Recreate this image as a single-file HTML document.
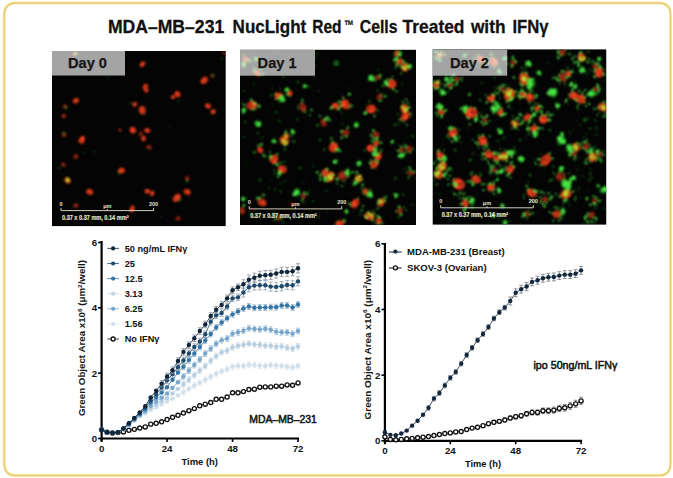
<!DOCTYPE html>
<html><head><meta charset="utf-8"><title>MDA-MB-231 NucLight Red Cells Treated with IFNg</title>
<style>
html,body{margin:0;padding:0;background:#fff;width:673px;height:478px;overflow:hidden}
svg{display:block;font-family:"Liberation Sans", sans-serif}
</style></head><body>
<svg width="673" height="478" viewBox="0 0 673 478">
<rect x="4.3" y="2.9" width="666.2" height="472.6" rx="10.5" ry="10.5" fill="none" stroke="#fdf3c6" stroke-width="3.4"/>
<rect x="4.3" y="2.9" width="666.2" height="472.6" rx="10.5" ry="10.5" fill="none" stroke="#e8c66a" stroke-width="1.5"/>
<text x="107.9" y="32.8" font-size="18.4" font-weight="bold" text-anchor="start" fill="#111" textLength="116.3" lengthAdjust="spacingAndGlyphs" stroke="#111" stroke-width="0.3">MDA&#8211;MB&#8211;231</text>
<text x="232.6" y="32.8" font-size="18.4" font-weight="bold" text-anchor="start" fill="#111" textLength="73.7" lengthAdjust="spacingAndGlyphs" stroke="#111" stroke-width="0.3">NucLight</text>
<text x="312.3" y="32.8" font-size="18.4" font-weight="bold" text-anchor="start" fill="#111" textLength="29.3" lengthAdjust="spacingAndGlyphs" stroke="#111" stroke-width="0.3">Red</text>
<text x="359.8" y="32.8" font-size="18.4" font-weight="bold" text-anchor="start" fill="#111" textLength="37.7" lengthAdjust="spacingAndGlyphs" stroke="#111" stroke-width="0.3">Cells</text>
<text x="402.6" y="32.8" font-size="18.4" font-weight="bold" text-anchor="start" fill="#111" textLength="61.9" lengthAdjust="spacingAndGlyphs" stroke="#111" stroke-width="0.3">Treated</text>
<text x="470.9" y="32.8" font-size="18.4" font-weight="bold" text-anchor="start" fill="#111" textLength="34.6" lengthAdjust="spacingAndGlyphs" stroke="#111" stroke-width="0.3">with</text>
<text x="512.4" y="32.8" font-size="18.4" font-weight="bold" text-anchor="start" fill="#111" textLength="36.1" lengthAdjust="spacingAndGlyphs" stroke="#111" stroke-width="0.3">IFN&#947;</text>
<text x="344.0" y="29.6" font-size="14" font-weight="bold" text-anchor="start" fill="#111" textLength="9.8" lengthAdjust="spacingAndGlyphs" stroke="#111" stroke-width="0.2">&#8482;</text>
<path d="M101.6,241 V441.5" stroke="#000" stroke-width="2.2" fill="none"/>
<path d="M100.5,438.5 H299.016" stroke="#000" stroke-width="2.2" fill="none"/>
<path d="M98.1,438.50 H101.6" stroke="#000" stroke-width="1.6"/>
<text x="97.2" y="442.00" font-size="9.7" font-weight="bold" text-anchor="end" fill="#111" >0</text>
<path d="M98.1,373.16 H101.6" stroke="#000" stroke-width="1.6"/>
<text x="97.2" y="376.66" font-size="9.7" font-weight="bold" text-anchor="end" fill="#111" >2</text>
<path d="M98.1,307.82 H101.6" stroke="#000" stroke-width="1.6"/>
<text x="97.2" y="311.32" font-size="9.7" font-weight="bold" text-anchor="end" fill="#111" >4</text>
<path d="M98.1,242.48 H101.6" stroke="#000" stroke-width="1.6"/>
<text x="97.2" y="245.98" font-size="9.7" font-weight="bold" text-anchor="end" fill="#111" >6</text>
<path d="M101.60,438.5 V442.0" stroke="#000" stroke-width="1.6"/>
<text x="101.60" y="452.00" font-size="9.7" font-weight="bold" text-anchor="middle" fill="#111" >0</text>
<path d="M167.07,438.5 V442.0" stroke="#000" stroke-width="1.6"/>
<text x="167.07" y="452.00" font-size="9.7" font-weight="bold" text-anchor="middle" fill="#111" >24</text>
<path d="M232.54,438.5 V442.0" stroke="#000" stroke-width="1.6"/>
<text x="232.54" y="452.00" font-size="9.7" font-weight="bold" text-anchor="middle" fill="#111" >48</text>
<path d="M298.02,438.5 V442.0" stroke="#000" stroke-width="1.6"/>
<text x="298.02" y="452.00" font-size="9.7" font-weight="bold" text-anchor="middle" fill="#111" >72</text>
<path d="M101.60,429.68 L107.06,432.29 L112.51,432.95 L117.97,432.62 L123.42,431.97 L128.88,430.33 L134.34,429.35 L139.79,428.05 L145.25,426.90 L150.70,424.13 L156.16,423.31 L161.62,421.84 L167.07,419.55 L172.53,417.26 L177.98,415.30 L183.44,413.02 L188.90,410.73 L194.35,408.61 L199.81,405.83 L205.26,404.20 L210.72,402.56 L216.18,399.30 L221.63,399.30 L227.09,397.01 L232.54,392.76 L238.00,392.76 L243.46,391.62 L248.91,389.50 L254.37,389.17 L259.82,387.21 L265.28,386.88 L270.74,386.88 L276.19,386.23 L281.65,386.23 L287.10,384.92 L292.56,385.25 L298.02,382.96" fill="none" stroke="#111" stroke-width="0.8"/>
<circle cx="101.60" cy="429.68" r="2.05" fill="#fff" stroke="#111" stroke-width="1.35"/>
<circle cx="107.06" cy="432.29" r="2.05" fill="#fff" stroke="#111" stroke-width="1.35"/>
<circle cx="112.51" cy="432.95" r="2.05" fill="#fff" stroke="#111" stroke-width="1.35"/>
<circle cx="117.97" cy="432.62" r="2.05" fill="#fff" stroke="#111" stroke-width="1.35"/>
<circle cx="123.42" cy="431.97" r="2.05" fill="#fff" stroke="#111" stroke-width="1.35"/>
<circle cx="128.88" cy="430.33" r="2.05" fill="#fff" stroke="#111" stroke-width="1.35"/>
<circle cx="134.34" cy="429.35" r="2.05" fill="#fff" stroke="#111" stroke-width="1.35"/>
<circle cx="139.79" cy="428.05" r="2.05" fill="#fff" stroke="#111" stroke-width="1.35"/>
<circle cx="145.25" cy="426.90" r="2.05" fill="#fff" stroke="#111" stroke-width="1.35"/>
<circle cx="150.70" cy="424.13" r="2.05" fill="#fff" stroke="#111" stroke-width="1.35"/>
<circle cx="156.16" cy="423.31" r="2.05" fill="#fff" stroke="#111" stroke-width="1.35"/>
<circle cx="161.62" cy="421.84" r="2.05" fill="#fff" stroke="#111" stroke-width="1.35"/>
<circle cx="167.07" cy="419.55" r="2.05" fill="#fff" stroke="#111" stroke-width="1.35"/>
<circle cx="172.53" cy="417.26" r="2.05" fill="#fff" stroke="#111" stroke-width="1.35"/>
<circle cx="177.98" cy="415.30" r="2.05" fill="#fff" stroke="#111" stroke-width="1.35"/>
<circle cx="183.44" cy="413.02" r="2.05" fill="#fff" stroke="#111" stroke-width="1.35"/>
<circle cx="188.90" cy="410.73" r="2.05" fill="#fff" stroke="#111" stroke-width="1.35"/>
<circle cx="194.35" cy="408.61" r="2.05" fill="#fff" stroke="#111" stroke-width="1.35"/>
<circle cx="199.81" cy="405.83" r="2.05" fill="#fff" stroke="#111" stroke-width="1.35"/>
<circle cx="205.26" cy="404.20" r="2.05" fill="#fff" stroke="#111" stroke-width="1.35"/>
<circle cx="210.72" cy="402.56" r="2.05" fill="#fff" stroke="#111" stroke-width="1.35"/>
<circle cx="216.18" cy="399.30" r="2.05" fill="#fff" stroke="#111" stroke-width="1.35"/>
<circle cx="221.63" cy="399.30" r="2.05" fill="#fff" stroke="#111" stroke-width="1.35"/>
<circle cx="227.09" cy="397.01" r="2.05" fill="#fff" stroke="#111" stroke-width="1.35"/>
<circle cx="232.54" cy="392.76" r="2.05" fill="#fff" stroke="#111" stroke-width="1.35"/>
<circle cx="238.00" cy="392.76" r="2.05" fill="#fff" stroke="#111" stroke-width="1.35"/>
<circle cx="243.46" cy="391.62" r="2.05" fill="#fff" stroke="#111" stroke-width="1.35"/>
<circle cx="248.91" cy="389.50" r="2.05" fill="#fff" stroke="#111" stroke-width="1.35"/>
<circle cx="254.37" cy="389.17" r="2.05" fill="#fff" stroke="#111" stroke-width="1.35"/>
<circle cx="259.82" cy="387.21" r="2.05" fill="#fff" stroke="#111" stroke-width="1.35"/>
<circle cx="265.28" cy="386.88" r="2.05" fill="#fff" stroke="#111" stroke-width="1.35"/>
<circle cx="270.74" cy="386.88" r="2.05" fill="#fff" stroke="#111" stroke-width="1.35"/>
<circle cx="276.19" cy="386.23" r="2.05" fill="#fff" stroke="#111" stroke-width="1.35"/>
<circle cx="281.65" cy="386.23" r="2.05" fill="#fff" stroke="#111" stroke-width="1.35"/>
<circle cx="287.10" cy="384.92" r="2.05" fill="#fff" stroke="#111" stroke-width="1.35"/>
<circle cx="292.56" cy="385.25" r="2.05" fill="#fff" stroke="#111" stroke-width="1.35"/>
<circle cx="298.02" cy="382.96" r="2.05" fill="#fff" stroke="#111" stroke-width="1.35"/>
<path d="M101.60,429.68 L107.06,432.29 L112.51,432.95 L117.97,432.29 L123.42,429.35 L128.88,425.43 L134.34,420.53 L139.79,416.28 L145.25,413.34 L150.70,410.08 L156.16,407.14 L161.62,404.20 L167.07,401.58 L172.53,398.64 L177.98,395.38 L183.44,392.11 L188.90,388.84 L194.35,385.57 L199.81,382.63 L205.26,379.69 L210.72,376.75 L216.18,373.81 L221.63,371.20 L227.09,369.24 L232.54,366.63 L238.00,365.97 L243.46,365.97 L248.91,364.67 L254.37,364.99 L259.82,365.65 L265.28,365.97 L270.74,364.99 L276.19,365.65 L281.65,365.97 L287.10,366.63 L292.56,367.28 L298.02,365.97" fill="none" stroke="#d0dfea" stroke-width="0.8"/>
<path d="M183.44,389.17V395.05M181.44,389.17h4M181.44,395.05h4" stroke="#dfe8ef" stroke-width="0.75" fill="none"/>
<path d="M188.90,385.90V391.78M186.90,385.90h4M186.90,391.78h4" stroke="#dfe8ef" stroke-width="0.75" fill="none"/>
<path d="M194.35,382.63V388.51M192.35,382.63h4M192.35,388.51h4" stroke="#dfe8ef" stroke-width="0.75" fill="none"/>
<path d="M199.81,379.69V385.57M197.81,379.69h4M197.81,385.57h4" stroke="#dfe8ef" stroke-width="0.75" fill="none"/>
<path d="M205.26,376.75V382.63M203.26,376.75h4M203.26,382.63h4" stroke="#dfe8ef" stroke-width="0.75" fill="none"/>
<path d="M210.72,373.81V379.69M208.72,373.81h4M208.72,379.69h4" stroke="#dfe8ef" stroke-width="0.75" fill="none"/>
<path d="M216.18,370.87V376.75M214.18,370.87h4M214.18,376.75h4" stroke="#dfe8ef" stroke-width="0.75" fill="none"/>
<path d="M221.63,368.26V374.14M219.63,368.26h4M219.63,374.14h4" stroke="#dfe8ef" stroke-width="0.75" fill="none"/>
<path d="M227.09,366.30V372.18M225.09,366.30h4M225.09,372.18h4" stroke="#dfe8ef" stroke-width="0.75" fill="none"/>
<path d="M232.54,363.69V369.57M230.54,363.69h4M230.54,369.57h4" stroke="#dfe8ef" stroke-width="0.75" fill="none"/>
<path d="M238.00,363.03V368.91M236.00,363.03h4M236.00,368.91h4" stroke="#dfe8ef" stroke-width="0.75" fill="none"/>
<path d="M243.46,363.03V368.91M241.46,363.03h4M241.46,368.91h4" stroke="#dfe8ef" stroke-width="0.75" fill="none"/>
<path d="M248.91,361.73V367.61M246.91,361.73h4M246.91,367.61h4" stroke="#dfe8ef" stroke-width="0.75" fill="none"/>
<path d="M254.37,362.05V367.93M252.37,362.05h4M252.37,367.93h4" stroke="#dfe8ef" stroke-width="0.75" fill="none"/>
<path d="M259.82,362.71V368.59M257.82,362.71h4M257.82,368.59h4" stroke="#dfe8ef" stroke-width="0.75" fill="none"/>
<path d="M265.28,363.03V368.91M263.28,363.03h4M263.28,368.91h4" stroke="#dfe8ef" stroke-width="0.75" fill="none"/>
<path d="M270.74,362.05V367.93M268.74,362.05h4M268.74,367.93h4" stroke="#dfe8ef" stroke-width="0.75" fill="none"/>
<path d="M276.19,362.71V368.59M274.19,362.71h4M274.19,368.59h4" stroke="#dfe8ef" stroke-width="0.75" fill="none"/>
<path d="M281.65,363.03V368.91M279.65,363.03h4M279.65,368.91h4" stroke="#dfe8ef" stroke-width="0.75" fill="none"/>
<path d="M287.10,363.69V369.57M285.10,363.69h4M285.10,369.57h4" stroke="#dfe8ef" stroke-width="0.75" fill="none"/>
<path d="M292.56,364.34V370.22M290.56,364.34h4M290.56,370.22h4" stroke="#dfe8ef" stroke-width="0.75" fill="none"/>
<path d="M298.02,363.03V368.91M296.02,363.03h4M296.02,368.91h4" stroke="#dfe8ef" stroke-width="0.75" fill="none"/>
<circle cx="101.60" cy="429.68" r="2.20" fill="#d0dfea"/>
<circle cx="107.06" cy="432.29" r="2.20" fill="#d0dfea"/>
<circle cx="112.51" cy="432.95" r="2.20" fill="#d0dfea"/>
<circle cx="117.97" cy="432.29" r="2.20" fill="#d0dfea"/>
<circle cx="123.42" cy="429.35" r="2.20" fill="#d0dfea"/>
<circle cx="128.88" cy="425.43" r="2.20" fill="#d0dfea"/>
<circle cx="134.34" cy="420.53" r="2.20" fill="#d0dfea"/>
<circle cx="139.79" cy="416.28" r="2.20" fill="#d0dfea"/>
<circle cx="145.25" cy="413.34" r="2.20" fill="#d0dfea"/>
<circle cx="150.70" cy="410.08" r="2.20" fill="#d0dfea"/>
<circle cx="156.16" cy="407.14" r="2.20" fill="#d0dfea"/>
<circle cx="161.62" cy="404.20" r="2.20" fill="#d0dfea"/>
<circle cx="167.07" cy="401.58" r="2.20" fill="#d0dfea"/>
<circle cx="172.53" cy="398.64" r="2.20" fill="#d0dfea"/>
<circle cx="177.98" cy="395.38" r="2.20" fill="#d0dfea"/>
<circle cx="183.44" cy="392.11" r="2.20" fill="#d0dfea"/>
<circle cx="188.90" cy="388.84" r="2.20" fill="#d0dfea"/>
<circle cx="194.35" cy="385.57" r="2.20" fill="#d0dfea"/>
<circle cx="199.81" cy="382.63" r="2.20" fill="#d0dfea"/>
<circle cx="205.26" cy="379.69" r="2.20" fill="#d0dfea"/>
<circle cx="210.72" cy="376.75" r="2.20" fill="#d0dfea"/>
<circle cx="216.18" cy="373.81" r="2.20" fill="#d0dfea"/>
<circle cx="221.63" cy="371.20" r="2.20" fill="#d0dfea"/>
<circle cx="227.09" cy="369.24" r="2.20" fill="#d0dfea"/>
<circle cx="232.54" cy="366.63" r="2.20" fill="#d0dfea"/>
<circle cx="238.00" cy="365.97" r="2.20" fill="#d0dfea"/>
<circle cx="243.46" cy="365.97" r="2.20" fill="#d0dfea"/>
<circle cx="248.91" cy="364.67" r="2.20" fill="#d0dfea"/>
<circle cx="254.37" cy="364.99" r="2.20" fill="#d0dfea"/>
<circle cx="259.82" cy="365.65" r="2.20" fill="#d0dfea"/>
<circle cx="265.28" cy="365.97" r="2.20" fill="#d0dfea"/>
<circle cx="270.74" cy="364.99" r="2.20" fill="#d0dfea"/>
<circle cx="276.19" cy="365.65" r="2.20" fill="#d0dfea"/>
<circle cx="281.65" cy="365.97" r="2.20" fill="#d0dfea"/>
<circle cx="287.10" cy="366.63" r="2.20" fill="#d0dfea"/>
<circle cx="292.56" cy="367.28" r="2.20" fill="#d0dfea"/>
<circle cx="298.02" cy="365.97" r="2.20" fill="#d0dfea"/>
<path d="M101.60,429.68 L107.06,432.29 L112.51,432.95 L117.97,432.29 L123.42,429.03 L128.88,425.11 L134.34,420.20 L139.79,415.63 L145.25,412.36 L150.70,408.12 L156.16,404.52 L161.62,401.26 L167.07,397.99 L172.53,393.42 L177.98,388.84 L183.44,384.27 L188.90,379.69 L194.35,375.12 L199.81,370.55 L205.26,365.97 L210.72,360.75 L216.18,356.17 L221.63,352.25 L227.09,350.62 L232.54,347.35 L238.00,345.72 L243.46,344.74 L248.91,343.76 L254.37,344.41 L259.82,344.74 L265.28,345.72 L270.74,345.72 L276.19,346.70 L281.65,346.37 L287.10,347.68 L292.56,348.66 L298.02,346.37" fill="none" stroke="#b7cee0" stroke-width="0.8"/>
<path d="M183.44,381.33V387.21M181.44,381.33h4M181.44,387.21h4" stroke="#cbd9e5" stroke-width="0.75" fill="none"/>
<path d="M188.90,376.75V382.63M186.90,376.75h4M186.90,382.63h4" stroke="#cbd9e5" stroke-width="0.75" fill="none"/>
<path d="M194.35,372.18V378.06M192.35,372.18h4M192.35,378.06h4" stroke="#cbd9e5" stroke-width="0.75" fill="none"/>
<path d="M199.81,367.61V373.49M197.81,367.61h4M197.81,373.49h4" stroke="#cbd9e5" stroke-width="0.75" fill="none"/>
<path d="M205.26,363.03V368.91M203.26,363.03h4M203.26,368.91h4" stroke="#cbd9e5" stroke-width="0.75" fill="none"/>
<path d="M210.72,357.81V363.69M208.72,357.81h4M208.72,363.69h4" stroke="#cbd9e5" stroke-width="0.75" fill="none"/>
<path d="M216.18,353.23V359.11M214.18,353.23h4M214.18,359.11h4" stroke="#cbd9e5" stroke-width="0.75" fill="none"/>
<path d="M221.63,349.31V355.19M219.63,349.31h4M219.63,355.19h4" stroke="#cbd9e5" stroke-width="0.75" fill="none"/>
<path d="M227.09,347.68V353.56M225.09,347.68h4M225.09,353.56h4" stroke="#cbd9e5" stroke-width="0.75" fill="none"/>
<path d="M232.54,344.41V350.29M230.54,344.41h4M230.54,350.29h4" stroke="#cbd9e5" stroke-width="0.75" fill="none"/>
<path d="M238.00,342.78V348.66M236.00,342.78h4M236.00,348.66h4" stroke="#cbd9e5" stroke-width="0.75" fill="none"/>
<path d="M243.46,341.80V347.68M241.46,341.80h4M241.46,347.68h4" stroke="#cbd9e5" stroke-width="0.75" fill="none"/>
<path d="M248.91,340.82V346.70M246.91,340.82h4M246.91,346.70h4" stroke="#cbd9e5" stroke-width="0.75" fill="none"/>
<path d="M254.37,341.47V347.35M252.37,341.47h4M252.37,347.35h4" stroke="#cbd9e5" stroke-width="0.75" fill="none"/>
<path d="M259.82,341.80V347.68M257.82,341.80h4M257.82,347.68h4" stroke="#cbd9e5" stroke-width="0.75" fill="none"/>
<path d="M265.28,342.78V348.66M263.28,342.78h4M263.28,348.66h4" stroke="#cbd9e5" stroke-width="0.75" fill="none"/>
<path d="M270.74,342.78V348.66M268.74,342.78h4M268.74,348.66h4" stroke="#cbd9e5" stroke-width="0.75" fill="none"/>
<path d="M276.19,343.76V349.64M274.19,343.76h4M274.19,349.64h4" stroke="#cbd9e5" stroke-width="0.75" fill="none"/>
<path d="M281.65,343.43V349.31M279.65,343.43h4M279.65,349.31h4" stroke="#cbd9e5" stroke-width="0.75" fill="none"/>
<path d="M287.10,344.74V350.62M285.10,344.74h4M285.10,350.62h4" stroke="#cbd9e5" stroke-width="0.75" fill="none"/>
<path d="M292.56,345.72V351.60M290.56,345.72h4M290.56,351.60h4" stroke="#cbd9e5" stroke-width="0.75" fill="none"/>
<path d="M298.02,343.43V349.31M296.02,343.43h4M296.02,349.31h4" stroke="#cbd9e5" stroke-width="0.75" fill="none"/>
<circle cx="101.60" cy="429.68" r="2.20" fill="#b7cee0"/>
<circle cx="107.06" cy="432.29" r="2.20" fill="#b7cee0"/>
<circle cx="112.51" cy="432.95" r="2.20" fill="#b7cee0"/>
<circle cx="117.97" cy="432.29" r="2.20" fill="#b7cee0"/>
<circle cx="123.42" cy="429.03" r="2.20" fill="#b7cee0"/>
<circle cx="128.88" cy="425.11" r="2.20" fill="#b7cee0"/>
<circle cx="134.34" cy="420.20" r="2.20" fill="#b7cee0"/>
<circle cx="139.79" cy="415.63" r="2.20" fill="#b7cee0"/>
<circle cx="145.25" cy="412.36" r="2.20" fill="#b7cee0"/>
<circle cx="150.70" cy="408.12" r="2.20" fill="#b7cee0"/>
<circle cx="156.16" cy="404.52" r="2.20" fill="#b7cee0"/>
<circle cx="161.62" cy="401.26" r="2.20" fill="#b7cee0"/>
<circle cx="167.07" cy="397.99" r="2.20" fill="#b7cee0"/>
<circle cx="172.53" cy="393.42" r="2.20" fill="#b7cee0"/>
<circle cx="177.98" cy="388.84" r="2.20" fill="#b7cee0"/>
<circle cx="183.44" cy="384.27" r="2.20" fill="#b7cee0"/>
<circle cx="188.90" cy="379.69" r="2.20" fill="#b7cee0"/>
<circle cx="194.35" cy="375.12" r="2.20" fill="#b7cee0"/>
<circle cx="199.81" cy="370.55" r="2.20" fill="#b7cee0"/>
<circle cx="205.26" cy="365.97" r="2.20" fill="#b7cee0"/>
<circle cx="210.72" cy="360.75" r="2.20" fill="#b7cee0"/>
<circle cx="216.18" cy="356.17" r="2.20" fill="#b7cee0"/>
<circle cx="221.63" cy="352.25" r="2.20" fill="#b7cee0"/>
<circle cx="227.09" cy="350.62" r="2.20" fill="#b7cee0"/>
<circle cx="232.54" cy="347.35" r="2.20" fill="#b7cee0"/>
<circle cx="238.00" cy="345.72" r="2.20" fill="#b7cee0"/>
<circle cx="243.46" cy="344.74" r="2.20" fill="#b7cee0"/>
<circle cx="248.91" cy="343.76" r="2.20" fill="#b7cee0"/>
<circle cx="254.37" cy="344.41" r="2.20" fill="#b7cee0"/>
<circle cx="259.82" cy="344.74" r="2.20" fill="#b7cee0"/>
<circle cx="265.28" cy="345.72" r="2.20" fill="#b7cee0"/>
<circle cx="270.74" cy="345.72" r="2.20" fill="#b7cee0"/>
<circle cx="276.19" cy="346.70" r="2.20" fill="#b7cee0"/>
<circle cx="281.65" cy="346.37" r="2.20" fill="#b7cee0"/>
<circle cx="287.10" cy="347.68" r="2.20" fill="#b7cee0"/>
<circle cx="292.56" cy="348.66" r="2.20" fill="#b7cee0"/>
<circle cx="298.02" cy="346.37" r="2.20" fill="#b7cee0"/>
<path d="M101.60,429.68 L107.06,432.29 L112.51,432.95 L117.97,432.29 L123.42,429.03 L128.88,424.78 L134.34,419.88 L139.79,414.98 L145.25,411.06 L150.70,405.83 L156.16,401.58 L161.62,397.66 L167.07,393.42 L172.53,387.86 L177.98,382.31 L183.44,376.43 L188.90,370.55 L194.35,364.99 L199.81,359.44 L205.26,353.56 L210.72,348.66 L216.18,343.76 L221.63,340.16 L227.09,338.53 L232.54,333.63 L238.00,332.32 L243.46,330.69 L248.91,328.40 L254.37,329.06 L259.82,329.38 L265.28,328.73 L270.74,329.71 L276.19,331.67 L281.65,332.32 L287.10,332.32 L292.56,333.63 L298.02,331.02" fill="none" stroke="#79a6ca" stroke-width="0.8"/>
<path d="M183.44,373.49V379.37M181.44,373.49h4M181.44,379.37h4" stroke="#a9c4da" stroke-width="0.75" fill="none"/>
<path d="M188.90,367.61V373.49M186.90,367.61h4M186.90,373.49h4" stroke="#a9c4da" stroke-width="0.75" fill="none"/>
<path d="M194.35,362.05V367.93M192.35,362.05h4M192.35,367.93h4" stroke="#a9c4da" stroke-width="0.75" fill="none"/>
<path d="M199.81,356.50V362.38M197.81,356.50h4M197.81,362.38h4" stroke="#a9c4da" stroke-width="0.75" fill="none"/>
<path d="M205.26,350.62V356.50M203.26,350.62h4M203.26,356.50h4" stroke="#a9c4da" stroke-width="0.75" fill="none"/>
<path d="M210.72,345.72V351.60M208.72,345.72h4M208.72,351.60h4" stroke="#a9c4da" stroke-width="0.75" fill="none"/>
<path d="M216.18,340.82V346.70M214.18,340.82h4M214.18,346.70h4" stroke="#a9c4da" stroke-width="0.75" fill="none"/>
<path d="M221.63,337.22V343.10M219.63,337.22h4M219.63,343.10h4" stroke="#a9c4da" stroke-width="0.75" fill="none"/>
<path d="M227.09,335.59V341.47M225.09,335.59h4M225.09,341.47h4" stroke="#a9c4da" stroke-width="0.75" fill="none"/>
<path d="M232.54,330.69V336.57M230.54,330.69h4M230.54,336.57h4" stroke="#a9c4da" stroke-width="0.75" fill="none"/>
<path d="M238.00,329.38V335.26M236.00,329.38h4M236.00,335.26h4" stroke="#a9c4da" stroke-width="0.75" fill="none"/>
<path d="M243.46,327.75V333.63M241.46,327.75h4M241.46,333.63h4" stroke="#a9c4da" stroke-width="0.75" fill="none"/>
<path d="M248.91,325.46V331.34M246.91,325.46h4M246.91,331.34h4" stroke="#a9c4da" stroke-width="0.75" fill="none"/>
<path d="M254.37,326.12V332.00M252.37,326.12h4M252.37,332.00h4" stroke="#a9c4da" stroke-width="0.75" fill="none"/>
<path d="M259.82,326.44V332.32M257.82,326.44h4M257.82,332.32h4" stroke="#a9c4da" stroke-width="0.75" fill="none"/>
<path d="M265.28,325.79V331.67M263.28,325.79h4M263.28,331.67h4" stroke="#a9c4da" stroke-width="0.75" fill="none"/>
<path d="M270.74,326.77V332.65M268.74,326.77h4M268.74,332.65h4" stroke="#a9c4da" stroke-width="0.75" fill="none"/>
<path d="M276.19,328.73V334.61M274.19,328.73h4M274.19,334.61h4" stroke="#a9c4da" stroke-width="0.75" fill="none"/>
<path d="M281.65,329.38V335.26M279.65,329.38h4M279.65,335.26h4" stroke="#a9c4da" stroke-width="0.75" fill="none"/>
<path d="M287.10,329.38V335.26M285.10,329.38h4M285.10,335.26h4" stroke="#a9c4da" stroke-width="0.75" fill="none"/>
<path d="M292.56,330.69V336.57M290.56,330.69h4M290.56,336.57h4" stroke="#a9c4da" stroke-width="0.75" fill="none"/>
<path d="M298.02,328.08V333.96M296.02,328.08h4M296.02,333.96h4" stroke="#a9c4da" stroke-width="0.75" fill="none"/>
<circle cx="101.60" cy="429.68" r="2.20" fill="#79a6ca"/>
<circle cx="107.06" cy="432.29" r="2.20" fill="#79a6ca"/>
<circle cx="112.51" cy="432.95" r="2.20" fill="#79a6ca"/>
<circle cx="117.97" cy="432.29" r="2.20" fill="#79a6ca"/>
<circle cx="123.42" cy="429.03" r="2.20" fill="#79a6ca"/>
<circle cx="128.88" cy="424.78" r="2.20" fill="#79a6ca"/>
<circle cx="134.34" cy="419.88" r="2.20" fill="#79a6ca"/>
<circle cx="139.79" cy="414.98" r="2.20" fill="#79a6ca"/>
<circle cx="145.25" cy="411.06" r="2.20" fill="#79a6ca"/>
<circle cx="150.70" cy="405.83" r="2.20" fill="#79a6ca"/>
<circle cx="156.16" cy="401.58" r="2.20" fill="#79a6ca"/>
<circle cx="161.62" cy="397.66" r="2.20" fill="#79a6ca"/>
<circle cx="167.07" cy="393.42" r="2.20" fill="#79a6ca"/>
<circle cx="172.53" cy="387.86" r="2.20" fill="#79a6ca"/>
<circle cx="177.98" cy="382.31" r="2.20" fill="#79a6ca"/>
<circle cx="183.44" cy="376.43" r="2.20" fill="#79a6ca"/>
<circle cx="188.90" cy="370.55" r="2.20" fill="#79a6ca"/>
<circle cx="194.35" cy="364.99" r="2.20" fill="#79a6ca"/>
<circle cx="199.81" cy="359.44" r="2.20" fill="#79a6ca"/>
<circle cx="205.26" cy="353.56" r="2.20" fill="#79a6ca"/>
<circle cx="210.72" cy="348.66" r="2.20" fill="#79a6ca"/>
<circle cx="216.18" cy="343.76" r="2.20" fill="#79a6ca"/>
<circle cx="221.63" cy="340.16" r="2.20" fill="#79a6ca"/>
<circle cx="227.09" cy="338.53" r="2.20" fill="#79a6ca"/>
<circle cx="232.54" cy="333.63" r="2.20" fill="#79a6ca"/>
<circle cx="238.00" cy="332.32" r="2.20" fill="#79a6ca"/>
<circle cx="243.46" cy="330.69" r="2.20" fill="#79a6ca"/>
<circle cx="248.91" cy="328.40" r="2.20" fill="#79a6ca"/>
<circle cx="254.37" cy="329.06" r="2.20" fill="#79a6ca"/>
<circle cx="259.82" cy="329.38" r="2.20" fill="#79a6ca"/>
<circle cx="265.28" cy="328.73" r="2.20" fill="#79a6ca"/>
<circle cx="270.74" cy="329.71" r="2.20" fill="#79a6ca"/>
<circle cx="276.19" cy="331.67" r="2.20" fill="#79a6ca"/>
<circle cx="281.65" cy="332.32" r="2.20" fill="#79a6ca"/>
<circle cx="287.10" cy="332.32" r="2.20" fill="#79a6ca"/>
<circle cx="292.56" cy="333.63" r="2.20" fill="#79a6ca"/>
<circle cx="298.02" cy="331.02" r="2.20" fill="#79a6ca"/>
<path d="M101.60,429.68 L107.06,432.29 L112.51,432.95 L117.97,432.29 L123.42,428.70 L128.88,424.13 L134.34,418.90 L139.79,414.00 L145.25,409.10 L150.70,402.56 L156.16,397.66 L161.62,392.44 L167.07,387.21 L172.53,379.69 L177.98,372.51 L183.44,366.63 L188.90,360.09 L194.35,353.56 L199.81,347.02 L205.26,340.49 L210.72,333.96 L216.18,327.42 L221.63,322.52 L227.09,318.27 L232.54,314.35 L238.00,311.41 L243.46,308.47 L248.91,306.51 L254.37,307.82 L259.82,307.49 L265.28,307.49 L270.74,307.17 L276.19,307.17 L281.65,305.53 L287.10,305.53 L292.56,307.49 L298.02,304.55" fill="none" stroke="#3474a6" stroke-width="0.8"/>
<path d="M183.44,363.69V369.57M181.44,363.69h4M181.44,369.57h4" stroke="#8fb0c9" stroke-width="0.75" fill="none"/>
<path d="M188.90,357.15V363.03M186.90,357.15h4M186.90,363.03h4" stroke="#8fb0c9" stroke-width="0.75" fill="none"/>
<path d="M194.35,350.62V356.50M192.35,350.62h4M192.35,356.50h4" stroke="#8fb0c9" stroke-width="0.75" fill="none"/>
<path d="M199.81,344.08V349.96M197.81,344.08h4M197.81,349.96h4" stroke="#8fb0c9" stroke-width="0.75" fill="none"/>
<path d="M205.26,337.55V343.43M203.26,337.55h4M203.26,343.43h4" stroke="#8fb0c9" stroke-width="0.75" fill="none"/>
<path d="M210.72,331.02V336.90M208.72,331.02h4M208.72,336.90h4" stroke="#8fb0c9" stroke-width="0.75" fill="none"/>
<path d="M216.18,324.48V330.36M214.18,324.48h4M214.18,330.36h4" stroke="#8fb0c9" stroke-width="0.75" fill="none"/>
<path d="M221.63,319.58V325.46M219.63,319.58h4M219.63,325.46h4" stroke="#8fb0c9" stroke-width="0.75" fill="none"/>
<path d="M227.09,315.33V321.21M225.09,315.33h4M225.09,321.21h4" stroke="#8fb0c9" stroke-width="0.75" fill="none"/>
<path d="M232.54,311.41V317.29M230.54,311.41h4M230.54,317.29h4" stroke="#8fb0c9" stroke-width="0.75" fill="none"/>
<path d="M238.00,308.47V314.35M236.00,308.47h4M236.00,314.35h4" stroke="#8fb0c9" stroke-width="0.75" fill="none"/>
<path d="M243.46,305.53V311.41M241.46,305.53h4M241.46,311.41h4" stroke="#8fb0c9" stroke-width="0.75" fill="none"/>
<path d="M248.91,303.57V309.45M246.91,303.57h4M246.91,309.45h4" stroke="#8fb0c9" stroke-width="0.75" fill="none"/>
<path d="M254.37,304.88V310.76M252.37,304.88h4M252.37,310.76h4" stroke="#8fb0c9" stroke-width="0.75" fill="none"/>
<path d="M259.82,304.55V310.43M257.82,304.55h4M257.82,310.43h4" stroke="#8fb0c9" stroke-width="0.75" fill="none"/>
<path d="M265.28,304.55V310.43M263.28,304.55h4M263.28,310.43h4" stroke="#8fb0c9" stroke-width="0.75" fill="none"/>
<path d="M270.74,304.23V310.11M268.74,304.23h4M268.74,310.11h4" stroke="#8fb0c9" stroke-width="0.75" fill="none"/>
<path d="M276.19,304.23V310.11M274.19,304.23h4M274.19,310.11h4" stroke="#8fb0c9" stroke-width="0.75" fill="none"/>
<path d="M281.65,302.59V308.47M279.65,302.59h4M279.65,308.47h4" stroke="#8fb0c9" stroke-width="0.75" fill="none"/>
<path d="M287.10,302.59V308.47M285.10,302.59h4M285.10,308.47h4" stroke="#8fb0c9" stroke-width="0.75" fill="none"/>
<path d="M292.56,304.55V310.43M290.56,304.55h4M290.56,310.43h4" stroke="#8fb0c9" stroke-width="0.75" fill="none"/>
<path d="M298.02,301.61V307.49M296.02,301.61h4M296.02,307.49h4" stroke="#8fb0c9" stroke-width="0.75" fill="none"/>
<circle cx="101.60" cy="429.68" r="2.20" fill="#3474a6"/>
<circle cx="107.06" cy="432.29" r="2.20" fill="#3474a6"/>
<circle cx="112.51" cy="432.95" r="2.20" fill="#3474a6"/>
<circle cx="117.97" cy="432.29" r="2.20" fill="#3474a6"/>
<circle cx="123.42" cy="428.70" r="2.20" fill="#3474a6"/>
<circle cx="128.88" cy="424.13" r="2.20" fill="#3474a6"/>
<circle cx="134.34" cy="418.90" r="2.20" fill="#3474a6"/>
<circle cx="139.79" cy="414.00" r="2.20" fill="#3474a6"/>
<circle cx="145.25" cy="409.10" r="2.20" fill="#3474a6"/>
<circle cx="150.70" cy="402.56" r="2.20" fill="#3474a6"/>
<circle cx="156.16" cy="397.66" r="2.20" fill="#3474a6"/>
<circle cx="161.62" cy="392.44" r="2.20" fill="#3474a6"/>
<circle cx="167.07" cy="387.21" r="2.20" fill="#3474a6"/>
<circle cx="172.53" cy="379.69" r="2.20" fill="#3474a6"/>
<circle cx="177.98" cy="372.51" r="2.20" fill="#3474a6"/>
<circle cx="183.44" cy="366.63" r="2.20" fill="#3474a6"/>
<circle cx="188.90" cy="360.09" r="2.20" fill="#3474a6"/>
<circle cx="194.35" cy="353.56" r="2.20" fill="#3474a6"/>
<circle cx="199.81" cy="347.02" r="2.20" fill="#3474a6"/>
<circle cx="205.26" cy="340.49" r="2.20" fill="#3474a6"/>
<circle cx="210.72" cy="333.96" r="2.20" fill="#3474a6"/>
<circle cx="216.18" cy="327.42" r="2.20" fill="#3474a6"/>
<circle cx="221.63" cy="322.52" r="2.20" fill="#3474a6"/>
<circle cx="227.09" cy="318.27" r="2.20" fill="#3474a6"/>
<circle cx="232.54" cy="314.35" r="2.20" fill="#3474a6"/>
<circle cx="238.00" cy="311.41" r="2.20" fill="#3474a6"/>
<circle cx="243.46" cy="308.47" r="2.20" fill="#3474a6"/>
<circle cx="248.91" cy="306.51" r="2.20" fill="#3474a6"/>
<circle cx="254.37" cy="307.82" r="2.20" fill="#3474a6"/>
<circle cx="259.82" cy="307.49" r="2.20" fill="#3474a6"/>
<circle cx="265.28" cy="307.49" r="2.20" fill="#3474a6"/>
<circle cx="270.74" cy="307.17" r="2.20" fill="#3474a6"/>
<circle cx="276.19" cy="307.17" r="2.20" fill="#3474a6"/>
<circle cx="281.65" cy="305.53" r="2.20" fill="#3474a6"/>
<circle cx="287.10" cy="305.53" r="2.20" fill="#3474a6"/>
<circle cx="292.56" cy="307.49" r="2.20" fill="#3474a6"/>
<circle cx="298.02" cy="304.55" r="2.20" fill="#3474a6"/>
<path d="M101.60,429.68 L107.06,432.29 L112.51,432.95 L117.97,432.29 L123.42,428.37 L128.88,423.47 L134.34,418.24 L139.79,413.02 L145.25,407.46 L150.70,400.28 L156.16,394.07 L161.62,387.53 L167.07,380.35 L172.53,374.14 L177.98,367.28 L183.44,360.42 L188.90,353.56 L194.35,347.02 L199.81,341.47 L205.26,334.28 L210.72,321.87 L216.18,315.33 L221.63,313.05 L227.09,306.51 L232.54,298.35 L238.00,297.37 L243.46,292.47 L248.91,287.24 L254.37,285.60 L259.82,285.28 L265.28,285.28 L270.74,286.58 L276.19,286.91 L281.65,286.26 L287.10,284.95 L292.56,285.28 L298.02,281.36" fill="none" stroke="#1f4a6c" stroke-width="0.8"/>
<path d="M161.62,384.27V390.80M159.62,384.27h4M159.62,390.80h4" stroke="#8a9aa8" stroke-width="0.75" fill="none"/>
<path d="M167.07,377.08V383.61M165.07,377.08h4M165.07,383.61h4" stroke="#8a9aa8" stroke-width="0.75" fill="none"/>
<path d="M172.53,370.87V377.41M170.53,370.87h4M170.53,377.41h4" stroke="#8a9aa8" stroke-width="0.75" fill="none"/>
<path d="M177.98,364.01V370.55M175.98,364.01h4M175.98,370.55h4" stroke="#8a9aa8" stroke-width="0.75" fill="none"/>
<path d="M183.44,357.15V363.69M181.44,357.15h4M181.44,363.69h4" stroke="#8a9aa8" stroke-width="0.75" fill="none"/>
<path d="M188.90,350.29V356.82M186.90,350.29h4M186.90,356.82h4" stroke="#8a9aa8" stroke-width="0.75" fill="none"/>
<path d="M194.35,343.76V350.29M192.35,343.76h4M192.35,350.29h4" stroke="#8a9aa8" stroke-width="0.75" fill="none"/>
<path d="M199.81,338.20V344.74M197.81,338.20h4M197.81,344.74h4" stroke="#8a9aa8" stroke-width="0.75" fill="none"/>
<path d="M205.26,331.02V337.55M203.26,331.02h4M203.26,337.55h4" stroke="#8a9aa8" stroke-width="0.75" fill="none"/>
<path d="M210.72,318.60V325.14M208.72,318.60h4M208.72,325.14h4" stroke="#8a9aa8" stroke-width="0.75" fill="none"/>
<path d="M216.18,312.07V318.60M214.18,312.07h4M214.18,318.60h4" stroke="#8a9aa8" stroke-width="0.75" fill="none"/>
<path d="M221.63,309.78V316.31M219.63,309.78h4M219.63,316.31h4" stroke="#8a9aa8" stroke-width="0.75" fill="none"/>
<path d="M227.09,303.25V309.78M225.09,303.25h4M225.09,309.78h4" stroke="#8a9aa8" stroke-width="0.75" fill="none"/>
<path d="M232.54,295.08V301.61M230.54,295.08h4M230.54,301.61h4" stroke="#8a9aa8" stroke-width="0.75" fill="none"/>
<path d="M238.00,294.10V300.63M236.00,294.10h4M236.00,300.63h4" stroke="#8a9aa8" stroke-width="0.75" fill="none"/>
<path d="M243.46,287.89V297.04M241.46,287.89h4M241.46,297.04h4" stroke="#8a9aa8" stroke-width="0.75" fill="none"/>
<path d="M248.91,282.66V291.81M246.91,282.66h4M246.91,291.81h4" stroke="#8a9aa8" stroke-width="0.75" fill="none"/>
<path d="M254.37,281.03V290.18M252.37,281.03h4M252.37,290.18h4" stroke="#8a9aa8" stroke-width="0.75" fill="none"/>
<path d="M259.82,280.70V289.85M257.82,280.70h4M257.82,289.85h4" stroke="#8a9aa8" stroke-width="0.75" fill="none"/>
<path d="M265.28,280.70V289.85M263.28,280.70h4M263.28,289.85h4" stroke="#8a9aa8" stroke-width="0.75" fill="none"/>
<path d="M270.74,282.01V291.16M268.74,282.01h4M268.74,291.16h4" stroke="#8a9aa8" stroke-width="0.75" fill="none"/>
<path d="M276.19,282.34V291.49M274.19,282.34h4M274.19,291.49h4" stroke="#8a9aa8" stroke-width="0.75" fill="none"/>
<path d="M281.65,281.68V290.83M279.65,281.68h4M279.65,290.83h4" stroke="#8a9aa8" stroke-width="0.75" fill="none"/>
<path d="M287.10,280.38V289.52M285.10,280.38h4M285.10,289.52h4" stroke="#8a9aa8" stroke-width="0.75" fill="none"/>
<path d="M292.56,280.70V289.85M290.56,280.70h4M290.56,289.85h4" stroke="#8a9aa8" stroke-width="0.75" fill="none"/>
<path d="M298.02,276.78V285.93M296.02,276.78h4M296.02,285.93h4" stroke="#8a9aa8" stroke-width="0.75" fill="none"/>
<circle cx="101.60" cy="429.68" r="2.20" fill="#1f4a6c"/>
<circle cx="107.06" cy="432.29" r="2.20" fill="#1f4a6c"/>
<circle cx="112.51" cy="432.95" r="2.20" fill="#1f4a6c"/>
<circle cx="117.97" cy="432.29" r="2.20" fill="#1f4a6c"/>
<circle cx="123.42" cy="428.37" r="2.20" fill="#1f4a6c"/>
<circle cx="128.88" cy="423.47" r="2.20" fill="#1f4a6c"/>
<circle cx="134.34" cy="418.24" r="2.20" fill="#1f4a6c"/>
<circle cx="139.79" cy="413.02" r="2.20" fill="#1f4a6c"/>
<circle cx="145.25" cy="407.46" r="2.20" fill="#1f4a6c"/>
<circle cx="150.70" cy="400.28" r="2.20" fill="#1f4a6c"/>
<circle cx="156.16" cy="394.07" r="2.20" fill="#1f4a6c"/>
<circle cx="161.62" cy="387.53" r="2.20" fill="#1f4a6c"/>
<circle cx="167.07" cy="380.35" r="2.20" fill="#1f4a6c"/>
<circle cx="172.53" cy="374.14" r="2.20" fill="#1f4a6c"/>
<circle cx="177.98" cy="367.28" r="2.20" fill="#1f4a6c"/>
<circle cx="183.44" cy="360.42" r="2.20" fill="#1f4a6c"/>
<circle cx="188.90" cy="353.56" r="2.20" fill="#1f4a6c"/>
<circle cx="194.35" cy="347.02" r="2.20" fill="#1f4a6c"/>
<circle cx="199.81" cy="341.47" r="2.20" fill="#1f4a6c"/>
<circle cx="205.26" cy="334.28" r="2.20" fill="#1f4a6c"/>
<circle cx="210.72" cy="321.87" r="2.20" fill="#1f4a6c"/>
<circle cx="216.18" cy="315.33" r="2.20" fill="#1f4a6c"/>
<circle cx="221.63" cy="313.05" r="2.20" fill="#1f4a6c"/>
<circle cx="227.09" cy="306.51" r="2.20" fill="#1f4a6c"/>
<circle cx="232.54" cy="298.35" r="2.20" fill="#1f4a6c"/>
<circle cx="238.00" cy="297.37" r="2.20" fill="#1f4a6c"/>
<circle cx="243.46" cy="292.47" r="2.20" fill="#1f4a6c"/>
<circle cx="248.91" cy="287.24" r="2.20" fill="#1f4a6c"/>
<circle cx="254.37" cy="285.60" r="2.20" fill="#1f4a6c"/>
<circle cx="259.82" cy="285.28" r="2.20" fill="#1f4a6c"/>
<circle cx="265.28" cy="285.28" r="2.20" fill="#1f4a6c"/>
<circle cx="270.74" cy="286.58" r="2.20" fill="#1f4a6c"/>
<circle cx="276.19" cy="286.91" r="2.20" fill="#1f4a6c"/>
<circle cx="281.65" cy="286.26" r="2.20" fill="#1f4a6c"/>
<circle cx="287.10" cy="284.95" r="2.20" fill="#1f4a6c"/>
<circle cx="292.56" cy="285.28" r="2.20" fill="#1f4a6c"/>
<circle cx="298.02" cy="281.36" r="2.20" fill="#1f4a6c"/>
<path d="M101.60,429.68 L107.06,432.29 L112.51,432.95 L117.97,432.29 L123.42,428.37 L128.88,423.15 L134.34,417.92 L139.79,412.36 L145.25,406.16 L150.70,397.34 L156.16,390.80 L161.62,383.61 L167.07,376.43 L172.53,370.22 L177.98,361.07 L183.44,351.92 L188.90,345.06 L194.35,338.20 L199.81,331.02 L205.26,324.48 L210.72,315.99 L216.18,309.78 L221.63,304.88 L227.09,298.35 L232.54,290.18 L238.00,287.24 L243.46,284.30 L248.91,279.72 L254.37,277.76 L259.82,275.80 L265.28,275.15 L270.74,274.82 L276.19,273.52 L281.65,271.88 L287.10,271.88 L292.56,271.23 L298.02,268.29" fill="none" stroke="#10253a" stroke-width="0.8"/>
<path d="M161.62,380.35V386.88M159.62,380.35h4M159.62,386.88h4" stroke="#7d8a96" stroke-width="0.75" fill="none"/>
<path d="M167.07,373.16V379.69M165.07,373.16h4M165.07,379.69h4" stroke="#7d8a96" stroke-width="0.75" fill="none"/>
<path d="M172.53,366.95V373.49M170.53,366.95h4M170.53,373.49h4" stroke="#7d8a96" stroke-width="0.75" fill="none"/>
<path d="M177.98,357.81V364.34M175.98,357.81h4M175.98,364.34h4" stroke="#7d8a96" stroke-width="0.75" fill="none"/>
<path d="M183.44,348.66V355.19M181.44,348.66h4M181.44,355.19h4" stroke="#7d8a96" stroke-width="0.75" fill="none"/>
<path d="M188.90,341.80V348.33M186.90,341.80h4M186.90,348.33h4" stroke="#7d8a96" stroke-width="0.75" fill="none"/>
<path d="M194.35,334.94V341.47M192.35,334.94h4M192.35,341.47h4" stroke="#7d8a96" stroke-width="0.75" fill="none"/>
<path d="M199.81,327.75V334.28M197.81,327.75h4M197.81,334.28h4" stroke="#7d8a96" stroke-width="0.75" fill="none"/>
<path d="M205.26,321.21V327.75M203.26,321.21h4M203.26,327.75h4" stroke="#7d8a96" stroke-width="0.75" fill="none"/>
<path d="M210.72,312.72V319.25M208.72,312.72h4M208.72,319.25h4" stroke="#7d8a96" stroke-width="0.75" fill="none"/>
<path d="M216.18,306.51V313.05M214.18,306.51h4M214.18,313.05h4" stroke="#7d8a96" stroke-width="0.75" fill="none"/>
<path d="M221.63,301.61V308.15M219.63,301.61h4M219.63,308.15h4" stroke="#7d8a96" stroke-width="0.75" fill="none"/>
<path d="M227.09,295.08V301.61M225.09,295.08h4M225.09,301.61h4" stroke="#7d8a96" stroke-width="0.75" fill="none"/>
<path d="M232.54,286.91V293.45M230.54,286.91h4M230.54,293.45h4" stroke="#7d8a96" stroke-width="0.75" fill="none"/>
<path d="M238.00,283.97V290.50M236.00,283.97h4M236.00,290.50h4" stroke="#7d8a96" stroke-width="0.75" fill="none"/>
<path d="M243.46,279.72V288.87M241.46,279.72h4M241.46,288.87h4" stroke="#7d8a96" stroke-width="0.75" fill="none"/>
<path d="M248.91,275.15V284.30M246.91,275.15h4M246.91,284.30h4" stroke="#7d8a96" stroke-width="0.75" fill="none"/>
<path d="M254.37,273.19V282.34M252.37,273.19h4M252.37,282.34h4" stroke="#7d8a96" stroke-width="0.75" fill="none"/>
<path d="M259.82,271.23V280.38M257.82,271.23h4M257.82,280.38h4" stroke="#7d8a96" stroke-width="0.75" fill="none"/>
<path d="M265.28,270.58V279.72M263.28,270.58h4M263.28,279.72h4" stroke="#7d8a96" stroke-width="0.75" fill="none"/>
<path d="M270.74,270.25V279.40M268.74,270.25h4M268.74,279.40h4" stroke="#7d8a96" stroke-width="0.75" fill="none"/>
<path d="M276.19,268.94V278.09M274.19,268.94h4M274.19,278.09h4" stroke="#7d8a96" stroke-width="0.75" fill="none"/>
<path d="M281.65,267.31V276.46M279.65,267.31h4M279.65,276.46h4" stroke="#7d8a96" stroke-width="0.75" fill="none"/>
<path d="M287.10,267.31V276.46M285.10,267.31h4M285.10,276.46h4" stroke="#7d8a96" stroke-width="0.75" fill="none"/>
<path d="M292.56,266.66V275.80M290.56,266.66h4M290.56,275.80h4" stroke="#7d8a96" stroke-width="0.75" fill="none"/>
<path d="M298.02,263.72V272.86M296.02,263.72h4M296.02,272.86h4" stroke="#7d8a96" stroke-width="0.75" fill="none"/>
<circle cx="101.60" cy="429.68" r="2.20" fill="#10253a"/>
<circle cx="107.06" cy="432.29" r="2.20" fill="#10253a"/>
<circle cx="112.51" cy="432.95" r="2.20" fill="#10253a"/>
<circle cx="117.97" cy="432.29" r="2.20" fill="#10253a"/>
<circle cx="123.42" cy="428.37" r="2.20" fill="#10253a"/>
<circle cx="128.88" cy="423.15" r="2.20" fill="#10253a"/>
<circle cx="134.34" cy="417.92" r="2.20" fill="#10253a"/>
<circle cx="139.79" cy="412.36" r="2.20" fill="#10253a"/>
<circle cx="145.25" cy="406.16" r="2.20" fill="#10253a"/>
<circle cx="150.70" cy="397.34" r="2.20" fill="#10253a"/>
<circle cx="156.16" cy="390.80" r="2.20" fill="#10253a"/>
<circle cx="161.62" cy="383.61" r="2.20" fill="#10253a"/>
<circle cx="167.07" cy="376.43" r="2.20" fill="#10253a"/>
<circle cx="172.53" cy="370.22" r="2.20" fill="#10253a"/>
<circle cx="177.98" cy="361.07" r="2.20" fill="#10253a"/>
<circle cx="183.44" cy="351.92" r="2.20" fill="#10253a"/>
<circle cx="188.90" cy="345.06" r="2.20" fill="#10253a"/>
<circle cx="194.35" cy="338.20" r="2.20" fill="#10253a"/>
<circle cx="199.81" cy="331.02" r="2.20" fill="#10253a"/>
<circle cx="205.26" cy="324.48" r="2.20" fill="#10253a"/>
<circle cx="210.72" cy="315.99" r="2.20" fill="#10253a"/>
<circle cx="216.18" cy="309.78" r="2.20" fill="#10253a"/>
<circle cx="221.63" cy="304.88" r="2.20" fill="#10253a"/>
<circle cx="227.09" cy="298.35" r="2.20" fill="#10253a"/>
<circle cx="232.54" cy="290.18" r="2.20" fill="#10253a"/>
<circle cx="238.00" cy="287.24" r="2.20" fill="#10253a"/>
<circle cx="243.46" cy="284.30" r="2.20" fill="#10253a"/>
<circle cx="248.91" cy="279.72" r="2.20" fill="#10253a"/>
<circle cx="254.37" cy="277.76" r="2.20" fill="#10253a"/>
<circle cx="259.82" cy="275.80" r="2.20" fill="#10253a"/>
<circle cx="265.28" cy="275.15" r="2.20" fill="#10253a"/>
<circle cx="270.74" cy="274.82" r="2.20" fill="#10253a"/>
<circle cx="276.19" cy="273.52" r="2.20" fill="#10253a"/>
<circle cx="281.65" cy="271.88" r="2.20" fill="#10253a"/>
<circle cx="287.10" cy="271.88" r="2.20" fill="#10253a"/>
<circle cx="292.56" cy="271.23" r="2.20" fill="#10253a"/>
<circle cx="298.02" cy="268.29" r="2.20" fill="#10253a"/>
<path d="M107.3,248.40 H118.9" stroke="#10253a" stroke-width="0.8"/>
<circle cx="113.1" cy="248.40" r="2.1" fill="#10253a"/>
<text x="124.7" y="251.70" font-size="9.2" font-weight="bold" text-anchor="start" fill="#111" >50 ng/mL IFN&#947;</text>
<path d="M107.3,263.50 H118.9" stroke="#1f4a6c" stroke-width="0.8"/>
<circle cx="113.1" cy="263.50" r="2.1" fill="#1f4a6c"/>
<text x="124.7" y="266.80" font-size="9.2" font-weight="bold" text-anchor="start" fill="#111" >25</text>
<path d="M107.3,278.60 H118.9" stroke="#3474a6" stroke-width="0.8"/>
<circle cx="113.1" cy="278.60" r="2.1" fill="#3474a6"/>
<text x="124.7" y="281.90" font-size="9.2" font-weight="bold" text-anchor="start" fill="#111" >12.5</text>
<path d="M107.3,293.70 H118.9" stroke="#c3d4e2" stroke-width="0.8"/>
<circle cx="113.1" cy="293.70" r="2.1" fill="#c3d4e2"/>
<text x="124.7" y="297.00" font-size="9.2" font-weight="bold" text-anchor="start" fill="#111" >3.13</text>
<path d="M107.3,308.80 H118.9" stroke="#79a6ca" stroke-width="0.8"/>
<circle cx="113.1" cy="308.80" r="2.1" fill="#79a6ca"/>
<text x="124.7" y="312.10" font-size="9.2" font-weight="bold" text-anchor="start" fill="#111" >6.25</text>
<path d="M107.3,323.90 H118.9" stroke="#d3e0ea" stroke-width="0.8"/>
<circle cx="113.1" cy="323.90" r="2.1" fill="#d3e0ea"/>
<text x="124.7" y="327.20" font-size="9.2" font-weight="bold" text-anchor="start" fill="#111" >1.56</text>
<path d="M107.3,339.00 H118.9" stroke="#111" stroke-width="0.8"/>
<circle cx="113.1" cy="339.00" r="2.0" fill="#fff" stroke="#111" stroke-width="1.3"/>
<text x="124.7" y="342.30" font-size="9.2" font-weight="bold" text-anchor="start" fill="#111" >No IFN&#947;</text>
<text x="249.3" y="423" font-size="10.6" font-weight="normal" text-anchor="start" fill="#111" textLength="67.6" lengthAdjust="spacingAndGlyphs" stroke="#111" stroke-width="0.5">MDA&#8211;MB&#8211;231</text>
<text x="181.5" y="464.5" font-size="9.2" font-weight="bold" text-anchor="start" fill="#111" textLength="36.5" lengthAdjust="spacingAndGlyphs" >Time (h)</text>
<g transform="translate(85.2,416) rotate(-90)"><text x="0" y="0" font-size="9.2" font-weight="bold" text-anchor="start" fill="#111" textLength="156" lengthAdjust="spacingAndGlyphs" >Green Object Area x10<tspan font-size="6" dy="-3.5">6</tspan><tspan dy="3.5"> (&#956;m</tspan><tspan font-size="6" dy="-3.5">2</tspan><tspan dy="3.5">/well)</tspan></text></g>
<path d="M384.9,243 V443.8" stroke="#000" stroke-width="2.2" fill="none"/>
<path d="M383.79999999999995,440.8 H582.1" stroke="#000" stroke-width="2.2" fill="none"/>
<path d="M381.4,440.80 H384.9" stroke="#000" stroke-width="1.6"/>
<text x="380.5" y="444.30" font-size="9.7" font-weight="bold" text-anchor="end" fill="#111" >0</text>
<path d="M381.4,375.14 H384.9" stroke="#000" stroke-width="1.6"/>
<text x="380.5" y="378.64" font-size="9.7" font-weight="bold" text-anchor="end" fill="#111" >2</text>
<path d="M381.4,309.48 H384.9" stroke="#000" stroke-width="1.6"/>
<text x="380.5" y="312.98" font-size="9.7" font-weight="bold" text-anchor="end" fill="#111" >4</text>
<path d="M381.4,243.82 H384.9" stroke="#000" stroke-width="1.6"/>
<text x="380.5" y="247.32" font-size="9.7" font-weight="bold" text-anchor="end" fill="#111" >6</text>
<path d="M384.90,440.8 V444.3" stroke="#000" stroke-width="1.6"/>
<text x="384.90" y="454.30" font-size="9.7" font-weight="bold" text-anchor="middle" fill="#111" >0</text>
<path d="M450.30,440.8 V444.3" stroke="#000" stroke-width="1.6"/>
<text x="450.30" y="454.30" font-size="9.7" font-weight="bold" text-anchor="middle" fill="#111" >24</text>
<path d="M515.70,440.8 V444.3" stroke="#000" stroke-width="1.6"/>
<text x="515.70" y="454.30" font-size="9.7" font-weight="bold" text-anchor="middle" fill="#111" >48</text>
<path d="M581.10,440.8 V444.3" stroke="#000" stroke-width="1.6"/>
<text x="581.10" y="454.30" font-size="9.7" font-weight="bold" text-anchor="middle" fill="#111" >72</text>
<path d="M384.90,436.84 L390.35,439.48 L395.80,439.81 L401.25,439.48 L406.70,438.82 L412.15,438.49 L417.60,437.83 L423.05,437.17 L428.50,436.51 L433.95,435.52 L439.40,434.54 L444.85,433.55 L450.30,432.89 L455.75,431.90 L461.20,431.57 L466.65,429.59 L472.10,428.11 L477.55,427.28 L483.00,425.63 L488.45,423.65 L493.90,422.34 L499.35,421.35 L504.80,420.03 L510.25,418.05 L515.70,416.73 L521.15,415.74 L526.60,413.76 L532.05,412.44 L537.50,412.44 L542.95,410.80 L548.40,410.80 L553.85,410.14 L559.30,408.49 L564.75,407.83 L570.20,405.85 L575.65,403.87 L581.10,400.90" fill="none" stroke="#111" stroke-width="0.8"/>
<path d="M493.90,420.69V423.98M491.90,420.69h4M491.90,423.98h4" stroke="#777" stroke-width="0.75" fill="none"/>
<path d="M499.35,419.57V423.12M497.35,419.57h4M497.35,423.12h4" stroke="#777" stroke-width="0.75" fill="none"/>
<path d="M504.80,418.12V421.93M502.80,418.12h4M502.80,421.93h4" stroke="#777" stroke-width="0.75" fill="none"/>
<path d="M510.25,416.01V420.09M508.25,416.01h4M508.25,420.09h4" stroke="#777" stroke-width="0.75" fill="none"/>
<path d="M515.70,414.56V418.90M513.70,414.56h4M513.70,418.90h4" stroke="#777" stroke-width="0.75" fill="none"/>
<path d="M521.15,413.44V418.04M519.15,413.44h4M519.15,418.04h4" stroke="#777" stroke-width="0.75" fill="none"/>
<path d="M526.60,411.33V416.19M524.60,411.33h4M524.60,416.19h4" stroke="#777" stroke-width="0.75" fill="none"/>
<path d="M532.05,409.88V415.01M530.05,409.88h4M530.05,415.01h4" stroke="#777" stroke-width="0.75" fill="none"/>
<path d="M537.50,409.75V415.14M535.50,409.75h4M535.50,415.14h4" stroke="#777" stroke-width="0.75" fill="none"/>
<path d="M542.95,407.97V413.62M540.95,407.97h4M540.95,413.62h4" stroke="#777" stroke-width="0.75" fill="none"/>
<path d="M548.40,407.84V413.75M546.40,407.84h4M546.40,413.75h4" stroke="#777" stroke-width="0.75" fill="none"/>
<path d="M553.85,407.05V413.22M551.85,407.05h4M551.85,413.22h4" stroke="#777" stroke-width="0.75" fill="none"/>
<path d="M559.30,405.27V411.71M557.30,405.27h4M557.30,411.71h4" stroke="#777" stroke-width="0.75" fill="none"/>
<path d="M564.75,404.48V411.18M562.75,404.48h4M562.75,411.18h4" stroke="#777" stroke-width="0.75" fill="none"/>
<path d="M570.20,402.37V409.33M568.20,402.37h4M568.20,409.33h4" stroke="#777" stroke-width="0.75" fill="none"/>
<path d="M575.65,400.26V407.48M573.65,400.26h4M573.65,407.48h4" stroke="#777" stroke-width="0.75" fill="none"/>
<path d="M581.10,397.16V404.65M579.10,397.16h4M579.10,404.65h4" stroke="#777" stroke-width="0.75" fill="none"/>
<circle cx="384.90" cy="436.84" r="2.05" fill="#fff" stroke="#111" stroke-width="1.35"/>
<circle cx="390.35" cy="439.48" r="2.05" fill="#fff" stroke="#111" stroke-width="1.35"/>
<circle cx="395.80" cy="439.81" r="2.05" fill="#fff" stroke="#111" stroke-width="1.35"/>
<circle cx="401.25" cy="439.48" r="2.05" fill="#fff" stroke="#111" stroke-width="1.35"/>
<circle cx="406.70" cy="438.82" r="2.05" fill="#fff" stroke="#111" stroke-width="1.35"/>
<circle cx="412.15" cy="438.49" r="2.05" fill="#fff" stroke="#111" stroke-width="1.35"/>
<circle cx="417.60" cy="437.83" r="2.05" fill="#fff" stroke="#111" stroke-width="1.35"/>
<circle cx="423.05" cy="437.17" r="2.05" fill="#fff" stroke="#111" stroke-width="1.35"/>
<circle cx="428.50" cy="436.51" r="2.05" fill="#fff" stroke="#111" stroke-width="1.35"/>
<circle cx="433.95" cy="435.52" r="2.05" fill="#fff" stroke="#111" stroke-width="1.35"/>
<circle cx="439.40" cy="434.54" r="2.05" fill="#fff" stroke="#111" stroke-width="1.35"/>
<circle cx="444.85" cy="433.55" r="2.05" fill="#fff" stroke="#111" stroke-width="1.35"/>
<circle cx="450.30" cy="432.89" r="2.05" fill="#fff" stroke="#111" stroke-width="1.35"/>
<circle cx="455.75" cy="431.90" r="2.05" fill="#fff" stroke="#111" stroke-width="1.35"/>
<circle cx="461.20" cy="431.57" r="2.05" fill="#fff" stroke="#111" stroke-width="1.35"/>
<circle cx="466.65" cy="429.59" r="2.05" fill="#fff" stroke="#111" stroke-width="1.35"/>
<circle cx="472.10" cy="428.11" r="2.05" fill="#fff" stroke="#111" stroke-width="1.35"/>
<circle cx="477.55" cy="427.28" r="2.05" fill="#fff" stroke="#111" stroke-width="1.35"/>
<circle cx="483.00" cy="425.63" r="2.05" fill="#fff" stroke="#111" stroke-width="1.35"/>
<circle cx="488.45" cy="423.65" r="2.05" fill="#fff" stroke="#111" stroke-width="1.35"/>
<circle cx="493.90" cy="422.34" r="2.05" fill="#fff" stroke="#111" stroke-width="1.35"/>
<circle cx="499.35" cy="421.35" r="2.05" fill="#fff" stroke="#111" stroke-width="1.35"/>
<circle cx="504.80" cy="420.03" r="2.05" fill="#fff" stroke="#111" stroke-width="1.35"/>
<circle cx="510.25" cy="418.05" r="2.05" fill="#fff" stroke="#111" stroke-width="1.35"/>
<circle cx="515.70" cy="416.73" r="2.05" fill="#fff" stroke="#111" stroke-width="1.35"/>
<circle cx="521.15" cy="415.74" r="2.05" fill="#fff" stroke="#111" stroke-width="1.35"/>
<circle cx="526.60" cy="413.76" r="2.05" fill="#fff" stroke="#111" stroke-width="1.35"/>
<circle cx="532.05" cy="412.44" r="2.05" fill="#fff" stroke="#111" stroke-width="1.35"/>
<circle cx="537.50" cy="412.44" r="2.05" fill="#fff" stroke="#111" stroke-width="1.35"/>
<circle cx="542.95" cy="410.80" r="2.05" fill="#fff" stroke="#111" stroke-width="1.35"/>
<circle cx="548.40" cy="410.80" r="2.05" fill="#fff" stroke="#111" stroke-width="1.35"/>
<circle cx="553.85" cy="410.14" r="2.05" fill="#fff" stroke="#111" stroke-width="1.35"/>
<circle cx="559.30" cy="408.49" r="2.05" fill="#fff" stroke="#111" stroke-width="1.35"/>
<circle cx="564.75" cy="407.83" r="2.05" fill="#fff" stroke="#111" stroke-width="1.35"/>
<circle cx="570.20" cy="405.85" r="2.05" fill="#fff" stroke="#111" stroke-width="1.35"/>
<circle cx="575.65" cy="403.87" r="2.05" fill="#fff" stroke="#111" stroke-width="1.35"/>
<circle cx="581.10" cy="400.90" r="2.05" fill="#fff" stroke="#111" stroke-width="1.35"/>
<path d="M384.90,432.23 L390.35,434.87 L395.80,435.19 L401.25,433.55 L406.70,430.58 L412.15,425.63 L417.60,420.69 L423.05,414.75 L428.50,407.83 L433.95,398.60 L439.40,392.99 L444.85,385.41 L450.30,377.83 L455.75,371.89 L461.20,363.65 L466.65,355.07 L472.10,347.82 L477.55,340.24 L483.00,333.97 L488.45,327.05 L493.90,318.48 L499.35,312.21 L504.80,307.60 L510.25,301.00 L515.70,292.76 L521.15,289.13 L526.60,286.49 L532.05,281.88 L537.50,280.23 L542.95,278.25 L548.40,277.26 L553.85,276.93 L559.30,275.61 L564.75,274.63 L570.20,274.63 L575.65,273.64 L581.10,270.34" fill="none" stroke="#13283d" stroke-width="0.8"/>
<path d="M428.50,405.53V410.13M426.50,405.53h4M426.50,410.13h4" stroke="#6a737c" stroke-width="0.75" fill="none"/>
<path d="M433.95,396.30V400.90M431.95,396.30h4M431.95,400.90h4" stroke="#6a737c" stroke-width="0.75" fill="none"/>
<path d="M439.40,390.69V395.29M437.40,390.69h4M437.40,395.29h4" stroke="#6a737c" stroke-width="0.75" fill="none"/>
<path d="M444.85,383.11V387.71M442.85,383.11h4M442.85,387.71h4" stroke="#6a737c" stroke-width="0.75" fill="none"/>
<path d="M450.30,375.53V380.12M448.30,375.53h4M448.30,380.12h4" stroke="#6a737c" stroke-width="0.75" fill="none"/>
<path d="M455.75,369.59V374.19M453.75,369.59h4M453.75,374.19h4" stroke="#6a737c" stroke-width="0.75" fill="none"/>
<path d="M461.20,361.35V365.95M459.20,361.35h4M459.20,365.95h4" stroke="#6a737c" stroke-width="0.75" fill="none"/>
<path d="M466.65,352.78V357.37M464.65,352.78h4M464.65,357.37h4" stroke="#6a737c" stroke-width="0.75" fill="none"/>
<path d="M472.10,345.52V350.12M470.10,345.52h4M470.10,350.12h4" stroke="#6a737c" stroke-width="0.75" fill="none"/>
<path d="M477.55,337.94V342.54M475.55,337.94h4M475.55,342.54h4" stroke="#6a737c" stroke-width="0.75" fill="none"/>
<path d="M483.00,331.68V336.27M481.00,331.68h4M481.00,336.27h4" stroke="#6a737c" stroke-width="0.75" fill="none"/>
<path d="M488.45,324.75V329.35M486.45,324.75h4M486.45,329.35h4" stroke="#6a737c" stroke-width="0.75" fill="none"/>
<path d="M493.90,316.18V320.78M491.90,316.18h4M491.90,320.78h4" stroke="#6a737c" stroke-width="0.75" fill="none"/>
<path d="M499.35,309.91V314.51M497.35,309.91h4M497.35,314.51h4" stroke="#6a737c" stroke-width="0.75" fill="none"/>
<path d="M504.80,305.30V309.89M502.80,305.30h4M502.80,309.89h4" stroke="#6a737c" stroke-width="0.75" fill="none"/>
<path d="M510.25,297.06V304.94M508.25,297.06h4M508.25,304.94h4" stroke="#6a737c" stroke-width="0.75" fill="none"/>
<path d="M515.70,288.82V296.70M513.70,288.82h4M513.70,296.70h4" stroke="#6a737c" stroke-width="0.75" fill="none"/>
<path d="M521.15,285.19V293.07M519.15,285.19h4M519.15,293.07h4" stroke="#6a737c" stroke-width="0.75" fill="none"/>
<path d="M526.60,282.56V290.43M524.60,282.56h4M524.60,290.43h4" stroke="#6a737c" stroke-width="0.75" fill="none"/>
<path d="M532.05,277.94V285.82M530.05,277.94h4M530.05,285.82h4" stroke="#6a737c" stroke-width="0.75" fill="none"/>
<path d="M537.50,276.29V284.17M535.50,276.29h4M535.50,284.17h4" stroke="#6a737c" stroke-width="0.75" fill="none"/>
<path d="M542.95,274.31V282.19M540.95,274.31h4M540.95,282.19h4" stroke="#6a737c" stroke-width="0.75" fill="none"/>
<path d="M548.40,273.32V281.20M546.40,273.32h4M546.40,281.20h4" stroke="#6a737c" stroke-width="0.75" fill="none"/>
<path d="M553.85,272.99V280.87M551.85,272.99h4M551.85,280.87h4" stroke="#6a737c" stroke-width="0.75" fill="none"/>
<path d="M559.30,271.67V279.55M557.30,271.67h4M557.30,279.55h4" stroke="#6a737c" stroke-width="0.75" fill="none"/>
<path d="M564.75,270.69V278.56M562.75,270.69h4M562.75,278.56h4" stroke="#6a737c" stroke-width="0.75" fill="none"/>
<path d="M570.20,270.69V278.56M568.20,270.69h4M568.20,278.56h4" stroke="#6a737c" stroke-width="0.75" fill="none"/>
<path d="M575.65,269.70V277.58M573.65,269.70h4M573.65,277.58h4" stroke="#6a737c" stroke-width="0.75" fill="none"/>
<path d="M581.10,266.40V274.28M579.10,266.40h4M579.10,274.28h4" stroke="#6a737c" stroke-width="0.75" fill="none"/>
<circle cx="384.90" cy="432.23" r="2.20" fill="#13283d"/>
<circle cx="390.35" cy="434.87" r="2.20" fill="#13283d"/>
<circle cx="395.80" cy="435.19" r="2.20" fill="#13283d"/>
<circle cx="401.25" cy="433.55" r="2.20" fill="#13283d"/>
<circle cx="406.70" cy="430.58" r="2.20" fill="#13283d"/>
<circle cx="412.15" cy="425.63" r="2.20" fill="#13283d"/>
<circle cx="417.60" cy="420.69" r="2.20" fill="#13283d"/>
<circle cx="423.05" cy="414.75" r="2.20" fill="#13283d"/>
<circle cx="428.50" cy="407.83" r="2.20" fill="#13283d"/>
<circle cx="433.95" cy="398.60" r="2.20" fill="#13283d"/>
<circle cx="439.40" cy="392.99" r="2.20" fill="#13283d"/>
<circle cx="444.85" cy="385.41" r="2.20" fill="#13283d"/>
<circle cx="450.30" cy="377.83" r="2.20" fill="#13283d"/>
<circle cx="455.75" cy="371.89" r="2.20" fill="#13283d"/>
<circle cx="461.20" cy="363.65" r="2.20" fill="#13283d"/>
<circle cx="466.65" cy="355.07" r="2.20" fill="#13283d"/>
<circle cx="472.10" cy="347.82" r="2.20" fill="#13283d"/>
<circle cx="477.55" cy="340.24" r="2.20" fill="#13283d"/>
<circle cx="483.00" cy="333.97" r="2.20" fill="#13283d"/>
<circle cx="488.45" cy="327.05" r="2.20" fill="#13283d"/>
<circle cx="493.90" cy="318.48" r="2.20" fill="#13283d"/>
<circle cx="499.35" cy="312.21" r="2.20" fill="#13283d"/>
<circle cx="504.80" cy="307.60" r="2.20" fill="#13283d"/>
<circle cx="510.25" cy="301.00" r="2.20" fill="#13283d"/>
<circle cx="515.70" cy="292.76" r="2.20" fill="#13283d"/>
<circle cx="521.15" cy="289.13" r="2.20" fill="#13283d"/>
<circle cx="526.60" cy="286.49" r="2.20" fill="#13283d"/>
<circle cx="532.05" cy="281.88" r="2.20" fill="#13283d"/>
<circle cx="537.50" cy="280.23" r="2.20" fill="#13283d"/>
<circle cx="542.95" cy="278.25" r="2.20" fill="#13283d"/>
<circle cx="548.40" cy="277.26" r="2.20" fill="#13283d"/>
<circle cx="553.85" cy="276.93" r="2.20" fill="#13283d"/>
<circle cx="559.30" cy="275.61" r="2.20" fill="#13283d"/>
<circle cx="564.75" cy="274.63" r="2.20" fill="#13283d"/>
<circle cx="570.20" cy="274.63" r="2.20" fill="#13283d"/>
<circle cx="575.65" cy="273.64" r="2.20" fill="#13283d"/>
<circle cx="581.10" cy="270.34" r="2.20" fill="#13283d"/>
<path d="M389,252 H401.7" stroke="#13283d" stroke-width="1"/><circle cx="395.4" cy="251.6" r="2.1" fill="#13283d"/>
<text x="407.1" y="255.3" font-size="9.2" font-weight="bold" text-anchor="start" fill="#111" textLength="97.6" lengthAdjust="spacingAndGlyphs" >MDA-MB-231 (Breast)</text>
<path d="M389,268 H401.7" stroke="#111" stroke-width="1"/><circle cx="395.4" cy="267.8" r="2.0" fill="#fff" stroke="#111" stroke-width="1.3"/>
<text x="407.1" y="270.5" font-size="9.2" font-weight="bold" text-anchor="start" fill="#111" textLength="79.5" lengthAdjust="spacingAndGlyphs" >SKOV-3 (Ovarian)</text>
<text x="533.5" y="368.6" font-size="10.6" font-weight="normal" text-anchor="start" fill="#111" textLength="83.9" lengthAdjust="spacingAndGlyphs" stroke="#111" stroke-width="0.5">ipo 50ng/mL IFN&#947;</text>
<text x="464.9" y="467" font-size="9.2" font-weight="bold" text-anchor="start" fill="#111" textLength="36.1" lengthAdjust="spacingAndGlyphs" >Time (h)</text>
<g transform="translate(370.6,419.4) rotate(-90)"><text x="0" y="0" font-size="9.2" font-weight="bold" text-anchor="start" fill="#111" textLength="159.5" lengthAdjust="spacingAndGlyphs" >Green Object Area x10<tspan font-size="6" dy="-3.5">6</tspan><tspan dy="3.5"> (&#956;m</tspan><tspan font-size="6" dy="-3.5">2</tspan><tspan dy="3.5">/well)</tspan></text></g>
<defs><filter id="bl" x="-50%" y="-50%" width="200%" height="200%"><feGaussianBlur stdDeviation="0.85"/></filter></defs>
<clipPath id="c0"><rect x="52" y="51" width="173.7" height="175.1"/></clipPath>
<rect x="52" y="51" width="173.7" height="175.1" fill="#030403"/>
<g clip-path="url(#c0)"><g filter="url(#bl)">
<circle cx="108.2" cy="77.4" r="1.06" fill="#2a8a2a" fill-opacity="0.33"/>
<circle cx="145.1" cy="115.0" r="0.64" fill="#2a8a2a" fill-opacity="0.50"/>
<circle cx="58.5" cy="126.9" r="0.65" fill="#2a8a2a" fill-opacity="0.34"/>
<circle cx="125.7" cy="195.8" r="0.69" fill="#2a8a2a" fill-opacity="0.39"/>
<circle cx="161.0" cy="216.9" r="1.00" fill="#2a8a2a" fill-opacity="0.46"/>
<circle cx="221.6" cy="59.2" r="1.20" fill="#2a8a2a" fill-opacity="0.42"/>
<circle cx="77.1" cy="71.6" r="0.82" fill="#2a8a2a" fill-opacity="0.63"/>
<circle cx="83.4" cy="152.8" r="1.05" fill="#2a8a2a" fill-opacity="0.45"/>
<circle cx="147.1" cy="62.0" r="0.64" fill="#2a8a2a" fill-opacity="0.38"/>
<circle cx="170.2" cy="125.9" r="0.82" fill="#2a8a2a" fill-opacity="0.53"/>
<circle cx="130.7" cy="103.5" r="1.16" fill="#2a8a2a" fill-opacity="0.58"/>
<circle cx="94.4" cy="151.6" r="0.97" fill="#2a8a2a" fill-opacity="0.65"/>
<circle cx="178.7" cy="101.4" r="1.29" fill="#2a8a2a" fill-opacity="0.35"/>
<circle cx="124.6" cy="183.6" r="0.71" fill="#2a8a2a" fill-opacity="0.50"/>
<circle cx="58.8" cy="168.0" r="1.14" fill="#2a8a2a" fill-opacity="0.53"/>
<ellipse cx="75.9" cy="100.7" rx="3.18" ry="2.77" transform="rotate(158 75.9 100.7)" fill="#d63418" fill-opacity="0.9"/>
<circle cx="75.1" cy="100.2" r="1.22" fill="#ff4a22" fill-opacity="0.85"/>
<circle cx="76.7" cy="99.4" r="1.22" fill="#ff4a22" fill-opacity="0.85"/>
<circle cx="75.8" cy="100.6" r="1.34" fill="#ff4a22" fill-opacity="0.85"/>
<circle cx="74.9" cy="99.4" r="0.90" fill="#6a1a10" fill-opacity="0.6"/>
<circle cx="75.8" cy="101.3" r="0.83" fill="#6a1a10" fill-opacity="0.6"/>
<ellipse cx="64.9" cy="106.2" rx="2.64" ry="2.05" transform="rotate(4 64.9 106.2)" fill="#8c2414" fill-opacity="0.75"/>
<circle cx="64.9" cy="106.2" r="1.16" fill="#b02c18" fill-opacity="0.7"/>
<circle cx="65.1" cy="106.4" r="1.00" fill="#b02c18" fill-opacity="0.7"/>
<ellipse cx="64.0" cy="116.3" rx="2.60" ry="2.37" transform="rotate(157 64.0 116.3)" fill="#8c2414" fill-opacity="0.75"/>
<circle cx="63.0" cy="116.0" r="1.27" fill="#b02c18" fill-opacity="0.7"/>
<circle cx="64.2" cy="116.0" r="1.09" fill="#b02c18" fill-opacity="0.7"/>
<ellipse cx="64.0" cy="134.7" rx="2.88" ry="2.50" transform="rotate(65 64.0 134.7)" fill="#8c2414" fill-opacity="0.75"/>
<circle cx="64.1" cy="134.9" r="0.94" fill="#b02c18" fill-opacity="0.7"/>
<circle cx="64.1" cy="135.2" r="1.09" fill="#b02c18" fill-opacity="0.7"/>
<ellipse cx="132.9" cy="130.1" rx="3.60" ry="3.14" transform="rotate(47 132.9 130.1)" fill="#d63418" fill-opacity="0.9"/>
<circle cx="132.1" cy="130.9" r="1.77" fill="#ff4a22" fill-opacity="0.85"/>
<circle cx="132.5" cy="129.1" r="1.57" fill="#ff4a22" fill-opacity="0.85"/>
<circle cx="132.9" cy="130.0" r="1.74" fill="#ff4a22" fill-opacity="0.85"/>
<circle cx="133.2" cy="128.4" r="1.08" fill="#6a1a10" fill-opacity="0.6"/>
<circle cx="132.3" cy="130.6" r="0.66" fill="#6a1a10" fill-opacity="0.6"/>
<ellipse cx="134.8" cy="104.3" rx="2.74" ry="2.14" transform="rotate(114 134.8 104.3)" fill="#d63418" fill-opacity="0.9"/>
<circle cx="134.9" cy="104.5" r="1.05" fill="#ff4a22" fill-opacity="0.85"/>
<circle cx="134.8" cy="104.3" r="0.97" fill="#ff4a22" fill-opacity="0.85"/>
<circle cx="135.2" cy="104.6" r="0.91" fill="#ff4a22" fill-opacity="0.85"/>
<circle cx="135.4" cy="103.6" r="0.52" fill="#6a1a10" fill-opacity="0.6"/>
<circle cx="134.8" cy="104.8" r="0.61" fill="#6a1a10" fill-opacity="0.6"/>
<ellipse cx="120.0" cy="130.0" rx="2.04" ry="1.80" transform="rotate(22 120.0 130.0)" fill="#8c2414" fill-opacity="0.75"/>
<circle cx="119.6" cy="130.1" r="0.63" fill="#b02c18" fill-opacity="0.7"/>
<circle cx="120.2" cy="130.2" r="0.68" fill="#b02c18" fill-opacity="0.7"/>
<ellipse cx="75.0" cy="53.8" rx="2.33" ry="1.76" transform="rotate(149 75.0 53.8)" fill="#da4a1a" fill-opacity="0.9"/>
<circle cx="75.9" cy="53.5" r="0.61" fill="#b4e634" fill-opacity="0.85"/>
<circle cx="75.0" cy="53.8" r="0.76" fill="#b4e634" fill-opacity="0.85"/>
<circle cx="76.6" cy="53.6" r="0.83" fill="#b4e634" fill-opacity="0.85"/>
<circle cx="75.0" cy="54.5" r="0.62" fill="#b4e634" fill-opacity="0.85"/>
<ellipse cx="82.3" cy="138.4" rx="2.82" ry="2.40" transform="rotate(139 82.3 138.4)" fill="#d63418" fill-opacity="0.9"/>
<circle cx="82.2" cy="138.7" r="1.18" fill="#ff4a22" fill-opacity="0.85"/>
<circle cx="83.5" cy="138.3" r="1.18" fill="#ff4a22" fill-opacity="0.85"/>
<circle cx="82.7" cy="137.5" r="0.94" fill="#ff4a22" fill-opacity="0.85"/>
<circle cx="81.8" cy="138.3" r="0.43" fill="#6a1a10" fill-opacity="0.6"/>
<circle cx="82.7" cy="138.5" r="0.53" fill="#6a1a10" fill-opacity="0.6"/>
<ellipse cx="142.3" cy="64.2" rx="3.27" ry="2.37" transform="rotate(125 142.3 64.2)" fill="#d63418" fill-opacity="0.9"/>
<circle cx="143.7" cy="63.6" r="1.33" fill="#ff4a22" fill-opacity="0.85"/>
<circle cx="142.1" cy="64.4" r="1.00" fill="#ff4a22" fill-opacity="0.85"/>
<circle cx="142.4" cy="64.5" r="1.18" fill="#ff4a22" fill-opacity="0.85"/>
<circle cx="143.3" cy="63.5" r="0.67" fill="#6a1a10" fill-opacity="0.6"/>
<circle cx="141.6" cy="63.2" r="0.49" fill="#6a1a10" fill-opacity="0.6"/>
<ellipse cx="145.4" cy="86.9" rx="3.25" ry="2.57" transform="rotate(119 145.4 86.9)" fill="#d63418" fill-opacity="0.9"/>
<circle cx="145.4" cy="86.2" r="0.98" fill="#ff4a22" fill-opacity="0.85"/>
<circle cx="145.5" cy="86.4" r="1.26" fill="#ff4a22" fill-opacity="0.85"/>
<circle cx="146.0" cy="86.8" r="1.08" fill="#ff4a22" fill-opacity="0.85"/>
<circle cx="146.4" cy="86.5" r="0.53" fill="#6a1a10" fill-opacity="0.6"/>
<circle cx="145.6" cy="87.1" r="0.86" fill="#6a1a10" fill-opacity="0.6"/>
<ellipse cx="146.4" cy="90.5" rx="2.32" ry="2.16" transform="rotate(145 146.4 90.5)" fill="#d63418" fill-opacity="0.9"/>
<circle cx="147.2" cy="90.4" r="0.88" fill="#ff4a22" fill-opacity="0.85"/>
<circle cx="146.2" cy="90.5" r="0.76" fill="#ff4a22" fill-opacity="0.85"/>
<circle cx="147.2" cy="90.4" r="0.95" fill="#ff4a22" fill-opacity="0.85"/>
<circle cx="146.9" cy="90.3" r="0.70" fill="#6a1a10" fill-opacity="0.6"/>
<circle cx="146.5" cy="90.3" r="0.47" fill="#6a1a10" fill-opacity="0.6"/>
<ellipse cx="177.6" cy="94.2" rx="3.32" ry="2.86" transform="rotate(53 177.6 94.2)" fill="#d63418" fill-opacity="0.9"/>
<circle cx="177.6" cy="94.9" r="1.12" fill="#ff4a22" fill-opacity="0.85"/>
<circle cx="178.1" cy="93.9" r="1.29" fill="#ff4a22" fill-opacity="0.85"/>
<circle cx="176.2" cy="93.4" r="1.27" fill="#ff4a22" fill-opacity="0.85"/>
<circle cx="178.4" cy="93.8" r="0.80" fill="#6a1a10" fill-opacity="0.6"/>
<circle cx="177.6" cy="94.2" r="0.76" fill="#6a1a10" fill-opacity="0.6"/>
<ellipse cx="173.0" cy="97.0" rx="2.25" ry="2.15" transform="rotate(33 173.0 97.0)" fill="#d63418" fill-opacity="0.9"/>
<circle cx="173.3" cy="97.5" r="1.02" fill="#ff4a22" fill-opacity="0.85"/>
<circle cx="172.6" cy="96.9" r="0.94" fill="#ff4a22" fill-opacity="0.85"/>
<circle cx="172.1" cy="96.7" r="0.79" fill="#ff4a22" fill-opacity="0.85"/>
<circle cx="172.7" cy="96.9" r="0.48" fill="#6a1a10" fill-opacity="0.6"/>
<circle cx="173.1" cy="96.4" r="0.59" fill="#6a1a10" fill-opacity="0.6"/>
<ellipse cx="204.3" cy="80.4" rx="4.33" ry="3.15" transform="rotate(137 204.3 80.4)" fill="#d63418" fill-opacity="0.9"/>
<circle cx="203.5" cy="79.7" r="1.51" fill="#ff4a22" fill-opacity="0.85"/>
<circle cx="204.0" cy="79.6" r="1.52" fill="#ff4a22" fill-opacity="0.85"/>
<circle cx="202.4" cy="80.7" r="1.62" fill="#ff4a22" fill-opacity="0.85"/>
<circle cx="205.6" cy="79.1" r="0.76" fill="#6a1a10" fill-opacity="0.6"/>
<circle cx="202.5" cy="79.7" r="1.10" fill="#6a1a10" fill-opacity="0.6"/>
<ellipse cx="212.2" cy="75.8" rx="2.19" ry="1.97" transform="rotate(25 212.2 75.8)" fill="#8c2414" fill-opacity="0.75"/>
<circle cx="212.4" cy="75.9" r="0.78" fill="#b02c18" fill-opacity="0.7"/>
<circle cx="211.8" cy="75.1" r="1.09" fill="#b02c18" fill-opacity="0.7"/>
<ellipse cx="208.0" cy="105.8" rx="3.13" ry="2.50" transform="rotate(28 208.0 105.8)" fill="#d63418" fill-opacity="0.9"/>
<circle cx="208.8" cy="106.8" r="1.34" fill="#ff4a22" fill-opacity="0.85"/>
<circle cx="208.3" cy="107.2" r="1.08" fill="#ff4a22" fill-opacity="0.85"/>
<circle cx="206.5" cy="105.9" r="1.27" fill="#ff4a22" fill-opacity="0.85"/>
<circle cx="208.3" cy="106.3" r="0.68" fill="#6a1a10" fill-opacity="0.6"/>
<circle cx="207.8" cy="106.0" r="0.59" fill="#6a1a10" fill-opacity="0.6"/>
<ellipse cx="213.0" cy="111.7" rx="2.71" ry="2.43" transform="rotate(130 213.0 111.7)" fill="#d63418" fill-opacity="0.9"/>
<circle cx="213.0" cy="111.7" r="1.05" fill="#ff4a22" fill-opacity="0.85"/>
<circle cx="212.5" cy="111.2" r="0.93" fill="#ff4a22" fill-opacity="0.85"/>
<circle cx="214.2" cy="111.6" r="1.34" fill="#ff4a22" fill-opacity="0.85"/>
<circle cx="213.3" cy="111.9" r="0.47" fill="#6a1a10" fill-opacity="0.6"/>
<circle cx="213.1" cy="111.3" r="0.51" fill="#6a1a10" fill-opacity="0.6"/>
<ellipse cx="142.3" cy="110.2" rx="4.33" ry="3.46" transform="rotate(76 142.3 110.2)" fill="#d63418" fill-opacity="0.9"/>
<circle cx="142.3" cy="110.5" r="1.75" fill="#ff4a22" fill-opacity="0.85"/>
<circle cx="141.0" cy="109.6" r="1.25" fill="#ff4a22" fill-opacity="0.85"/>
<circle cx="143.6" cy="110.7" r="1.46" fill="#ff4a22" fill-opacity="0.85"/>
<circle cx="144.0" cy="111.0" r="0.98" fill="#6a1a10" fill-opacity="0.6"/>
<circle cx="142.4" cy="110.0" r="1.11" fill="#6a1a10" fill-opacity="0.6"/>
<ellipse cx="147.3" cy="130.5" rx="3.22" ry="2.37" transform="rotate(12 147.3 130.5)" fill="#d63418" fill-opacity="0.9"/>
<circle cx="146.9" cy="131.2" r="1.32" fill="#ff4a22" fill-opacity="0.85"/>
<circle cx="147.3" cy="130.7" r="1.14" fill="#ff4a22" fill-opacity="0.85"/>
<circle cx="147.3" cy="130.7" r="0.97" fill="#ff4a22" fill-opacity="0.85"/>
<circle cx="147.6" cy="130.6" r="0.59" fill="#6a1a10" fill-opacity="0.6"/>
<circle cx="146.9" cy="131.6" r="0.58" fill="#6a1a10" fill-opacity="0.6"/>
<ellipse cx="143.6" cy="138.4" rx="2.81" ry="2.31" transform="rotate(90 143.6 138.4)" fill="#d63418" fill-opacity="0.9"/>
<circle cx="144.0" cy="138.4" r="0.91" fill="#ff4a22" fill-opacity="0.85"/>
<circle cx="143.5" cy="137.6" r="0.99" fill="#ff4a22" fill-opacity="0.85"/>
<circle cx="142.2" cy="138.6" r="0.95" fill="#ff4a22" fill-opacity="0.85"/>
<circle cx="143.9" cy="137.8" r="0.67" fill="#6a1a10" fill-opacity="0.6"/>
<circle cx="143.9" cy="137.9" r="0.68" fill="#6a1a10" fill-opacity="0.6"/>
<ellipse cx="140.8" cy="133.8" rx="2.62" ry="1.92" transform="rotate(124 140.8 133.8)" fill="#8c2414" fill-opacity="0.75"/>
<circle cx="141.1" cy="133.2" r="0.99" fill="#b02c18" fill-opacity="0.7"/>
<circle cx="140.5" cy="134.0" r="0.77" fill="#b02c18" fill-opacity="0.7"/>
<ellipse cx="81.4" cy="140.8" rx="3.20" ry="2.97" transform="rotate(23 81.4 140.8)" fill="#d63418" fill-opacity="0.9"/>
<circle cx="81.4" cy="141.1" r="1.09" fill="#ff4a22" fill-opacity="0.85"/>
<circle cx="82.2" cy="139.5" r="1.40" fill="#ff4a22" fill-opacity="0.85"/>
<circle cx="81.3" cy="141.2" r="1.20" fill="#ff4a22" fill-opacity="0.85"/>
<circle cx="81.1" cy="140.9" r="0.76" fill="#6a1a10" fill-opacity="0.6"/>
<circle cx="81.3" cy="142.5" r="1.04" fill="#6a1a10" fill-opacity="0.6"/>
<ellipse cx="75.9" cy="156.5" rx="2.70" ry="2.68" transform="rotate(98 75.9 156.5)" fill="#8c2414" fill-opacity="0.75"/>
<circle cx="75.7" cy="156.9" r="0.90" fill="#b02c18" fill-opacity="0.7"/>
<circle cx="75.5" cy="156.9" r="1.13" fill="#b02c18" fill-opacity="0.7"/>
<ellipse cx="63.4" cy="164.7" rx="2.85" ry="2.10" transform="rotate(36 63.4 164.7)" fill="#8c2414" fill-opacity="0.75"/>
<circle cx="63.4" cy="164.8" r="1.08" fill="#b02c18" fill-opacity="0.7"/>
<circle cx="63.4" cy="164.7" r="1.04" fill="#b02c18" fill-opacity="0.7"/>
<ellipse cx="67.6" cy="180.4" rx="3.56" ry="2.82" transform="rotate(42 67.6 180.4)" fill="#da4a1a" fill-opacity="0.9"/>
<circle cx="67.6" cy="178.7" r="1.17" fill="#b4e634" fill-opacity="0.85"/>
<circle cx="68.3" cy="179.7" r="0.95" fill="#b4e634" fill-opacity="0.85"/>
<circle cx="68.0" cy="180.4" r="1.18" fill="#b4e634" fill-opacity="0.85"/>
<circle cx="67.5" cy="180.3" r="1.24" fill="#b4e634" fill-opacity="0.85"/>
<ellipse cx="121.5" cy="170.6" rx="3.59" ry="2.96" transform="rotate(161 121.5 170.6)" fill="#d63418" fill-opacity="0.9"/>
<circle cx="121.6" cy="170.4" r="1.32" fill="#ff4a22" fill-opacity="0.85"/>
<circle cx="120.0" cy="170.6" r="1.47" fill="#ff4a22" fill-opacity="0.85"/>
<circle cx="122.0" cy="169.7" r="1.52" fill="#ff4a22" fill-opacity="0.85"/>
<circle cx="121.0" cy="169.5" r="0.65" fill="#6a1a10" fill-opacity="0.6"/>
<circle cx="121.7" cy="170.6" r="0.71" fill="#6a1a10" fill-opacity="0.6"/>
<ellipse cx="89.7" cy="192.0" rx="3.74" ry="2.84" transform="rotate(19 89.7 192.0)" fill="#d63418" fill-opacity="0.9"/>
<circle cx="88.9" cy="191.2" r="1.41" fill="#ff4a22" fill-opacity="0.85"/>
<circle cx="89.7" cy="192.0" r="1.47" fill="#ff4a22" fill-opacity="0.85"/>
<circle cx="89.7" cy="191.1" r="1.33" fill="#ff4a22" fill-opacity="0.85"/>
<circle cx="89.6" cy="191.9" r="0.91" fill="#6a1a10" fill-opacity="0.6"/>
<circle cx="89.7" cy="192.1" r="0.66" fill="#6a1a10" fill-opacity="0.6"/>
<ellipse cx="75.9" cy="205.6" rx="2.67" ry="2.54" transform="rotate(131 75.9 205.6)" fill="#8c2414" fill-opacity="0.75"/>
<circle cx="76.5" cy="205.5" r="1.07" fill="#b02c18" fill-opacity="0.7"/>
<circle cx="75.1" cy="205.7" r="1.25" fill="#b02c18" fill-opacity="0.7"/>
<ellipse cx="132.0" cy="208.9" rx="3.60" ry="2.50" transform="rotate(111 132.0 208.9)" fill="#d63418" fill-opacity="0.9"/>
<circle cx="132.3" cy="209.3" r="1.44" fill="#ff4a22" fill-opacity="0.85"/>
<circle cx="131.7" cy="209.8" r="1.06" fill="#ff4a22" fill-opacity="0.85"/>
<circle cx="132.4" cy="209.1" r="1.40" fill="#ff4a22" fill-opacity="0.85"/>
<circle cx="131.6" cy="207.8" r="0.68" fill="#6a1a10" fill-opacity="0.6"/>
<circle cx="131.2" cy="208.8" r="0.77" fill="#6a1a10" fill-opacity="0.6"/>
<ellipse cx="149.1" cy="147.3" rx="3.09" ry="2.22" transform="rotate(21 149.1 147.3)" fill="#8c2414" fill-opacity="0.75"/>
<circle cx="150.2" cy="147.1" r="0.91" fill="#b02c18" fill-opacity="0.7"/>
<circle cx="148.1" cy="147.6" r="1.34" fill="#b02c18" fill-opacity="0.7"/>
<ellipse cx="187.2" cy="178.5" rx="2.71" ry="2.23" transform="rotate(81 187.2 178.5)" fill="#8c2414" fill-opacity="0.75"/>
<circle cx="187.4" cy="178.4" r="1.16" fill="#b02c18" fill-opacity="0.7"/>
<circle cx="187.6" cy="179.0" r="1.33" fill="#b02c18" fill-opacity="0.7"/>
<ellipse cx="187.2" cy="192.0" rx="3.72" ry="2.81" transform="rotate(24 187.2 192.0)" fill="#d63418" fill-opacity="0.9"/>
<circle cx="188.1" cy="191.2" r="1.17" fill="#ff4a22" fill-opacity="0.85"/>
<circle cx="187.9" cy="191.5" r="1.06" fill="#ff4a22" fill-opacity="0.85"/>
<circle cx="188.1" cy="192.0" r="1.29" fill="#ff4a22" fill-opacity="0.85"/>
<circle cx="187.1" cy="192.2" r="0.71" fill="#6a1a10" fill-opacity="0.6"/>
<circle cx="186.6" cy="193.3" r="0.53" fill="#6a1a10" fill-opacity="0.6"/>
<ellipse cx="176.7" cy="197.9" rx="4.81" ry="3.26" transform="rotate(135 176.7 197.9)" fill="#d63418" fill-opacity="0.9"/>
<circle cx="178.1" cy="197.2" r="1.96" fill="#ff4a22" fill-opacity="0.85"/>
<circle cx="176.5" cy="198.7" r="1.62" fill="#ff4a22" fill-opacity="0.85"/>
<circle cx="178.0" cy="197.9" r="1.59" fill="#ff4a22" fill-opacity="0.85"/>
<circle cx="176.1" cy="198.2" r="0.71" fill="#6a1a10" fill-opacity="0.6"/>
<circle cx="178.2" cy="199.0" r="0.87" fill="#6a1a10" fill-opacity="0.6"/>
<ellipse cx="147.3" cy="191.4" rx="2.85" ry="2.26" transform="rotate(168 147.3 191.4)" fill="#d63418" fill-opacity="0.9"/>
<circle cx="147.0" cy="191.4" r="1.07" fill="#ff4a22" fill-opacity="0.85"/>
<circle cx="148.6" cy="191.0" r="1.27" fill="#ff4a22" fill-opacity="0.85"/>
<circle cx="146.4" cy="190.4" r="1.32" fill="#ff4a22" fill-opacity="0.85"/>
<circle cx="146.3" cy="191.1" r="0.47" fill="#6a1a10" fill-opacity="0.6"/>
<circle cx="147.2" cy="190.7" r="0.79" fill="#6a1a10" fill-opacity="0.6"/>
<ellipse cx="152.2" cy="193.3" rx="2.87" ry="2.13" transform="rotate(116 152.2 193.3)" fill="#d63418" fill-opacity="0.9"/>
<circle cx="152.4" cy="193.2" r="1.11" fill="#ff4a22" fill-opacity="0.85"/>
<circle cx="152.0" cy="193.7" r="1.23" fill="#ff4a22" fill-opacity="0.85"/>
<circle cx="152.6" cy="193.2" r="1.20" fill="#ff4a22" fill-opacity="0.85"/>
<circle cx="151.9" cy="194.1" r="0.63" fill="#6a1a10" fill-opacity="0.6"/>
<circle cx="152.3" cy="193.5" r="0.54" fill="#6a1a10" fill-opacity="0.6"/>
<ellipse cx="178.0" cy="218.5" rx="2.85" ry="2.23" transform="rotate(163 178.0 218.5)" fill="#8c2414" fill-opacity="0.75"/>
<circle cx="179.0" cy="217.8" r="1.10" fill="#b02c18" fill-opacity="0.7"/>
<circle cx="178.1" cy="218.7" r="0.94" fill="#b02c18" fill-opacity="0.7"/>
<ellipse cx="224.0" cy="53.0" rx="1.74" ry="1.50" transform="rotate(62 224.0 53.0)" fill="#8c2414" fill-opacity="0.75"/>
<circle cx="224.0" cy="53.5" r="0.87" fill="#b02c18" fill-opacity="0.7"/>
<circle cx="224.0" cy="52.7" r="0.72" fill="#b02c18" fill-opacity="0.7"/>
<circle cx="66.0" cy="108.0" r="1.50" fill="#1d6e1f" fill-opacity="0.8"/>
<circle cx="64.0" cy="133.0" r="1.50" fill="#1d6e1f" fill-opacity="0.8"/>
<circle cx="213.0" cy="75.0" r="1.50" fill="#1d6e1f" fill-opacity="0.8"/>
<circle cx="187.0" cy="181.0" r="1.50" fill="#1d6e1f" fill-opacity="0.8"/>
<circle cx="119.0" cy="173.0" r="1.50" fill="#1d6e1f" fill-opacity="0.8"/>
<circle cx="180.0" cy="200.0" r="1.50" fill="#1d6e1f" fill-opacity="0.8"/>
</g>
<rect x="52" y="51" width="73" height="24.5" fill="#fff" fill-opacity="0.64"/>
</g>
<text x="68.0" y="68.3" font-size="15.4" font-weight="bold" fill="#151515" stroke="#151515" stroke-width="0.25" textLength="39" lengthAdjust="spacingAndGlyphs">Day 0</text>
<path d="M61.0,207.9 V210.6 H153.6 V207.9 M107.3,210.6 v-1.6" stroke="#e9e5cf" stroke-width="0.9" fill="none"/>
<text x="61.0" y="205.6" font-size="5.5" font-weight="bold" fill="#e9e5cf" text-anchor="middle">0</text>
<text x="153.6" y="205.6" font-size="5.5" font-weight="bold" fill="#e9e5cf" text-anchor="middle">200</text>
<text x="107.3" y="207.79999999999998" font-size="5.5" font-weight="bold" fill="#e9e5cf" text-anchor="middle">&#956;m</text>
<text x="62.0" y="219.6" font-size="6.3" font-weight="bold" fill="#e9e5cf" stroke="#e9e5cf" stroke-width="0.15" textLength="66.5" lengthAdjust="spacingAndGlyphs">0.37 x 0.37 mm, 0.14 mm&#178;</text>
<clipPath id="c1"><rect x="240" y="49.8" width="176" height="175.2"/></clipPath>
<rect x="240" y="49.8" width="176" height="175.2" fill="#030403"/>
<g clip-path="url(#c1)"><g filter="url(#bl)">
<circle cx="262.2" cy="138.0" r="1.04" fill="#2a8a2a" fill-opacity="0.65"/>
<circle cx="278.0" cy="97.3" r="0.77" fill="#2a8a2a" fill-opacity="0.46"/>
<circle cx="318.5" cy="216.9" r="1.19" fill="#2a8a2a" fill-opacity="0.65"/>
<circle cx="243.8" cy="55.4" r="1.10" fill="#2a8a2a" fill-opacity="0.66"/>
<circle cx="323.3" cy="152.7" r="0.60" fill="#2a8a2a" fill-opacity="0.46"/>
<circle cx="403.1" cy="194.4" r="1.20" fill="#2a8a2a" fill-opacity="0.69"/>
<circle cx="283.7" cy="68.9" r="0.71" fill="#2a8a2a" fill-opacity="0.51"/>
<circle cx="360.0" cy="214.7" r="1.11" fill="#2a8a2a" fill-opacity="0.56"/>
<circle cx="374.6" cy="129.9" r="0.99" fill="#2a8a2a" fill-opacity="0.32"/>
<circle cx="377.7" cy="90.5" r="1.24" fill="#2a8a2a" fill-opacity="0.56"/>
<circle cx="293.5" cy="72.2" r="0.78" fill="#2a8a2a" fill-opacity="0.55"/>
<circle cx="363.0" cy="69.4" r="0.65" fill="#2a8a2a" fill-opacity="0.51"/>
<circle cx="342.6" cy="117.8" r="0.76" fill="#2a8a2a" fill-opacity="0.54"/>
<circle cx="241.8" cy="102.6" r="0.92" fill="#2a8a2a" fill-opacity="0.68"/>
<circle cx="353.4" cy="204.6" r="0.93" fill="#2a8a2a" fill-opacity="0.39"/>
<circle cx="283.5" cy="218.1" r="1.09" fill="#2a8a2a" fill-opacity="0.42"/>
<circle cx="243.8" cy="137.1" r="1.07" fill="#2a8a2a" fill-opacity="0.47"/>
<circle cx="285.3" cy="166.7" r="1.25" fill="#2a8a2a" fill-opacity="0.39"/>
<circle cx="246.0" cy="109.0" r="0.89" fill="#2a8a2a" fill-opacity="0.57"/>
<circle cx="274.9" cy="189.4" r="1.12" fill="#2a8a2a" fill-opacity="0.50"/>
<circle cx="276.1" cy="219.7" r="0.82" fill="#2a8a2a" fill-opacity="0.63"/>
<circle cx="280.6" cy="88.6" r="1.13" fill="#2a8a2a" fill-opacity="0.42"/>
<circle cx="407.5" cy="136.7" r="0.73" fill="#2a8a2a" fill-opacity="0.39"/>
<circle cx="313.4" cy="166.4" r="1.26" fill="#2a8a2a" fill-opacity="0.36"/>
<circle cx="309.2" cy="87.1" r="1.28" fill="#2a8a2a" fill-opacity="0.36"/>
<circle cx="249.1" cy="60.3" r="0.88" fill="#2a8a2a" fill-opacity="0.66"/>
<circle cx="395.5" cy="178.2" r="1.30" fill="#2a8a2a" fill-opacity="0.67"/>
<circle cx="297.9" cy="82.3" r="1.26" fill="#2a8a2a" fill-opacity="0.60"/>
<circle cx="245.6" cy="166.2" r="0.87" fill="#2a8a2a" fill-opacity="0.45"/>
<circle cx="298.4" cy="79.5" r="0.60" fill="#2a8a2a" fill-opacity="0.41"/>
<circle cx="301.9" cy="217.2" r="0.69" fill="#2a8a2a" fill-opacity="0.69"/>
<circle cx="276.5" cy="112.3" r="1.18" fill="#2a8a2a" fill-opacity="0.63"/>
<circle cx="316.1" cy="58.4" r="0.93" fill="#2a8a2a" fill-opacity="0.45"/>
<circle cx="401.8" cy="83.6" r="0.85" fill="#2a8a2a" fill-opacity="0.66"/>
<circle cx="245.3" cy="121.8" r="1.17" fill="#2a8a2a" fill-opacity="0.61"/>
<circle cx="247.2" cy="55.9" r="0.64" fill="#2a8a2a" fill-opacity="0.67"/>
<circle cx="285.2" cy="180.7" r="1.23" fill="#2a8a2a" fill-opacity="0.44"/>
<circle cx="287.9" cy="217.6" r="1.03" fill="#2a8a2a" fill-opacity="0.40"/>
<circle cx="366.1" cy="105.2" r="0.79" fill="#2a8a2a" fill-opacity="0.30"/>
<circle cx="373.0" cy="210.4" r="1.04" fill="#2a8a2a" fill-opacity="0.68"/>
<circle cx="244.3" cy="90.8" r="0.93" fill="#2a8a2a" fill-opacity="0.68"/>
<circle cx="407.9" cy="117.5" r="0.78" fill="#2a8a2a" fill-opacity="0.47"/>
<circle cx="326.9" cy="212.4" r="0.73" fill="#2a8a2a" fill-opacity="0.62"/>
<circle cx="370.0" cy="193.9" r="1.14" fill="#2a8a2a" fill-opacity="0.54"/>
<circle cx="297.7" cy="105.8" r="0.85" fill="#2a8a2a" fill-opacity="0.61"/>
<circle cx="253.9" cy="84.4" r="1.13" fill="#2a8a2a" fill-opacity="0.40"/>
<circle cx="251.4" cy="55.7" r="0.99" fill="#2a8a2a" fill-opacity="0.43"/>
<circle cx="412.5" cy="204.6" r="1.29" fill="#2a8a2a" fill-opacity="0.41"/>
<circle cx="254.8" cy="66.7" r="0.95" fill="#2a8a2a" fill-opacity="0.58"/>
<circle cx="318.7" cy="90.8" r="0.89" fill="#2a8a2a" fill-opacity="0.55"/>
<circle cx="358.6" cy="180.8" r="1.19" fill="#2a8a2a" fill-opacity="0.57"/>
<circle cx="261.3" cy="197.1" r="0.81" fill="#2a8a2a" fill-opacity="0.53"/>
<circle cx="305.6" cy="179.1" r="0.74" fill="#2a8a2a" fill-opacity="0.40"/>
<circle cx="283.2" cy="76.7" r="1.22" fill="#2a8a2a" fill-opacity="0.53"/>
<circle cx="297.4" cy="119.2" r="1.29" fill="#2a8a2a" fill-opacity="0.50"/>
<circle cx="280.7" cy="191.4" r="1.06" fill="#2a8a2a" fill-opacity="0.70"/>
<circle cx="258.0" cy="133.0" r="1.17" fill="#2a8a2a" fill-opacity="0.64"/>
<circle cx="400.9" cy="56.9" r="0.81" fill="#2a8a2a" fill-opacity="0.35"/>
<circle cx="273.4" cy="220.3" r="1.01" fill="#2a8a2a" fill-opacity="0.67"/>
<circle cx="305.5" cy="201.5" r="0.91" fill="#2a8a2a" fill-opacity="0.40"/>
<circle cx="376.9" cy="215.5" r="0.67" fill="#2a8a2a" fill-opacity="0.54"/>
<circle cx="349.1" cy="87.9" r="0.86" fill="#2a8a2a" fill-opacity="0.36"/>
<circle cx="275.9" cy="94.5" r="1.02" fill="#2a8a2a" fill-opacity="0.56"/>
<circle cx="275.8" cy="51.8" r="0.83" fill="#2a8a2a" fill-opacity="0.57"/>
<circle cx="272.6" cy="104.5" r="0.74" fill="#2a8a2a" fill-opacity="0.62"/>
<circle cx="336.5" cy="60.9" r="0.67" fill="#2a8a2a" fill-opacity="0.46"/>
<circle cx="336.8" cy="161.8" r="0.66" fill="#2a8a2a" fill-opacity="0.37"/>
<circle cx="362.4" cy="121.6" r="0.80" fill="#2a8a2a" fill-opacity="0.42"/>
<circle cx="407.8" cy="104.5" r="1.00" fill="#2a8a2a" fill-opacity="0.44"/>
<circle cx="313.3" cy="201.2" r="1.30" fill="#2a8a2a" fill-opacity="0.45"/>
<circle cx="274.7" cy="177.4" r="0.74" fill="#2a8a2a" fill-opacity="0.30"/>
<circle cx="398.7" cy="124.0" r="1.17" fill="#2a8a2a" fill-opacity="0.46"/>
<circle cx="395.4" cy="130.6" r="0.71" fill="#2a8a2a" fill-opacity="0.31"/>
<circle cx="337.1" cy="162.0" r="1.24" fill="#2a8a2a" fill-opacity="0.34"/>
<circle cx="349.5" cy="114.8" r="0.95" fill="#2a8a2a" fill-opacity="0.36"/>
<circle cx="289.9" cy="141.1" r="1.25" fill="#2a8a2a" fill-opacity="0.34"/>
<circle cx="326.3" cy="190.8" r="1.28" fill="#2a8a2a" fill-opacity="0.38"/>
<circle cx="262.3" cy="215.0" r="1.28" fill="#2a8a2a" fill-opacity="0.49"/>
<circle cx="249.4" cy="212.1" r="0.87" fill="#2a8a2a" fill-opacity="0.66"/>
<circle cx="349.2" cy="194.3" r="0.71" fill="#2a8a2a" fill-opacity="0.61"/>
<circle cx="279.1" cy="120.7" r="1.19" fill="#2a8a2a" fill-opacity="0.63"/>
<circle cx="272.2" cy="88.0" r="0.88" fill="#2a8a2a" fill-opacity="0.51"/>
<circle cx="307.5" cy="71.4" r="0.77" fill="#2a8a2a" fill-opacity="0.59"/>
<circle cx="397.9" cy="57.0" r="0.99" fill="#2a8a2a" fill-opacity="0.60"/>
<circle cx="246.7" cy="196.7" r="0.68" fill="#2a8a2a" fill-opacity="0.54"/>
<circle cx="336.8" cy="159.7" r="0.81" fill="#2a8a2a" fill-opacity="0.47"/>
<circle cx="342.5" cy="124.4" r="1.06" fill="#2a8a2a" fill-opacity="0.48"/>
<circle cx="317.2" cy="53.9" r="1.03" fill="#2a8a2a" fill-opacity="0.50"/>
<circle cx="281.4" cy="183.6" r="1.15" fill="#2a8a2a" fill-opacity="0.48"/>
<circle cx="271.6" cy="132.7" r="0.67" fill="#2a8a2a" fill-opacity="0.35"/>
<circle cx="315.8" cy="65.9" r="0.91" fill="#2a8a2a" fill-opacity="0.50"/>
<circle cx="247.2" cy="161.3" r="0.66" fill="#2a8a2a" fill-opacity="0.59"/>
<circle cx="376.9" cy="139.4" r="0.64" fill="#2a8a2a" fill-opacity="0.50"/>
<circle cx="306.5" cy="216.4" r="0.70" fill="#2a8a2a" fill-opacity="0.64"/>
<circle cx="415.3" cy="178.1" r="1.17" fill="#2a8a2a" fill-opacity="0.38"/>
<circle cx="412.8" cy="136.0" r="1.27" fill="#2a8a2a" fill-opacity="0.67"/>
<circle cx="269.1" cy="187.9" r="1.25" fill="#2a8a2a" fill-opacity="0.33"/>
<circle cx="301.8" cy="182.3" r="0.71" fill="#2a8a2a" fill-opacity="0.66"/>
<circle cx="288.4" cy="192.7" r="0.70" fill="#2a8a2a" fill-opacity="0.50"/>
<circle cx="401.9" cy="86.3" r="0.78" fill="#2a8a2a" fill-opacity="0.50"/>
<circle cx="296.2" cy="56.3" r="0.73" fill="#2a8a2a" fill-opacity="0.36"/>
<circle cx="404.8" cy="168.9" r="1.23" fill="#2a8a2a" fill-opacity="0.37"/>
<circle cx="378.1" cy="70.0" r="0.97" fill="#2a8a2a" fill-opacity="0.55"/>
<circle cx="303.3" cy="202.7" r="0.99" fill="#2a8a2a" fill-opacity="0.53"/>
<circle cx="395.3" cy="68.1" r="1.30" fill="#2a8a2a" fill-opacity="0.55"/>
<circle cx="309.4" cy="189.6" r="0.79" fill="#2a8a2a" fill-opacity="0.70"/>
<circle cx="341.6" cy="112.9" r="1.14" fill="#2a8a2a" fill-opacity="0.48"/>
<circle cx="271.1" cy="180.1" r="0.63" fill="#2a8a2a" fill-opacity="0.63"/>
<circle cx="284.6" cy="161.8" r="1.29" fill="#2a8a2a" fill-opacity="0.53"/>
<circle cx="356.8" cy="104.6" r="0.60" fill="#2a8a2a" fill-opacity="0.31"/>
<circle cx="282.3" cy="101.0" r="0.96" fill="#4ae244" fill-opacity="0.9"/>
<circle cx="271.2" cy="95.4" r="0.78" fill="#4ae244" fill-opacity="0.9"/>
<circle cx="279.6" cy="102.3" r="0.71" fill="#4ae244" fill-opacity="0.9"/>
<circle cx="283.6" cy="96.1" r="0.76" fill="#4ae244" fill-opacity="0.9"/>
<circle cx="276.0" cy="99.3" r="1.05" fill="#4ae244" fill-opacity="0.9"/>
<circle cx="275.2" cy="93.8" r="1.07" fill="#4ae244" fill-opacity="0.9"/>
<circle cx="287.3" cy="93.8" r="1.26" fill="#4ae244" fill-opacity="0.9"/>
<circle cx="290.2" cy="96.2" r="0.76" fill="#4ae244" fill-opacity="0.9"/>
<circle cx="286.5" cy="89.1" r="1.17" fill="#4ae244" fill-opacity="0.9"/>
<circle cx="287.4" cy="95.2" r="0.71" fill="#4ae244" fill-opacity="0.9"/>
<circle cx="287.4" cy="89.8" r="0.91" fill="#4ae244" fill-opacity="0.9"/>
<circle cx="287.7" cy="90.1" r="1.26" fill="#4ae244" fill-opacity="0.9"/>
<circle cx="251.4" cy="99.7" r="1.24" fill="#4ae244" fill-opacity="0.9"/>
<circle cx="258.9" cy="107.2" r="0.94" fill="#4ae244" fill-opacity="0.9"/>
<circle cx="252.3" cy="109.5" r="1.17" fill="#4ae244" fill-opacity="0.9"/>
<circle cx="259.3" cy="105.8" r="1.26" fill="#4ae244" fill-opacity="0.9"/>
<circle cx="255.3" cy="109.3" r="1.06" fill="#4ae244" fill-opacity="0.9"/>
<circle cx="244.2" cy="104.9" r="1.19" fill="#4ae244" fill-opacity="0.9"/>
<circle cx="305.3" cy="112.2" r="0.88" fill="#4ae244" fill-opacity="0.9"/>
<circle cx="311.5" cy="109.8" r="1.17" fill="#4ae244" fill-opacity="0.9"/>
<circle cx="301.7" cy="103.1" r="1.21" fill="#4ae244" fill-opacity="0.9"/>
<circle cx="302.4" cy="100.2" r="1.15" fill="#4ae244" fill-opacity="0.9"/>
<circle cx="297.5" cy="108.6" r="0.76" fill="#4ae244" fill-opacity="0.9"/>
<circle cx="303.1" cy="111.2" r="0.90" fill="#4ae244" fill-opacity="0.9"/>
<circle cx="286.0" cy="131.6" r="1.21" fill="#4ae244" fill-opacity="0.9"/>
<circle cx="285.2" cy="133.2" r="1.03" fill="#4ae244" fill-opacity="0.9"/>
<circle cx="281.2" cy="138.5" r="1.01" fill="#4ae244" fill-opacity="0.9"/>
<circle cx="285.5" cy="141.2" r="1.28" fill="#4ae244" fill-opacity="0.9"/>
<circle cx="287.1" cy="141.9" r="0.71" fill="#4ae244" fill-opacity="0.9"/>
<circle cx="285.8" cy="139.7" r="1.15" fill="#4ae244" fill-opacity="0.9"/>
<circle cx="330.2" cy="120.4" r="0.90" fill="#4ae244" fill-opacity="0.9"/>
<circle cx="327.3" cy="119.4" r="0.84" fill="#4ae244" fill-opacity="0.9"/>
<circle cx="329.0" cy="119.3" r="1.12" fill="#4ae244" fill-opacity="0.9"/>
<circle cx="319.8" cy="115.9" r="0.98" fill="#4ae244" fill-opacity="0.9"/>
<circle cx="327.3" cy="117.2" r="1.21" fill="#4ae244" fill-opacity="0.9"/>
<circle cx="317.6" cy="125.3" r="1.04" fill="#4ae244" fill-opacity="0.9"/>
<circle cx="244.4" cy="62.2" r="1.07" fill="#4ae244" fill-opacity="0.9"/>
<circle cx="250.5" cy="61.9" r="0.79" fill="#4ae244" fill-opacity="0.9"/>
<circle cx="248.2" cy="59.7" r="1.26" fill="#4ae244" fill-opacity="0.9"/>
<circle cx="243.9" cy="61.6" r="0.72" fill="#4ae244" fill-opacity="0.9"/>
<circle cx="250.2" cy="60.5" r="1.08" fill="#4ae244" fill-opacity="0.9"/>
<circle cx="243.8" cy="54.4" r="0.74" fill="#4ae244" fill-opacity="0.9"/>
<circle cx="254.4" cy="71.0" r="1.19" fill="#4ae244" fill-opacity="0.9"/>
<circle cx="259.9" cy="67.9" r="0.74" fill="#4ae244" fill-opacity="0.9"/>
<circle cx="261.3" cy="68.8" r="1.27" fill="#4ae244" fill-opacity="0.9"/>
<circle cx="260.0" cy="75.0" r="0.77" fill="#4ae244" fill-opacity="0.9"/>
<circle cx="262.8" cy="74.2" r="1.19" fill="#4ae244" fill-opacity="0.9"/>
<circle cx="253.9" cy="69.0" r="1.08" fill="#4ae244" fill-opacity="0.9"/>
<circle cx="396.4" cy="56.4" r="0.76" fill="#4ae244" fill-opacity="0.9"/>
<circle cx="397.1" cy="50.6" r="0.89" fill="#4ae244" fill-opacity="0.9"/>
<circle cx="394.8" cy="54.8" r="0.85" fill="#4ae244" fill-opacity="0.9"/>
<circle cx="396.0" cy="58.6" r="0.92" fill="#4ae244" fill-opacity="0.9"/>
<circle cx="394.5" cy="59.0" r="1.00" fill="#4ae244" fill-opacity="0.9"/>
<circle cx="399.8" cy="50.0" r="0.72" fill="#4ae244" fill-opacity="0.9"/>
<circle cx="396.4" cy="64.1" r="1.16" fill="#4ae244" fill-opacity="0.9"/>
<circle cx="397.0" cy="66.1" r="1.02" fill="#4ae244" fill-opacity="0.9"/>
<circle cx="400.9" cy="67.4" r="0.75" fill="#4ae244" fill-opacity="0.9"/>
<circle cx="401.1" cy="59.3" r="0.70" fill="#4ae244" fill-opacity="0.9"/>
<circle cx="401.3" cy="66.9" r="1.29" fill="#4ae244" fill-opacity="0.9"/>
<circle cx="404.0" cy="62.1" r="0.99" fill="#4ae244" fill-opacity="0.9"/>
<circle cx="406.5" cy="63.6" r="1.00" fill="#4ae244" fill-opacity="0.9"/>
<circle cx="401.2" cy="73.4" r="0.86" fill="#4ae244" fill-opacity="0.9"/>
<circle cx="409.6" cy="65.9" r="0.83" fill="#4ae244" fill-opacity="0.9"/>
<circle cx="403.6" cy="62.2" r="0.77" fill="#4ae244" fill-opacity="0.9"/>
<circle cx="403.0" cy="64.8" r="1.17" fill="#4ae244" fill-opacity="0.9"/>
<circle cx="403.0" cy="60.9" r="1.08" fill="#4ae244" fill-opacity="0.9"/>
<circle cx="374.9" cy="80.6" r="0.94" fill="#4ae244" fill-opacity="0.9"/>
<circle cx="379.4" cy="75.9" r="1.23" fill="#4ae244" fill-opacity="0.9"/>
<circle cx="380.4" cy="78.1" r="0.86" fill="#4ae244" fill-opacity="0.9"/>
<circle cx="380.7" cy="75.2" r="0.93" fill="#4ae244" fill-opacity="0.9"/>
<circle cx="379.7" cy="75.4" r="0.98" fill="#4ae244" fill-opacity="0.9"/>
<circle cx="372.3" cy="76.6" r="1.15" fill="#4ae244" fill-opacity="0.9"/>
<circle cx="387.8" cy="79.2" r="0.90" fill="#4ae244" fill-opacity="0.9"/>
<circle cx="396.6" cy="91.5" r="1.10" fill="#4ae244" fill-opacity="0.9"/>
<circle cx="391.2" cy="79.0" r="0.96" fill="#4ae244" fill-opacity="0.9"/>
<circle cx="392.6" cy="76.6" r="0.78" fill="#4ae244" fill-opacity="0.9"/>
<circle cx="382.5" cy="86.2" r="0.84" fill="#4ae244" fill-opacity="0.9"/>
<circle cx="393.6" cy="89.4" r="1.12" fill="#4ae244" fill-opacity="0.9"/>
<circle cx="381.4" cy="94.1" r="0.79" fill="#4ae244" fill-opacity="0.9"/>
<circle cx="379.6" cy="101.2" r="1.01" fill="#4ae244" fill-opacity="0.9"/>
<circle cx="381.7" cy="100.5" r="0.81" fill="#4ae244" fill-opacity="0.9"/>
<circle cx="385.3" cy="96.1" r="0.76" fill="#4ae244" fill-opacity="0.9"/>
<circle cx="382.6" cy="96.2" r="0.93" fill="#4ae244" fill-opacity="0.9"/>
<circle cx="385.6" cy="96.4" r="1.14" fill="#4ae244" fill-opacity="0.9"/>
<circle cx="340.7" cy="106.4" r="1.08" fill="#4ae244" fill-opacity="0.9"/>
<circle cx="349.6" cy="107.6" r="0.93" fill="#4ae244" fill-opacity="0.9"/>
<circle cx="351.7" cy="105.7" r="1.17" fill="#4ae244" fill-opacity="0.9"/>
<circle cx="343.1" cy="97.7" r="1.08" fill="#4ae244" fill-opacity="0.9"/>
<circle cx="340.8" cy="105.4" r="1.06" fill="#4ae244" fill-opacity="0.9"/>
<circle cx="338.5" cy="109.1" r="1.24" fill="#4ae244" fill-opacity="0.9"/>
<circle cx="330.7" cy="108.3" r="1.15" fill="#4ae244" fill-opacity="0.9"/>
<circle cx="332.1" cy="107.9" r="1.13" fill="#4ae244" fill-opacity="0.9"/>
<circle cx="339.8" cy="102.0" r="1.12" fill="#4ae244" fill-opacity="0.9"/>
<circle cx="338.8" cy="101.6" r="1.08" fill="#4ae244" fill-opacity="0.9"/>
<circle cx="331.5" cy="107.3" r="1.08" fill="#4ae244" fill-opacity="0.9"/>
<circle cx="339.1" cy="108.7" r="1.17" fill="#4ae244" fill-opacity="0.9"/>
<circle cx="369.5" cy="101.3" r="0.85" fill="#4ae244" fill-opacity="0.9"/>
<circle cx="365.3" cy="112.0" r="1.07" fill="#4ae244" fill-opacity="0.9"/>
<circle cx="364.5" cy="113.2" r="1.26" fill="#4ae244" fill-opacity="0.9"/>
<circle cx="374.5" cy="116.1" r="1.17" fill="#4ae244" fill-opacity="0.9"/>
<circle cx="366.0" cy="113.4" r="1.28" fill="#4ae244" fill-opacity="0.9"/>
<circle cx="378.4" cy="110.6" r="0.80" fill="#4ae244" fill-opacity="0.9"/>
<circle cx="406.3" cy="99.4" r="1.01" fill="#4ae244" fill-opacity="0.9"/>
<circle cx="410.4" cy="113.3" r="1.02" fill="#4ae244" fill-opacity="0.9"/>
<circle cx="403.0" cy="102.0" r="1.08" fill="#4ae244" fill-opacity="0.9"/>
<circle cx="407.8" cy="102.6" r="0.95" fill="#4ae244" fill-opacity="0.9"/>
<circle cx="409.4" cy="107.2" r="1.11" fill="#4ae244" fill-opacity="0.9"/>
<circle cx="397.7" cy="114.3" r="0.77" fill="#4ae244" fill-opacity="0.9"/>
<circle cx="411.4" cy="115.7" r="0.73" fill="#4ae244" fill-opacity="0.9"/>
<circle cx="404.3" cy="122.6" r="0.71" fill="#4ae244" fill-opacity="0.9"/>
<circle cx="399.6" cy="119.5" r="1.12" fill="#4ae244" fill-opacity="0.9"/>
<circle cx="402.0" cy="120.8" r="0.83" fill="#4ae244" fill-opacity="0.9"/>
<circle cx="404.8" cy="106.7" r="1.02" fill="#4ae244" fill-opacity="0.9"/>
<circle cx="407.0" cy="124.9" r="0.94" fill="#4ae244" fill-opacity="0.9"/>
<circle cx="346.4" cy="136.5" r="1.17" fill="#4ae244" fill-opacity="0.9"/>
<circle cx="347.8" cy="127.0" r="0.98" fill="#4ae244" fill-opacity="0.9"/>
<circle cx="341.5" cy="131.2" r="1.28" fill="#4ae244" fill-opacity="0.9"/>
<circle cx="341.7" cy="137.8" r="1.19" fill="#4ae244" fill-opacity="0.9"/>
<circle cx="347.7" cy="127.8" r="0.88" fill="#4ae244" fill-opacity="0.9"/>
<circle cx="341.9" cy="131.7" r="1.20" fill="#4ae244" fill-opacity="0.9"/>
<circle cx="371.4" cy="140.5" r="0.86" fill="#4ae244" fill-opacity="0.9"/>
<circle cx="372.8" cy="137.8" r="0.96" fill="#4ae244" fill-opacity="0.9"/>
<circle cx="377.2" cy="137.7" r="1.13" fill="#4ae244" fill-opacity="0.9"/>
<circle cx="375.0" cy="139.0" r="0.88" fill="#4ae244" fill-opacity="0.9"/>
<circle cx="370.7" cy="135.4" r="1.08" fill="#4ae244" fill-opacity="0.9"/>
<circle cx="373.2" cy="130.5" r="1.26" fill="#4ae244" fill-opacity="0.9"/>
<circle cx="286.8" cy="137.4" r="1.20" fill="#4ae244" fill-opacity="0.9"/>
<circle cx="291.4" cy="135.9" r="0.78" fill="#4ae244" fill-opacity="0.9"/>
<circle cx="288.0" cy="134.0" r="0.71" fill="#4ae244" fill-opacity="0.9"/>
<circle cx="293.9" cy="141.5" r="1.09" fill="#4ae244" fill-opacity="0.9"/>
<circle cx="284.2" cy="145.4" r="0.79" fill="#4ae244" fill-opacity="0.9"/>
<circle cx="285.1" cy="149.4" r="0.91" fill="#4ae244" fill-opacity="0.9"/>
<circle cx="264.1" cy="155.4" r="1.18" fill="#4ae244" fill-opacity="0.9"/>
<circle cx="263.5" cy="155.7" r="1.07" fill="#4ae244" fill-opacity="0.9"/>
<circle cx="261.4" cy="144.5" r="1.24" fill="#4ae244" fill-opacity="0.9"/>
<circle cx="261.8" cy="143.9" r="0.82" fill="#4ae244" fill-opacity="0.9"/>
<circle cx="258.5" cy="145.3" r="1.15" fill="#4ae244" fill-opacity="0.9"/>
<circle cx="254.3" cy="152.4" r="1.03" fill="#4ae244" fill-opacity="0.9"/>
<circle cx="273.6" cy="164.0" r="0.78" fill="#4ae244" fill-opacity="0.9"/>
<circle cx="270.1" cy="159.4" r="0.98" fill="#4ae244" fill-opacity="0.9"/>
<circle cx="277.9" cy="164.1" r="1.00" fill="#4ae244" fill-opacity="0.9"/>
<circle cx="266.0" cy="157.2" r="0.70" fill="#4ae244" fill-opacity="0.9"/>
<circle cx="277.3" cy="154.0" r="1.04" fill="#4ae244" fill-opacity="0.9"/>
<circle cx="269.9" cy="152.2" r="0.92" fill="#4ae244" fill-opacity="0.9"/>
<circle cx="274.6" cy="173.6" r="0.75" fill="#4ae244" fill-opacity="0.9"/>
<circle cx="277.7" cy="164.0" r="0.72" fill="#4ae244" fill-opacity="0.9"/>
<circle cx="276.7" cy="164.7" r="1.26" fill="#4ae244" fill-opacity="0.9"/>
<circle cx="278.0" cy="177.1" r="1.01" fill="#4ae244" fill-opacity="0.9"/>
<circle cx="273.9" cy="170.1" r="0.72" fill="#4ae244" fill-opacity="0.9"/>
<circle cx="280.9" cy="162.5" r="0.90" fill="#4ae244" fill-opacity="0.9"/>
<circle cx="327.9" cy="169.2" r="0.98" fill="#4ae244" fill-opacity="0.9"/>
<circle cx="317.9" cy="171.9" r="0.83" fill="#4ae244" fill-opacity="0.9"/>
<circle cx="319.9" cy="175.1" r="1.03" fill="#4ae244" fill-opacity="0.9"/>
<circle cx="326.8" cy="168.9" r="1.20" fill="#4ae244" fill-opacity="0.9"/>
<circle cx="320.1" cy="176.2" r="0.86" fill="#4ae244" fill-opacity="0.9"/>
<circle cx="316.8" cy="172.7" r="1.09" fill="#4ae244" fill-opacity="0.9"/>
<circle cx="304.4" cy="192.5" r="0.89" fill="#4ae244" fill-opacity="0.9"/>
<circle cx="302.1" cy="200.3" r="1.08" fill="#4ae244" fill-opacity="0.9"/>
<circle cx="304.0" cy="193.5" r="1.13" fill="#4ae244" fill-opacity="0.9"/>
<circle cx="306.8" cy="193.1" r="0.73" fill="#4ae244" fill-opacity="0.9"/>
<circle cx="302.7" cy="198.3" r="0.81" fill="#4ae244" fill-opacity="0.9"/>
<circle cx="307.5" cy="193.8" r="1.09" fill="#4ae244" fill-opacity="0.9"/>
<circle cx="263.9" cy="195.1" r="1.07" fill="#4ae244" fill-opacity="0.9"/>
<circle cx="257.5" cy="198.2" r="1.12" fill="#4ae244" fill-opacity="0.9"/>
<circle cx="256.8" cy="198.7" r="0.83" fill="#4ae244" fill-opacity="0.9"/>
<circle cx="259.4" cy="197.7" r="1.16" fill="#4ae244" fill-opacity="0.9"/>
<circle cx="265.4" cy="204.8" r="0.72" fill="#4ae244" fill-opacity="0.9"/>
<circle cx="263.3" cy="194.9" r="1.09" fill="#4ae244" fill-opacity="0.9"/>
<circle cx="236.9" cy="215.9" r="1.17" fill="#4ae244" fill-opacity="0.9"/>
<circle cx="237.7" cy="209.0" r="0.88" fill="#4ae244" fill-opacity="0.9"/>
<circle cx="237.6" cy="212.9" r="0.96" fill="#4ae244" fill-opacity="0.9"/>
<circle cx="237.0" cy="204.7" r="0.73" fill="#4ae244" fill-opacity="0.9"/>
<circle cx="238.7" cy="209.3" r="0.77" fill="#4ae244" fill-opacity="0.9"/>
<circle cx="244.0" cy="205.2" r="1.25" fill="#4ae244" fill-opacity="0.9"/>
<circle cx="276.4" cy="218.9" r="0.93" fill="#4ae244" fill-opacity="0.9"/>
<circle cx="273.9" cy="214.9" r="1.29" fill="#4ae244" fill-opacity="0.9"/>
<circle cx="274.9" cy="218.7" r="0.76" fill="#4ae244" fill-opacity="0.9"/>
<circle cx="276.8" cy="215.6" r="0.79" fill="#4ae244" fill-opacity="0.9"/>
<circle cx="281.1" cy="218.3" r="1.11" fill="#4ae244" fill-opacity="0.9"/>
<circle cx="282.9" cy="222.2" r="0.75" fill="#4ae244" fill-opacity="0.9"/>
<circle cx="336.8" cy="143.7" r="0.71" fill="#4ae244" fill-opacity="0.9"/>
<circle cx="332.5" cy="141.8" r="1.14" fill="#4ae244" fill-opacity="0.9"/>
<circle cx="335.1" cy="151.2" r="1.16" fill="#4ae244" fill-opacity="0.9"/>
<circle cx="331.4" cy="138.3" r="1.14" fill="#4ae244" fill-opacity="0.9"/>
<circle cx="340.2" cy="151.1" r="1.13" fill="#4ae244" fill-opacity="0.9"/>
<circle cx="324.2" cy="149.6" r="0.85" fill="#4ae244" fill-opacity="0.9"/>
<circle cx="376.8" cy="146.6" r="0.71" fill="#4ae244" fill-opacity="0.9"/>
<circle cx="376.6" cy="148.7" r="1.19" fill="#4ae244" fill-opacity="0.9"/>
<circle cx="374.4" cy="150.4" r="1.14" fill="#4ae244" fill-opacity="0.9"/>
<circle cx="374.0" cy="154.4" r="0.99" fill="#4ae244" fill-opacity="0.9"/>
<circle cx="374.9" cy="149.9" r="1.04" fill="#4ae244" fill-opacity="0.9"/>
<circle cx="364.3" cy="150.5" r="0.79" fill="#4ae244" fill-opacity="0.9"/>
<circle cx="377.3" cy="140.0" r="1.09" fill="#4ae244" fill-opacity="0.9"/>
<circle cx="373.5" cy="140.7" r="0.93" fill="#4ae244" fill-opacity="0.9"/>
<circle cx="377.5" cy="137.8" r="1.17" fill="#4ae244" fill-opacity="0.9"/>
<circle cx="373.0" cy="142.1" r="0.74" fill="#4ae244" fill-opacity="0.9"/>
<circle cx="381.1" cy="142.7" r="1.20" fill="#4ae244" fill-opacity="0.9"/>
<circle cx="373.9" cy="147.5" r="1.29" fill="#4ae244" fill-opacity="0.9"/>
<circle cx="381.1" cy="151.1" r="0.89" fill="#4ae244" fill-opacity="0.9"/>
<circle cx="371.4" cy="159.6" r="0.93" fill="#4ae244" fill-opacity="0.9"/>
<circle cx="375.7" cy="150.8" r="1.24" fill="#4ae244" fill-opacity="0.9"/>
<circle cx="379.7" cy="152.1" r="0.70" fill="#4ae244" fill-opacity="0.9"/>
<circle cx="377.7" cy="161.6" r="1.05" fill="#4ae244" fill-opacity="0.9"/>
<circle cx="381.1" cy="149.6" r="0.73" fill="#4ae244" fill-opacity="0.9"/>
<circle cx="377.5" cy="158.6" r="1.22" fill="#4ae244" fill-opacity="0.9"/>
<circle cx="369.9" cy="162.7" r="1.21" fill="#4ae244" fill-opacity="0.9"/>
<circle cx="376.3" cy="158.6" r="1.25" fill="#4ae244" fill-opacity="0.9"/>
<circle cx="371.9" cy="167.7" r="1.03" fill="#4ae244" fill-opacity="0.9"/>
<circle cx="375.2" cy="160.7" r="1.15" fill="#4ae244" fill-opacity="0.9"/>
<circle cx="377.9" cy="162.9" r="1.06" fill="#4ae244" fill-opacity="0.9"/>
<circle cx="399.8" cy="146.3" r="0.82" fill="#4ae244" fill-opacity="0.9"/>
<circle cx="401.4" cy="155.1" r="1.17" fill="#4ae244" fill-opacity="0.9"/>
<circle cx="399.0" cy="150.7" r="1.18" fill="#4ae244" fill-opacity="0.9"/>
<circle cx="402.0" cy="146.8" r="1.05" fill="#4ae244" fill-opacity="0.9"/>
<circle cx="406.1" cy="146.6" r="1.01" fill="#4ae244" fill-opacity="0.9"/>
<circle cx="397.1" cy="150.7" r="0.81" fill="#4ae244" fill-opacity="0.9"/>
<circle cx="410.3" cy="152.3" r="1.12" fill="#4ae244" fill-opacity="0.9"/>
<circle cx="405.6" cy="152.9" r="0.94" fill="#4ae244" fill-opacity="0.9"/>
<circle cx="405.6" cy="148.6" r="0.73" fill="#4ae244" fill-opacity="0.9"/>
<circle cx="413.4" cy="148.9" r="0.76" fill="#4ae244" fill-opacity="0.9"/>
<circle cx="404.9" cy="144.5" r="0.79" fill="#4ae244" fill-opacity="0.9"/>
<circle cx="405.5" cy="146.6" r="1.01" fill="#4ae244" fill-opacity="0.9"/>
<circle cx="347.7" cy="176.3" r="1.29" fill="#4ae244" fill-opacity="0.9"/>
<circle cx="348.2" cy="169.5" r="1.04" fill="#4ae244" fill-opacity="0.9"/>
<circle cx="341.9" cy="186.1" r="0.96" fill="#4ae244" fill-opacity="0.9"/>
<circle cx="352.4" cy="172.3" r="1.19" fill="#4ae244" fill-opacity="0.9"/>
<circle cx="349.2" cy="174.2" r="0.72" fill="#4ae244" fill-opacity="0.9"/>
<circle cx="344.5" cy="181.5" r="0.75" fill="#4ae244" fill-opacity="0.9"/>
<circle cx="336.8" cy="179.0" r="1.22" fill="#4ae244" fill-opacity="0.9"/>
<circle cx="320.4" cy="179.2" r="1.25" fill="#4ae244" fill-opacity="0.9"/>
<circle cx="336.8" cy="179.7" r="0.94" fill="#4ae244" fill-opacity="0.9"/>
<circle cx="336.9" cy="183.4" r="0.85" fill="#4ae244" fill-opacity="0.9"/>
<circle cx="322.6" cy="173.6" r="1.27" fill="#4ae244" fill-opacity="0.9"/>
<circle cx="326.7" cy="171.1" r="0.97" fill="#4ae244" fill-opacity="0.9"/>
<circle cx="362.6" cy="185.1" r="1.30" fill="#4ae244" fill-opacity="0.9"/>
<circle cx="359.0" cy="181.8" r="0.85" fill="#4ae244" fill-opacity="0.9"/>
<circle cx="353.9" cy="184.5" r="1.24" fill="#4ae244" fill-opacity="0.9"/>
<circle cx="360.2" cy="175.6" r="1.17" fill="#4ae244" fill-opacity="0.9"/>
<circle cx="356.8" cy="172.4" r="1.29" fill="#4ae244" fill-opacity="0.9"/>
<circle cx="362.1" cy="179.8" r="1.15" fill="#4ae244" fill-opacity="0.9"/>
<circle cx="370.2" cy="189.6" r="0.88" fill="#4ae244" fill-opacity="0.9"/>
<circle cx="361.4" cy="188.6" r="0.76" fill="#4ae244" fill-opacity="0.9"/>
<circle cx="364.2" cy="194.4" r="0.77" fill="#4ae244" fill-opacity="0.9"/>
<circle cx="362.7" cy="191.8" r="0.84" fill="#4ae244" fill-opacity="0.9"/>
<circle cx="368.7" cy="195.2" r="0.71" fill="#4ae244" fill-opacity="0.9"/>
<circle cx="365.1" cy="188.4" r="0.72" fill="#4ae244" fill-opacity="0.9"/>
<circle cx="385.2" cy="200.5" r="1.26" fill="#4ae244" fill-opacity="0.9"/>
<circle cx="386.4" cy="196.9" r="0.78" fill="#4ae244" fill-opacity="0.9"/>
<circle cx="377.9" cy="203.6" r="1.26" fill="#4ae244" fill-opacity="0.9"/>
<circle cx="384.8" cy="197.2" r="0.97" fill="#4ae244" fill-opacity="0.9"/>
<circle cx="377.6" cy="208.4" r="0.99" fill="#4ae244" fill-opacity="0.9"/>
<circle cx="378.7" cy="199.6" r="0.83" fill="#4ae244" fill-opacity="0.9"/>
<circle cx="363.0" cy="206.3" r="1.03" fill="#4ae244" fill-opacity="0.9"/>
<circle cx="360.9" cy="210.7" r="0.86" fill="#4ae244" fill-opacity="0.9"/>
<circle cx="351.0" cy="206.0" r="0.86" fill="#4ae244" fill-opacity="0.9"/>
<circle cx="358.4" cy="198.3" r="0.80" fill="#4ae244" fill-opacity="0.9"/>
<circle cx="349.3" cy="203.7" r="1.24" fill="#4ae244" fill-opacity="0.9"/>
<circle cx="362.6" cy="209.9" r="0.73" fill="#4ae244" fill-opacity="0.9"/>
<circle cx="404.2" cy="207.3" r="0.83" fill="#4ae244" fill-opacity="0.9"/>
<circle cx="395.8" cy="211.3" r="0.85" fill="#4ae244" fill-opacity="0.9"/>
<circle cx="401.1" cy="214.8" r="1.29" fill="#4ae244" fill-opacity="0.9"/>
<circle cx="406.5" cy="210.6" r="0.76" fill="#4ae244" fill-opacity="0.9"/>
<circle cx="398.2" cy="217.1" r="0.73" fill="#4ae244" fill-opacity="0.9"/>
<circle cx="399.2" cy="206.7" r="1.29" fill="#4ae244" fill-opacity="0.9"/>
<circle cx="378.2" cy="217.1" r="0.90" fill="#4ae244" fill-opacity="0.9"/>
<circle cx="372.0" cy="219.3" r="1.20" fill="#4ae244" fill-opacity="0.9"/>
<circle cx="364.4" cy="215.4" r="0.96" fill="#4ae244" fill-opacity="0.9"/>
<circle cx="373.9" cy="213.4" r="1.04" fill="#4ae244" fill-opacity="0.9"/>
<circle cx="372.7" cy="220.1" r="1.16" fill="#4ae244" fill-opacity="0.9"/>
<circle cx="368.2" cy="211.2" r="0.75" fill="#4ae244" fill-opacity="0.9"/>
<circle cx="382.5" cy="223.2" r="1.00" fill="#4ae244" fill-opacity="0.9"/>
<circle cx="378.1" cy="223.9" r="1.07" fill="#4ae244" fill-opacity="0.9"/>
<circle cx="377.2" cy="215.7" r="1.05" fill="#4ae244" fill-opacity="0.9"/>
<circle cx="379.4" cy="223.3" r="1.14" fill="#4ae244" fill-opacity="0.9"/>
<circle cx="374.4" cy="223.5" r="0.73" fill="#4ae244" fill-opacity="0.9"/>
<circle cx="379.9" cy="217.5" r="1.21" fill="#4ae244" fill-opacity="0.9"/>
<circle cx="343.7" cy="219.4" r="0.71" fill="#4ae244" fill-opacity="0.9"/>
<circle cx="344.6" cy="220.7" r="1.22" fill="#4ae244" fill-opacity="0.9"/>
<circle cx="339.6" cy="227.7" r="1.20" fill="#4ae244" fill-opacity="0.9"/>
<circle cx="337.3" cy="226.6" r="0.92" fill="#4ae244" fill-opacity="0.9"/>
<circle cx="337.3" cy="221.8" r="1.01" fill="#4ae244" fill-opacity="0.9"/>
<circle cx="334.7" cy="225.5" r="0.77" fill="#4ae244" fill-opacity="0.9"/>
<circle cx="409.6" cy="167.8" r="1.22" fill="#4ae244" fill-opacity="0.9"/>
<circle cx="408.7" cy="177.5" r="0.93" fill="#4ae244" fill-opacity="0.9"/>
<circle cx="410.8" cy="170.4" r="1.22" fill="#4ae244" fill-opacity="0.9"/>
<circle cx="414.8" cy="171.8" r="1.01" fill="#4ae244" fill-opacity="0.9"/>
<circle cx="406.5" cy="172.2" r="0.71" fill="#4ae244" fill-opacity="0.9"/>
<circle cx="413.9" cy="172.3" r="0.81" fill="#4ae244" fill-opacity="0.9"/>
<ellipse cx="278.7" cy="96.0" rx="3.99" ry="3.63" transform="rotate(18 278.7 96.0)" fill="#d63418" fill-opacity="0.9"/>
<circle cx="278.9" cy="96.0" r="1.70" fill="#ff4a22" fill-opacity="0.85"/>
<circle cx="278.7" cy="96.0" r="1.64" fill="#ff4a22" fill-opacity="0.85"/>
<circle cx="277.7" cy="95.5" r="1.70" fill="#ff4a22" fill-opacity="0.85"/>
<circle cx="280.2" cy="97.1" r="1.08" fill="#6a1a10" fill-opacity="0.6"/>
<circle cx="278.9" cy="96.1" r="0.94" fill="#6a1a10" fill-opacity="0.6"/>
<ellipse cx="290.1" cy="93.3" rx="3.01" ry="2.28" transform="rotate(90 290.1 93.3)" fill="#d63418" fill-opacity="0.9"/>
<circle cx="289.9" cy="93.4" r="1.22" fill="#ff4a22" fill-opacity="0.85"/>
<circle cx="290.2" cy="93.1" r="1.22" fill="#ff4a22" fill-opacity="0.85"/>
<circle cx="290.1" cy="93.0" r="1.34" fill="#ff4a22" fill-opacity="0.85"/>
<circle cx="290.7" cy="93.1" r="0.67" fill="#6a1a10" fill-opacity="0.6"/>
<circle cx="290.5" cy="92.6" r="0.66" fill="#6a1a10" fill-opacity="0.6"/>
<ellipse cx="252.0" cy="105.2" rx="5.54" ry="4.03" transform="rotate(169 252.0 105.2)" fill="#d63418" fill-opacity="0.9"/>
<circle cx="252.1" cy="106.1" r="1.92" fill="#ff4a22" fill-opacity="0.85"/>
<circle cx="254.1" cy="105.0" r="2.29" fill="#ff4a22" fill-opacity="0.85"/>
<circle cx="252.9" cy="103.2" r="1.62" fill="#ff4a22" fill-opacity="0.85"/>
<circle cx="249.5" cy="104.9" r="1.52" fill="#6a1a10" fill-opacity="0.6"/>
<circle cx="252.0" cy="106.3" r="1.29" fill="#6a1a10" fill-opacity="0.6"/>
<ellipse cx="302.6" cy="107.0" rx="5.02" ry="3.75" transform="rotate(66 302.6 107.0)" fill="#8c2414" fill-opacity="0.75"/>
<circle cx="301.6" cy="107.4" r="1.59" fill="#b02c18" fill-opacity="0.7"/>
<circle cx="303.9" cy="108.6" r="2.19" fill="#b02c18" fill-opacity="0.7"/>
<ellipse cx="286.0" cy="136.5" rx="3.23" ry="2.71" transform="rotate(169 286.0 136.5)" fill="#da4a1a" fill-opacity="0.9"/>
<circle cx="287.6" cy="135.1" r="0.71" fill="#b4e634" fill-opacity="0.85"/>
<circle cx="285.6" cy="136.0" r="1.03" fill="#b4e634" fill-opacity="0.85"/>
<circle cx="285.8" cy="137.8" r="1.16" fill="#b4e634" fill-opacity="0.85"/>
<circle cx="285.6" cy="136.1" r="0.96" fill="#b4e634" fill-opacity="0.85"/>
<ellipse cx="323.8" cy="122.7" rx="4.37" ry="3.18" transform="rotate(78 323.8 122.7)" fill="#8c2414" fill-opacity="0.75"/>
<circle cx="323.4" cy="123.7" r="1.34" fill="#b02c18" fill-opacity="0.7"/>
<circle cx="322.5" cy="121.8" r="1.58" fill="#b02c18" fill-opacity="0.7"/>
<ellipse cx="245.5" cy="59.2" rx="3.13" ry="2.54" transform="rotate(48 245.5 59.2)" fill="#d63418" fill-opacity="0.9"/>
<circle cx="245.6" cy="59.4" r="1.01" fill="#ff4a22" fill-opacity="0.85"/>
<circle cx="245.3" cy="59.8" r="1.08" fill="#ff4a22" fill-opacity="0.85"/>
<circle cx="245.5" cy="59.3" r="1.20" fill="#ff4a22" fill-opacity="0.85"/>
<circle cx="246.0" cy="58.4" r="0.74" fill="#6a1a10" fill-opacity="0.6"/>
<circle cx="245.3" cy="58.9" r="0.81" fill="#6a1a10" fill-opacity="0.6"/>
<ellipse cx="257.5" cy="73.0" rx="3.18" ry="2.59" transform="rotate(83 257.5 73.0)" fill="#d63418" fill-opacity="0.9"/>
<circle cx="257.0" cy="73.1" r="1.06" fill="#ff4a22" fill-opacity="0.85"/>
<circle cx="257.6" cy="73.8" r="1.13" fill="#ff4a22" fill-opacity="0.85"/>
<circle cx="257.5" cy="73.0" r="1.11" fill="#ff4a22" fill-opacity="0.85"/>
<circle cx="257.7" cy="72.7" r="0.74" fill="#6a1a10" fill-opacity="0.6"/>
<circle cx="257.1" cy="73.0" r="0.94" fill="#6a1a10" fill-opacity="0.6"/>
<ellipse cx="397.0" cy="53.7" rx="3.32" ry="2.30" transform="rotate(53 397.0 53.7)" fill="#d63418" fill-opacity="0.9"/>
<circle cx="398.3" cy="54.3" r="1.15" fill="#ff4a22" fill-opacity="0.85"/>
<circle cx="397.6" cy="53.9" r="1.15" fill="#ff4a22" fill-opacity="0.85"/>
<circle cx="397.0" cy="53.5" r="1.05" fill="#ff4a22" fill-opacity="0.85"/>
<circle cx="398.1" cy="53.4" r="0.55" fill="#6a1a10" fill-opacity="0.6"/>
<circle cx="396.7" cy="54.2" r="0.79" fill="#6a1a10" fill-opacity="0.6"/>
<ellipse cx="399.8" cy="62.0" rx="3.37" ry="2.72" transform="rotate(111 399.8 62.0)" fill="#d63418" fill-opacity="0.9"/>
<circle cx="398.6" cy="61.9" r="1.30" fill="#ff4a22" fill-opacity="0.85"/>
<circle cx="399.8" cy="61.3" r="1.32" fill="#ff4a22" fill-opacity="0.85"/>
<circle cx="399.4" cy="60.6" r="1.01" fill="#ff4a22" fill-opacity="0.85"/>
<circle cx="399.8" cy="62.0" r="0.83" fill="#6a1a10" fill-opacity="0.6"/>
<circle cx="399.1" cy="61.6" r="0.93" fill="#6a1a10" fill-opacity="0.6"/>
<ellipse cx="405.3" cy="67.5" rx="4.13" ry="3.60" transform="rotate(103 405.3 67.5)" fill="#da4a1a" fill-opacity="0.9"/>
<circle cx="406.6" cy="66.1" r="1.18" fill="#b4e634" fill-opacity="0.85"/>
<circle cx="403.9" cy="67.9" r="1.41" fill="#b4e634" fill-opacity="0.85"/>
<circle cx="405.0" cy="68.7" r="1.30" fill="#b4e634" fill-opacity="0.85"/>
<circle cx="404.5" cy="68.2" r="1.45" fill="#b4e634" fill-opacity="0.85"/>
<ellipse cx="377.3" cy="77.6" rx="2.99" ry="2.48" transform="rotate(153 377.3 77.6)" fill="#8c2414" fill-opacity="0.75"/>
<circle cx="377.5" cy="78.0" r="1.01" fill="#b02c18" fill-opacity="0.7"/>
<circle cx="376.6" cy="77.3" r="0.99" fill="#b02c18" fill-opacity="0.7"/>
<ellipse cx="391.5" cy="84.0" rx="5.07" ry="4.56" transform="rotate(166 391.5 84.0)" fill="#d63418" fill-opacity="0.9"/>
<circle cx="392.8" cy="81.9" r="1.74" fill="#ff4a22" fill-opacity="0.85"/>
<circle cx="389.4" cy="85.1" r="1.58" fill="#ff4a22" fill-opacity="0.85"/>
<circle cx="392.9" cy="84.4" r="1.97" fill="#ff4a22" fill-opacity="0.85"/>
<circle cx="393.3" cy="83.0" r="1.21" fill="#6a1a10" fill-opacity="0.6"/>
<circle cx="392.9" cy="84.0" r="1.19" fill="#6a1a10" fill-opacity="0.6"/>
<ellipse cx="379.5" cy="97.0" rx="3.41" ry="2.84" transform="rotate(123 379.5 97.0)" fill="#8c2414" fill-opacity="0.75"/>
<circle cx="379.1" cy="96.7" r="1.63" fill="#b02c18" fill-opacity="0.7"/>
<circle cx="379.2" cy="96.3" r="1.16" fill="#b02c18" fill-opacity="0.7"/>
<ellipse cx="345.5" cy="104.3" rx="5.15" ry="4.26" transform="rotate(67 345.5 104.3)" fill="#d63418" fill-opacity="0.9"/>
<circle cx="343.4" cy="103.3" r="2.33" fill="#ff4a22" fill-opacity="0.85"/>
<circle cx="344.3" cy="104.4" r="2.07" fill="#ff4a22" fill-opacity="0.85"/>
<circle cx="346.4" cy="104.3" r="1.99" fill="#ff4a22" fill-opacity="0.85"/>
<circle cx="345.7" cy="103.9" r="1.04" fill="#6a1a10" fill-opacity="0.6"/>
<circle cx="347.6" cy="104.0" r="1.19" fill="#6a1a10" fill-opacity="0.6"/>
<ellipse cx="335.4" cy="106.1" rx="3.96" ry="3.08" transform="rotate(20 335.4 106.1)" fill="#d63418" fill-opacity="0.9"/>
<circle cx="336.2" cy="104.5" r="1.59" fill="#ff4a22" fill-opacity="0.85"/>
<circle cx="335.1" cy="106.2" r="1.26" fill="#ff4a22" fill-opacity="0.85"/>
<circle cx="334.5" cy="106.0" r="1.21" fill="#ff4a22" fill-opacity="0.85"/>
<circle cx="335.9" cy="107.2" r="0.88" fill="#6a1a10" fill-opacity="0.6"/>
<circle cx="334.3" cy="107.6" r="0.90" fill="#6a1a10" fill-opacity="0.6"/>
<ellipse cx="371.3" cy="108.9" rx="5.16" ry="4.50" transform="rotate(8 371.3 108.9)" fill="#d63418" fill-opacity="0.9"/>
<circle cx="370.7" cy="110.6" r="1.58" fill="#ff4a22" fill-opacity="0.85"/>
<circle cx="370.6" cy="111.0" r="2.04" fill="#ff4a22" fill-opacity="0.85"/>
<circle cx="371.0" cy="108.5" r="1.97" fill="#ff4a22" fill-opacity="0.85"/>
<circle cx="370.6" cy="108.7" r="1.30" fill="#6a1a10" fill-opacity="0.6"/>
<circle cx="368.7" cy="108.4" r="1.24" fill="#6a1a10" fill-opacity="0.6"/>
<ellipse cx="404.4" cy="108.9" rx="4.85" ry="3.84" transform="rotate(74 404.4 108.9)" fill="#da4a1a" fill-opacity="0.9"/>
<circle cx="404.4" cy="108.5" r="1.24" fill="#b4e634" fill-opacity="0.85"/>
<circle cx="405.4" cy="110.7" r="1.85" fill="#b4e634" fill-opacity="0.85"/>
<circle cx="402.0" cy="106.8" r="1.21" fill="#b4e634" fill-opacity="0.85"/>
<circle cx="407.4" cy="109.1" r="1.43" fill="#b4e634" fill-opacity="0.85"/>
<ellipse cx="405.3" cy="116.3" rx="5.10" ry="3.85" transform="rotate(129 405.3 116.3)" fill="#d63418" fill-opacity="0.9"/>
<circle cx="405.3" cy="116.6" r="2.29" fill="#ff4a22" fill-opacity="0.85"/>
<circle cx="404.5" cy="115.8" r="1.93" fill="#ff4a22" fill-opacity="0.85"/>
<circle cx="405.2" cy="116.4" r="2.28" fill="#ff4a22" fill-opacity="0.85"/>
<circle cx="403.1" cy="115.0" r="1.13" fill="#6a1a10" fill-opacity="0.6"/>
<circle cx="404.8" cy="115.9" r="0.82" fill="#6a1a10" fill-opacity="0.6"/>
<ellipse cx="345.5" cy="132.8" rx="4.29" ry="3.20" transform="rotate(168 345.5 132.8)" fill="#8c2414" fill-opacity="0.75"/>
<circle cx="346.6" cy="132.0" r="1.45" fill="#b02c18" fill-opacity="0.7"/>
<circle cx="344.2" cy="131.8" r="1.57" fill="#b02c18" fill-opacity="0.7"/>
<ellipse cx="375.9" cy="134.7" rx="3.77" ry="3.27" transform="rotate(171 375.9 134.7)" fill="#8c2414" fill-opacity="0.75"/>
<circle cx="375.8" cy="134.3" r="1.45" fill="#b02c18" fill-opacity="0.7"/>
<circle cx="376.5" cy="134.1" r="1.76" fill="#b02c18" fill-opacity="0.7"/>
<ellipse cx="284.2" cy="140.8" rx="4.91" ry="4.05" transform="rotate(44 284.2 140.8)" fill="#da4a1a" fill-opacity="0.9"/>
<circle cx="285.7" cy="144.3" r="1.40" fill="#b4e634" fill-opacity="0.85"/>
<circle cx="283.8" cy="140.6" r="1.60" fill="#b4e634" fill-opacity="0.85"/>
<circle cx="283.0" cy="141.8" r="1.21" fill="#b4e634" fill-opacity="0.85"/>
<circle cx="286.5" cy="143.1" r="1.45" fill="#b4e634" fill-opacity="0.85"/>
<ellipse cx="260.3" cy="150.0" rx="3.45" ry="2.78" transform="rotate(44 260.3 150.0)" fill="#d63418" fill-opacity="0.9"/>
<circle cx="260.3" cy="150.1" r="1.47" fill="#ff4a22" fill-opacity="0.85"/>
<circle cx="260.1" cy="150.2" r="1.49" fill="#ff4a22" fill-opacity="0.85"/>
<circle cx="260.7" cy="150.3" r="1.56" fill="#ff4a22" fill-opacity="0.85"/>
<circle cx="260.9" cy="150.6" r="1.01" fill="#6a1a10" fill-opacity="0.6"/>
<circle cx="260.4" cy="149.7" r="0.75" fill="#6a1a10" fill-opacity="0.6"/>
<ellipse cx="274.0" cy="159.2" rx="4.61" ry="4.21" transform="rotate(130 274.0 159.2)" fill="#d63418" fill-opacity="0.9"/>
<circle cx="274.6" cy="161.4" r="1.78" fill="#ff4a22" fill-opacity="0.85"/>
<circle cx="274.2" cy="160.3" r="1.51" fill="#ff4a22" fill-opacity="0.85"/>
<circle cx="273.8" cy="158.6" r="2.06" fill="#ff4a22" fill-opacity="0.85"/>
<circle cx="273.3" cy="158.7" r="0.88" fill="#6a1a10" fill-opacity="0.6"/>
<circle cx="273.6" cy="158.9" r="1.33" fill="#6a1a10" fill-opacity="0.6"/>
<ellipse cx="282.3" cy="169.3" rx="4.74" ry="3.82" transform="rotate(22 282.3 169.3)" fill="#d63418" fill-opacity="0.9"/>
<circle cx="282.1" cy="171.1" r="1.69" fill="#ff4a22" fill-opacity="0.85"/>
<circle cx="281.6" cy="168.2" r="1.64" fill="#ff4a22" fill-opacity="0.85"/>
<circle cx="282.1" cy="169.4" r="1.54" fill="#ff4a22" fill-opacity="0.85"/>
<circle cx="282.7" cy="168.7" r="1.18" fill="#6a1a10" fill-opacity="0.6"/>
<circle cx="283.3" cy="170.1" r="0.96" fill="#6a1a10" fill-opacity="0.6"/>
<ellipse cx="324.7" cy="173.0" rx="4.03" ry="3.00" transform="rotate(90 324.7 173.0)" fill="#d63418" fill-opacity="0.9"/>
<circle cx="324.5" cy="173.4" r="1.34" fill="#ff4a22" fill-opacity="0.85"/>
<circle cx="324.6" cy="172.4" r="1.51" fill="#ff4a22" fill-opacity="0.85"/>
<circle cx="326.1" cy="172.1" r="1.82" fill="#ff4a22" fill-opacity="0.85"/>
<circle cx="324.9" cy="172.8" r="0.80" fill="#6a1a10" fill-opacity="0.6"/>
<circle cx="326.1" cy="173.3" r="1.05" fill="#6a1a10" fill-opacity="0.6"/>
<ellipse cx="303.5" cy="196.0" rx="2.94" ry="2.62" transform="rotate(63 303.5 196.0)" fill="#8c2414" fill-opacity="0.75"/>
<circle cx="303.4" cy="195.7" r="1.35" fill="#b02c18" fill-opacity="0.7"/>
<circle cx="303.0" cy="196.6" r="1.03" fill="#b02c18" fill-opacity="0.7"/>
<ellipse cx="262.1" cy="202.4" rx="4.55" ry="3.56" transform="rotate(21 262.1 202.4)" fill="#d63418" fill-opacity="0.9"/>
<circle cx="262.1" cy="202.3" r="1.29" fill="#ff4a22" fill-opacity="0.85"/>
<circle cx="262.3" cy="202.8" r="1.45" fill="#ff4a22" fill-opacity="0.85"/>
<circle cx="262.0" cy="202.5" r="1.46" fill="#ff4a22" fill-opacity="0.85"/>
<circle cx="261.9" cy="202.1" r="1.16" fill="#6a1a10" fill-opacity="0.6"/>
<circle cx="260.7" cy="201.8" r="0.79" fill="#6a1a10" fill-opacity="0.6"/>
<ellipse cx="241.8" cy="210.7" rx="4.14" ry="3.23" transform="rotate(78 241.8 210.7)" fill="#8c2414" fill-opacity="0.75"/>
<circle cx="243.2" cy="210.7" r="1.75" fill="#b02c18" fill-opacity="0.7"/>
<circle cx="241.8" cy="210.8" r="1.80" fill="#b02c18" fill-opacity="0.7"/>
<ellipse cx="278.7" cy="218.1" rx="2.71" ry="2.36" transform="rotate(109 278.7 218.1)" fill="#8c2414" fill-opacity="0.75"/>
<circle cx="279.5" cy="218.7" r="1.04" fill="#b02c18" fill-opacity="0.7"/>
<circle cx="279.5" cy="217.6" r="0.99" fill="#b02c18" fill-opacity="0.7"/>
<ellipse cx="333.5" cy="147.2" rx="5.14" ry="4.46" transform="rotate(125 333.5 147.2)" fill="#d63418" fill-opacity="0.9"/>
<circle cx="333.9" cy="146.6" r="1.65" fill="#ff4a22" fill-opacity="0.85"/>
<circle cx="334.6" cy="146.8" r="2.31" fill="#ff4a22" fill-opacity="0.85"/>
<circle cx="332.8" cy="145.4" r="2.23" fill="#ff4a22" fill-opacity="0.85"/>
<circle cx="332.7" cy="146.3" r="0.83" fill="#6a1a10" fill-opacity="0.6"/>
<circle cx="333.1" cy="146.1" r="1.19" fill="#6a1a10" fill-opacity="0.6"/>
<ellipse cx="370.3" cy="148.1" rx="3.89" ry="3.58" transform="rotate(167 370.3 148.1)" fill="#d63418" fill-opacity="0.9"/>
<circle cx="371.7" cy="148.5" r="1.77" fill="#ff4a22" fill-opacity="0.85"/>
<circle cx="370.2" cy="149.2" r="1.87" fill="#ff4a22" fill-opacity="0.85"/>
<circle cx="369.6" cy="147.2" r="1.42" fill="#ff4a22" fill-opacity="0.85"/>
<circle cx="371.0" cy="148.4" r="0.89" fill="#6a1a10" fill-opacity="0.6"/>
<circle cx="370.5" cy="148.7" r="0.72" fill="#6a1a10" fill-opacity="0.6"/>
<ellipse cx="376.2" cy="143.5" rx="3.26" ry="2.35" transform="rotate(127 376.2 143.5)" fill="#d63418" fill-opacity="0.9"/>
<circle cx="376.2" cy="144.3" r="1.16" fill="#ff4a22" fill-opacity="0.85"/>
<circle cx="376.7" cy="143.3" r="1.09" fill="#ff4a22" fill-opacity="0.85"/>
<circle cx="376.4" cy="143.4" r="1.21" fill="#ff4a22" fill-opacity="0.85"/>
<circle cx="375.6" cy="144.6" r="0.73" fill="#6a1a10" fill-opacity="0.6"/>
<circle cx="376.2" cy="143.2" r="0.79" fill="#6a1a10" fill-opacity="0.6"/>
<ellipse cx="378.1" cy="156.4" rx="4.17" ry="3.58" transform="rotate(108 378.1 156.4)" fill="#d63418" fill-opacity="0.9"/>
<circle cx="378.2" cy="156.2" r="1.44" fill="#ff4a22" fill-opacity="0.85"/>
<circle cx="377.8" cy="156.7" r="1.30" fill="#ff4a22" fill-opacity="0.85"/>
<circle cx="378.0" cy="156.8" r="1.70" fill="#ff4a22" fill-opacity="0.85"/>
<circle cx="377.9" cy="156.5" r="0.83" fill="#6a1a10" fill-opacity="0.6"/>
<circle cx="377.4" cy="156.5" r="0.74" fill="#6a1a10" fill-opacity="0.6"/>
<ellipse cx="374.0" cy="164.7" rx="3.79" ry="3.77" transform="rotate(13 374.0 164.7)" fill="#d63418" fill-opacity="0.9"/>
<circle cx="374.0" cy="164.5" r="1.71" fill="#ff4a22" fill-opacity="0.85"/>
<circle cx="375.2" cy="164.6" r="1.33" fill="#ff4a22" fill-opacity="0.85"/>
<circle cx="373.1" cy="164.8" r="1.38" fill="#ff4a22" fill-opacity="0.85"/>
<circle cx="374.0" cy="164.7" r="1.21" fill="#6a1a10" fill-opacity="0.6"/>
<circle cx="373.2" cy="163.7" r="1.22" fill="#6a1a10" fill-opacity="0.6"/>
<ellipse cx="401.6" cy="150.0" rx="2.84" ry="2.36" transform="rotate(117 401.6 150.0)" fill="#8c2414" fill-opacity="0.75"/>
<circle cx="401.6" cy="150.0" r="1.31" fill="#b02c18" fill-opacity="0.7"/>
<circle cx="401.8" cy="149.7" r="1.03" fill="#b02c18" fill-opacity="0.7"/>
<ellipse cx="409.0" cy="149.0" rx="3.75" ry="3.25" transform="rotate(115 409.0 149.0)" fill="#8c2414" fill-opacity="0.75"/>
<circle cx="409.6" cy="150.0" r="1.56" fill="#b02c18" fill-opacity="0.7"/>
<circle cx="409.0" cy="148.5" r="1.20" fill="#b02c18" fill-opacity="0.7"/>
<ellipse cx="342.7" cy="175.7" rx="5.76" ry="4.87" transform="rotate(149 342.7 175.7)" fill="#8c2414" fill-opacity="0.75"/>
<circle cx="341.8" cy="175.4" r="2.68" fill="#b02c18" fill-opacity="0.7"/>
<circle cx="342.7" cy="175.8" r="2.43" fill="#b02c18" fill-opacity="0.7"/>
<ellipse cx="329.8" cy="176.7" rx="5.59" ry="4.42" transform="rotate(113 329.8 176.7)" fill="#da4a1a" fill-opacity="0.9"/>
<circle cx="332.9" cy="174.6" r="1.57" fill="#b4e634" fill-opacity="0.85"/>
<circle cx="329.2" cy="176.7" r="1.41" fill="#b4e634" fill-opacity="0.85"/>
<circle cx="329.5" cy="176.5" r="1.73" fill="#b4e634" fill-opacity="0.85"/>
<circle cx="330.7" cy="178.2" r="1.97" fill="#b4e634" fill-opacity="0.85"/>
<ellipse cx="358.4" cy="178.5" rx="3.81" ry="3.31" transform="rotate(16 358.4 178.5)" fill="#da4a1a" fill-opacity="0.9"/>
<circle cx="359.2" cy="180.6" r="0.93" fill="#b4e634" fill-opacity="0.85"/>
<circle cx="359.9" cy="176.2" r="1.45" fill="#b4e634" fill-opacity="0.85"/>
<circle cx="357.6" cy="178.9" r="1.37" fill="#b4e634" fill-opacity="0.85"/>
<circle cx="357.1" cy="178.4" r="1.15" fill="#b4e634" fill-opacity="0.85"/>
<ellipse cx="365.7" cy="191.4" rx="3.25" ry="2.73" transform="rotate(79 365.7 191.4)" fill="#d63418" fill-opacity="0.9"/>
<circle cx="365.9" cy="191.3" r="1.08" fill="#ff4a22" fill-opacity="0.85"/>
<circle cx="364.9" cy="191.7" r="1.11" fill="#ff4a22" fill-opacity="0.85"/>
<circle cx="365.7" cy="191.5" r="1.10" fill="#ff4a22" fill-opacity="0.85"/>
<circle cx="364.2" cy="191.8" r="0.90" fill="#6a1a10" fill-opacity="0.6"/>
<circle cx="366.7" cy="190.3" r="0.93" fill="#6a1a10" fill-opacity="0.6"/>
<ellipse cx="381.4" cy="202.4" rx="4.46" ry="2.99" transform="rotate(112 381.4 202.4)" fill="#da4a1a" fill-opacity="0.9"/>
<circle cx="380.5" cy="200.7" r="1.12" fill="#b4e634" fill-opacity="0.85"/>
<circle cx="378.7" cy="201.1" r="1.25" fill="#b4e634" fill-opacity="0.85"/>
<circle cx="380.8" cy="201.6" r="1.15" fill="#b4e634" fill-opacity="0.85"/>
<circle cx="381.5" cy="202.3" r="1.05" fill="#b4e634" fill-opacity="0.85"/>
<ellipse cx="355.2" cy="203.4" rx="5.19" ry="3.76" transform="rotate(122 355.2 203.4)" fill="#d63418" fill-opacity="0.9"/>
<circle cx="354.7" cy="202.6" r="2.03" fill="#ff4a22" fill-opacity="0.85"/>
<circle cx="354.0" cy="204.1" r="2.02" fill="#ff4a22" fill-opacity="0.85"/>
<circle cx="355.0" cy="203.6" r="1.72" fill="#ff4a22" fill-opacity="0.85"/>
<circle cx="356.3" cy="202.5" r="0.88" fill="#6a1a10" fill-opacity="0.6"/>
<circle cx="355.6" cy="202.9" r="0.86" fill="#6a1a10" fill-opacity="0.6"/>
<ellipse cx="399.8" cy="210.7" rx="3.31" ry="2.93" transform="rotate(96 399.8 210.7)" fill="#8c2414" fill-opacity="0.75"/>
<circle cx="399.5" cy="210.6" r="1.42" fill="#b02c18" fill-opacity="0.7"/>
<circle cx="400.4" cy="211.2" r="1.43" fill="#b02c18" fill-opacity="0.7"/>
<ellipse cx="369.4" cy="216.2" rx="5.15" ry="3.75" transform="rotate(14 369.4 216.2)" fill="#da4a1a" fill-opacity="0.9"/>
<circle cx="366.2" cy="217.5" r="1.62" fill="#b4e634" fill-opacity="0.85"/>
<circle cx="368.7" cy="213.3" r="1.25" fill="#b4e634" fill-opacity="0.85"/>
<circle cx="372.2" cy="216.0" r="1.24" fill="#b4e634" fill-opacity="0.85"/>
<circle cx="370.1" cy="214.8" r="1.30" fill="#b4e634" fill-opacity="0.85"/>
<ellipse cx="378.6" cy="220.8" rx="3.19" ry="2.69" transform="rotate(173 378.6 220.8)" fill="#d63418" fill-opacity="0.9"/>
<circle cx="379.4" cy="221.7" r="0.97" fill="#ff4a22" fill-opacity="0.85"/>
<circle cx="378.6" cy="221.4" r="0.95" fill="#ff4a22" fill-opacity="0.85"/>
<circle cx="378.3" cy="220.6" r="1.09" fill="#ff4a22" fill-opacity="0.85"/>
<circle cx="378.4" cy="220.2" r="0.89" fill="#6a1a10" fill-opacity="0.6"/>
<circle cx="377.6" cy="219.9" r="0.74" fill="#6a1a10" fill-opacity="0.6"/>
<ellipse cx="340.0" cy="223.6" rx="4.51" ry="3.08" transform="rotate(165 340.0 223.6)" fill="#d63418" fill-opacity="0.9"/>
<circle cx="340.0" cy="222.9" r="1.74" fill="#ff4a22" fill-opacity="0.85"/>
<circle cx="339.3" cy="222.0" r="1.34" fill="#ff4a22" fill-opacity="0.85"/>
<circle cx="338.9" cy="224.7" r="1.86" fill="#ff4a22" fill-opacity="0.85"/>
<circle cx="340.0" cy="223.5" r="1.01" fill="#6a1a10" fill-opacity="0.6"/>
<circle cx="340.9" cy="224.3" r="1.14" fill="#6a1a10" fill-opacity="0.6"/>
<ellipse cx="410.8" cy="173.0" rx="3.26" ry="2.63" transform="rotate(20 410.8 173.0)" fill="#8c2414" fill-opacity="0.75"/>
<circle cx="410.8" cy="173.2" r="1.16" fill="#b02c18" fill-opacity="0.7"/>
<circle cx="411.2" cy="172.4" r="1.00" fill="#b02c18" fill-opacity="0.7"/>
<ellipse cx="282.3" cy="98.8" rx="3.60" ry="2.51" transform="rotate(4 282.3 98.8)" fill="#23a024" fill-opacity="0.55"/>
<circle cx="282.5" cy="98.3" r="1.44" fill="#48e442" fill-opacity="0.9"/>
<circle cx="281.8" cy="100.7" r="1.30" fill="#48e442" fill-opacity="0.9"/>
<circle cx="283.8" cy="100.7" r="1.43" fill="#48e442" fill-opacity="0.9"/>
<circle cx="281.5" cy="96.7" r="1.76" fill="#48e442" fill-opacity="0.9"/>
<circle cx="283.3" cy="98.9" r="1.12" fill="#48e442" fill-opacity="0.9"/>
<circle cx="279.9" cy="98.8" r="1.64" fill="#48e442" fill-opacity="0.9"/>
<ellipse cx="286.9" cy="89.6" rx="2.70" ry="1.94" transform="rotate(6 286.9 89.6)" fill="#23a024" fill-opacity="0.55"/>
<circle cx="287.5" cy="88.3" r="0.99" fill="#48e442" fill-opacity="0.9"/>
<circle cx="286.6" cy="89.7" r="1.26" fill="#48e442" fill-opacity="0.9"/>
<circle cx="285.5" cy="90.7" r="1.12" fill="#48e442" fill-opacity="0.9"/>
<circle cx="287.5" cy="89.9" r="0.88" fill="#48e442" fill-opacity="0.9"/>
<circle cx="287.9" cy="88.8" r="0.78" fill="#48e442" fill-opacity="0.9"/>
<circle cx="287.3" cy="90.3" r="1.03" fill="#48e442" fill-opacity="0.9"/>
<ellipse cx="255.6" cy="103.4" rx="1.80" ry="1.39" transform="rotate(104 255.6 103.4)" fill="#23a024" fill-opacity="0.55"/>
<circle cx="255.6" cy="103.4" r="0.73" fill="#48e442" fill-opacity="0.9"/>
<circle cx="255.6" cy="103.4" r="0.68" fill="#48e442" fill-opacity="0.9"/>
<circle cx="255.7" cy="103.4" r="0.56" fill="#48e442" fill-opacity="0.9"/>
<circle cx="255.4" cy="103.1" r="0.61" fill="#48e442" fill-opacity="0.9"/>
<circle cx="255.2" cy="103.4" r="0.73" fill="#48e442" fill-opacity="0.9"/>
<circle cx="254.3" cy="103.2" r="0.90" fill="#48e442" fill-opacity="0.9"/>
<ellipse cx="243.7" cy="110.8" rx="2.70" ry="2.22" transform="rotate(6 243.7 110.8)" fill="#23a024" fill-opacity="0.55"/>
<circle cx="243.9" cy="109.0" r="1.21" fill="#48e442" fill-opacity="0.9"/>
<circle cx="242.8" cy="109.8" r="0.97" fill="#48e442" fill-opacity="0.9"/>
<circle cx="243.4" cy="112.4" r="1.27" fill="#48e442" fill-opacity="0.9"/>
<circle cx="245.0" cy="110.3" r="0.93" fill="#48e442" fill-opacity="0.9"/>
<circle cx="243.8" cy="109.3" r="1.06" fill="#48e442" fill-opacity="0.9"/>
<circle cx="243.2" cy="110.2" r="1.08" fill="#48e442" fill-opacity="0.9"/>
<ellipse cx="304.8" cy="85.9" rx="2.70" ry="1.85" transform="rotate(73 304.8 85.9)" fill="#23a024" fill-opacity="0.55"/>
<circle cx="304.4" cy="86.5" r="1.34" fill="#48e442" fill-opacity="0.9"/>
<circle cx="304.0" cy="86.0" r="0.90" fill="#48e442" fill-opacity="0.9"/>
<circle cx="304.9" cy="86.6" r="0.83" fill="#48e442" fill-opacity="0.9"/>
<circle cx="306.6" cy="86.0" r="1.02" fill="#48e442" fill-opacity="0.9"/>
<circle cx="303.7" cy="86.3" r="0.93" fill="#48e442" fill-opacity="0.9"/>
<circle cx="304.9" cy="86.0" r="0.93" fill="#48e442" fill-opacity="0.9"/>
<ellipse cx="258.4" cy="123.6" rx="3.60" ry="3.13" transform="rotate(56 258.4 123.6)" fill="#23a024" fill-opacity="0.55"/>
<circle cx="255.9" cy="122.8" r="1.27" fill="#48e442" fill-opacity="0.9"/>
<circle cx="259.8" cy="122.8" r="1.06" fill="#48e442" fill-opacity="0.9"/>
<circle cx="259.1" cy="125.1" r="1.79" fill="#48e442" fill-opacity="0.9"/>
<circle cx="257.0" cy="125.3" r="1.34" fill="#48e442" fill-opacity="0.9"/>
<circle cx="258.5" cy="123.5" r="1.39" fill="#48e442" fill-opacity="0.9"/>
<circle cx="259.0" cy="123.1" r="1.21" fill="#48e442" fill-opacity="0.9"/>
<ellipse cx="292.5" cy="131.9" rx="2.70" ry="1.92" transform="rotate(4 292.5 131.9)" fill="#23a024" fill-opacity="0.55"/>
<circle cx="292.3" cy="133.4" r="0.88" fill="#48e442" fill-opacity="0.9"/>
<circle cx="292.2" cy="132.1" r="1.11" fill="#48e442" fill-opacity="0.9"/>
<circle cx="293.4" cy="130.9" r="0.87" fill="#48e442" fill-opacity="0.9"/>
<circle cx="292.3" cy="129.9" r="1.11" fill="#48e442" fill-opacity="0.9"/>
<circle cx="294.0" cy="132.7" r="1.28" fill="#48e442" fill-opacity="0.9"/>
<circle cx="292.3" cy="132.1" r="0.86" fill="#48e442" fill-opacity="0.9"/>
<ellipse cx="325.6" cy="119.0" rx="1.80" ry="1.64" transform="rotate(97 325.6 119.0)" fill="#23a024" fill-opacity="0.55"/>
<circle cx="324.8" cy="118.0" r="0.58" fill="#48e442" fill-opacity="0.9"/>
<circle cx="325.1" cy="119.9" r="0.76" fill="#48e442" fill-opacity="0.9"/>
<circle cx="324.8" cy="119.5" r="0.64" fill="#48e442" fill-opacity="0.9"/>
<circle cx="326.1" cy="119.2" r="0.52" fill="#48e442" fill-opacity="0.9"/>
<circle cx="325.3" cy="118.7" r="0.70" fill="#48e442" fill-opacity="0.9"/>
<circle cx="325.3" cy="118.8" r="0.69" fill="#48e442" fill-opacity="0.9"/>
<ellipse cx="256.6" cy="59.2" rx="2.70" ry="2.49" transform="rotate(2 256.6 59.2)" fill="#23a024" fill-opacity="0.55"/>
<circle cx="254.7" cy="58.4" r="0.78" fill="#48e442" fill-opacity="0.9"/>
<circle cx="255.5" cy="58.2" r="0.95" fill="#48e442" fill-opacity="0.9"/>
<circle cx="256.9" cy="59.4" r="0.84" fill="#48e442" fill-opacity="0.9"/>
<circle cx="256.6" cy="59.0" r="1.24" fill="#48e442" fill-opacity="0.9"/>
<circle cx="255.6" cy="59.7" r="1.10" fill="#48e442" fill-opacity="0.9"/>
<circle cx="255.3" cy="58.7" r="1.11" fill="#48e442" fill-opacity="0.9"/>
<ellipse cx="243.7" cy="64.7" rx="2.70" ry="2.36" transform="rotate(60 243.7 64.7)" fill="#23a024" fill-opacity="0.55"/>
<circle cx="243.6" cy="66.2" r="1.21" fill="#48e442" fill-opacity="0.9"/>
<circle cx="243.8" cy="64.1" r="1.21" fill="#48e442" fill-opacity="0.9"/>
<circle cx="244.6" cy="64.6" r="0.92" fill="#48e442" fill-opacity="0.9"/>
<circle cx="241.7" cy="64.4" r="0.83" fill="#48e442" fill-opacity="0.9"/>
<circle cx="244.7" cy="64.8" r="1.14" fill="#48e442" fill-opacity="0.9"/>
<circle cx="243.8" cy="63.9" r="1.34" fill="#48e442" fill-opacity="0.9"/>
<circle cx="336.3" cy="63.3" r="3.00" fill="#1d6e1f" fill-opacity="0.8"/>
<ellipse cx="399.8" cy="53.3" rx="2.70" ry="1.87" transform="rotate(136 399.8 53.3)" fill="#23a024" fill-opacity="0.55"/>
<circle cx="400.1" cy="53.3" r="0.79" fill="#48e442" fill-opacity="0.9"/>
<circle cx="398.6" cy="53.3" r="0.86" fill="#48e442" fill-opacity="0.9"/>
<circle cx="400.5" cy="53.0" r="0.84" fill="#48e442" fill-opacity="0.9"/>
<circle cx="400.5" cy="54.7" r="1.30" fill="#48e442" fill-opacity="0.9"/>
<circle cx="399.8" cy="53.4" r="1.22" fill="#48e442" fill-opacity="0.9"/>
<circle cx="399.9" cy="55.4" r="1.05" fill="#48e442" fill-opacity="0.9"/>
<ellipse cx="396.1" cy="59.2" rx="2.70" ry="2.06" transform="rotate(115 396.1 59.2)" fill="#23a024" fill-opacity="0.55"/>
<circle cx="396.4" cy="58.3" r="0.94" fill="#48e442" fill-opacity="0.9"/>
<circle cx="396.3" cy="59.1" r="1.19" fill="#48e442" fill-opacity="0.9"/>
<circle cx="397.3" cy="59.7" r="0.99" fill="#48e442" fill-opacity="0.9"/>
<circle cx="396.2" cy="59.1" r="1.09" fill="#48e442" fill-opacity="0.9"/>
<circle cx="394.5" cy="60.2" r="1.32" fill="#48e442" fill-opacity="0.9"/>
<circle cx="395.8" cy="58.9" r="0.90" fill="#48e442" fill-opacity="0.9"/>
<ellipse cx="409.9" cy="66.6" rx="2.70" ry="2.13" transform="rotate(47 409.9 66.6)" fill="#23a024" fill-opacity="0.55"/>
<circle cx="409.9" cy="67.0" r="1.21" fill="#48e442" fill-opacity="0.9"/>
<circle cx="409.5" cy="66.1" r="1.35" fill="#48e442" fill-opacity="0.9"/>
<circle cx="410.1" cy="67.8" r="0.84" fill="#48e442" fill-opacity="0.9"/>
<circle cx="411.1" cy="65.2" r="0.91" fill="#48e442" fill-opacity="0.9"/>
<circle cx="409.9" cy="64.9" r="0.92" fill="#48e442" fill-opacity="0.9"/>
<circle cx="409.4" cy="67.5" r="1.28" fill="#48e442" fill-opacity="0.9"/>
<ellipse cx="371.3" cy="77.6" rx="3.60" ry="3.08" transform="rotate(29 371.3 77.6)" fill="#23a024" fill-opacity="0.55"/>
<circle cx="370.3" cy="76.9" r="1.46" fill="#48e442" fill-opacity="0.9"/>
<circle cx="371.7" cy="77.2" r="1.71" fill="#48e442" fill-opacity="0.9"/>
<circle cx="369.9" cy="79.3" r="1.69" fill="#48e442" fill-opacity="0.9"/>
<circle cx="372.3" cy="79.8" r="1.80" fill="#48e442" fill-opacity="0.9"/>
<circle cx="371.3" cy="77.7" r="1.09" fill="#48e442" fill-opacity="0.9"/>
<circle cx="371.3" cy="77.6" r="1.73" fill="#48e442" fill-opacity="0.9"/>
<ellipse cx="386.0" cy="83.5" rx="3.15" ry="2.74" transform="rotate(27 386.0 83.5)" fill="#23a024" fill-opacity="0.55"/>
<circle cx="386.3" cy="83.7" r="1.35" fill="#48e442" fill-opacity="0.9"/>
<circle cx="386.7" cy="83.9" r="1.52" fill="#48e442" fill-opacity="0.9"/>
<circle cx="385.5" cy="81.4" r="1.56" fill="#48e442" fill-opacity="0.9"/>
<circle cx="386.6" cy="83.6" r="1.43" fill="#48e442" fill-opacity="0.9"/>
<circle cx="386.0" cy="83.4" r="1.23" fill="#48e442" fill-opacity="0.9"/>
<circle cx="386.1" cy="84.5" r="0.95" fill="#48e442" fill-opacity="0.9"/>
<ellipse cx="356.5" cy="124.6" rx="3.15" ry="2.97" transform="rotate(4 356.5 124.6)" fill="#23a024" fill-opacity="0.55"/>
<circle cx="355.6" cy="126.6" r="0.96" fill="#48e442" fill-opacity="0.9"/>
<circle cx="356.2" cy="124.6" r="1.17" fill="#48e442" fill-opacity="0.9"/>
<circle cx="357.2" cy="126.1" r="0.98" fill="#48e442" fill-opacity="0.9"/>
<circle cx="356.4" cy="123.4" r="0.95" fill="#48e442" fill-opacity="0.9"/>
<circle cx="355.8" cy="125.6" r="1.52" fill="#48e442" fill-opacity="0.9"/>
<circle cx="356.2" cy="125.0" r="1.55" fill="#48e442" fill-opacity="0.9"/>
<ellipse cx="349.2" cy="94.2" rx="1.80" ry="1.57" transform="rotate(159 349.2 94.2)" fill="#23a024" fill-opacity="0.55"/>
<circle cx="349.2" cy="94.4" r="0.61" fill="#48e442" fill-opacity="0.9"/>
<circle cx="349.3" cy="94.2" r="0.70" fill="#48e442" fill-opacity="0.9"/>
<circle cx="348.5" cy="94.6" r="0.65" fill="#48e442" fill-opacity="0.9"/>
<circle cx="350.2" cy="94.3" r="0.76" fill="#48e442" fill-opacity="0.9"/>
<circle cx="348.5" cy="94.0" r="0.78" fill="#48e442" fill-opacity="0.9"/>
<circle cx="350.4" cy="94.1" r="0.79" fill="#48e442" fill-opacity="0.9"/>
<ellipse cx="274.0" cy="140.8" rx="2.70" ry="2.04" transform="rotate(72 274.0 140.8)" fill="#23a024" fill-opacity="0.55"/>
<circle cx="272.2" cy="141.8" r="0.98" fill="#48e442" fill-opacity="0.9"/>
<circle cx="273.4" cy="141.4" r="0.84" fill="#48e442" fill-opacity="0.9"/>
<circle cx="274.0" cy="140.8" r="1.11" fill="#48e442" fill-opacity="0.9"/>
<circle cx="274.5" cy="140.6" r="1.12" fill="#48e442" fill-opacity="0.9"/>
<circle cx="273.6" cy="141.2" r="0.87" fill="#48e442" fill-opacity="0.9"/>
<circle cx="275.3" cy="142.0" r="1.22" fill="#48e442" fill-opacity="0.9"/>
<ellipse cx="270.4" cy="156.4" rx="1.80" ry="1.22" transform="rotate(164 270.4 156.4)" fill="#23a024" fill-opacity="0.55"/>
<circle cx="270.2" cy="156.0" r="0.76" fill="#48e442" fill-opacity="0.9"/>
<circle cx="270.0" cy="156.3" r="0.89" fill="#48e442" fill-opacity="0.9"/>
<circle cx="271.4" cy="156.4" r="0.84" fill="#48e442" fill-opacity="0.9"/>
<circle cx="269.6" cy="156.3" r="0.90" fill="#48e442" fill-opacity="0.9"/>
<circle cx="270.5" cy="157.3" r="0.80" fill="#48e442" fill-opacity="0.9"/>
<circle cx="269.7" cy="157.1" r="0.66" fill="#48e442" fill-opacity="0.9"/>
<ellipse cx="279.6" cy="173.0" rx="2.70" ry="2.26" transform="rotate(95 279.6 173.0)" fill="#23a024" fill-opacity="0.55"/>
<circle cx="279.3" cy="172.4" r="1.13" fill="#48e442" fill-opacity="0.9"/>
<circle cx="279.1" cy="172.9" r="1.12" fill="#48e442" fill-opacity="0.9"/>
<circle cx="279.4" cy="174.9" r="1.03" fill="#48e442" fill-opacity="0.9"/>
<circle cx="279.4" cy="171.9" r="1.04" fill="#48e442" fill-opacity="0.9"/>
<circle cx="279.7" cy="173.3" r="1.31" fill="#48e442" fill-opacity="0.9"/>
<circle cx="278.5" cy="172.8" r="1.07" fill="#48e442" fill-opacity="0.9"/>
<ellipse cx="325.6" cy="179.4" rx="2.70" ry="1.98" transform="rotate(146 325.6 179.4)" fill="#23a024" fill-opacity="0.55"/>
<circle cx="326.4" cy="180.9" r="1.03" fill="#48e442" fill-opacity="0.9"/>
<circle cx="324.5" cy="178.1" r="1.29" fill="#48e442" fill-opacity="0.9"/>
<circle cx="325.7" cy="179.3" r="0.98" fill="#48e442" fill-opacity="0.9"/>
<circle cx="326.4" cy="177.9" r="0.82" fill="#48e442" fill-opacity="0.9"/>
<circle cx="325.9" cy="179.8" r="0.81" fill="#48e442" fill-opacity="0.9"/>
<circle cx="324.6" cy="180.7" r="1.06" fill="#48e442" fill-opacity="0.9"/>
<ellipse cx="297.1" cy="192.3" rx="4.50" ry="3.11" transform="rotate(82 297.1 192.3)" fill="#23a024" fill-opacity="0.55"/>
<circle cx="294.3" cy="194.4" r="1.95" fill="#48e442" fill-opacity="0.9"/>
<circle cx="295.5" cy="192.8" r="2.05" fill="#48e442" fill-opacity="0.9"/>
<circle cx="297.1" cy="191.8" r="1.93" fill="#48e442" fill-opacity="0.9"/>
<circle cx="295.9" cy="193.7" r="1.49" fill="#48e442" fill-opacity="0.9"/>
<circle cx="296.3" cy="193.2" r="1.63" fill="#48e442" fill-opacity="0.9"/>
<circle cx="297.8" cy="192.4" r="1.82" fill="#48e442" fill-opacity="0.9"/>
<ellipse cx="243.7" cy="198.8" rx="2.70" ry="1.93" transform="rotate(10 243.7 198.8)" fill="#23a024" fill-opacity="0.55"/>
<circle cx="243.6" cy="198.2" r="0.94" fill="#48e442" fill-opacity="0.9"/>
<circle cx="243.8" cy="200.5" r="0.80" fill="#48e442" fill-opacity="0.9"/>
<circle cx="242.5" cy="197.4" r="0.87" fill="#48e442" fill-opacity="0.9"/>
<circle cx="242.2" cy="199.6" r="1.12" fill="#48e442" fill-opacity="0.9"/>
<circle cx="243.6" cy="198.9" r="1.02" fill="#48e442" fill-opacity="0.9"/>
<circle cx="242.7" cy="199.9" r="0.93" fill="#48e442" fill-opacity="0.9"/>
<ellipse cx="338.1" cy="150.0" rx="2.25" ry="1.91" transform="rotate(73 338.1 150.0)" fill="#23a024" fill-opacity="0.55"/>
<circle cx="338.3" cy="149.4" r="0.82" fill="#48e442" fill-opacity="0.9"/>
<circle cx="336.7" cy="149.2" r="0.72" fill="#48e442" fill-opacity="0.9"/>
<circle cx="339.3" cy="149.8" r="0.81" fill="#48e442" fill-opacity="0.9"/>
<circle cx="337.8" cy="149.5" r="0.66" fill="#48e442" fill-opacity="0.9"/>
<circle cx="338.1" cy="149.3" r="0.89" fill="#48e442" fill-opacity="0.9"/>
<circle cx="336.5" cy="150.0" r="1.00" fill="#48e442" fill-opacity="0.9"/>
<ellipse cx="335.4" cy="161.9" rx="2.70" ry="2.24" transform="rotate(5 335.4 161.9)" fill="#23a024" fill-opacity="0.55"/>
<circle cx="334.5" cy="162.1" r="1.25" fill="#48e442" fill-opacity="0.9"/>
<circle cx="334.5" cy="162.4" r="1.28" fill="#48e442" fill-opacity="0.9"/>
<circle cx="334.4" cy="162.3" r="1.06" fill="#48e442" fill-opacity="0.9"/>
<circle cx="336.0" cy="160.6" r="1.19" fill="#48e442" fill-opacity="0.9"/>
<circle cx="335.3" cy="161.9" r="1.16" fill="#48e442" fill-opacity="0.9"/>
<circle cx="333.9" cy="161.4" r="1.21" fill="#48e442" fill-opacity="0.9"/>
<ellipse cx="375.0" cy="153.6" rx="3.60" ry="2.62" transform="rotate(21 375.0 153.6)" fill="#23a024" fill-opacity="0.55"/>
<circle cx="377.0" cy="154.7" r="1.08" fill="#48e442" fill-opacity="0.9"/>
<circle cx="376.8" cy="154.7" r="1.45" fill="#48e442" fill-opacity="0.9"/>
<circle cx="376.8" cy="154.2" r="1.57" fill="#48e442" fill-opacity="0.9"/>
<circle cx="374.8" cy="153.6" r="1.55" fill="#48e442" fill-opacity="0.9"/>
<circle cx="373.6" cy="154.4" r="1.80" fill="#48e442" fill-opacity="0.9"/>
<circle cx="376.0" cy="151.4" r="1.12" fill="#48e442" fill-opacity="0.9"/>
<ellipse cx="358.4" cy="163.8" rx="3.15" ry="2.55" transform="rotate(60 358.4 163.8)" fill="#23a024" fill-opacity="0.55"/>
<circle cx="360.8" cy="163.9" r="1.07" fill="#48e442" fill-opacity="0.9"/>
<circle cx="358.3" cy="164.6" r="1.05" fill="#48e442" fill-opacity="0.9"/>
<circle cx="359.3" cy="162.7" r="1.23" fill="#48e442" fill-opacity="0.9"/>
<circle cx="358.3" cy="163.9" r="1.09" fill="#48e442" fill-opacity="0.9"/>
<circle cx="359.7" cy="162.3" r="1.47" fill="#48e442" fill-opacity="0.9"/>
<circle cx="358.4" cy="164.3" r="0.91" fill="#48e442" fill-opacity="0.9"/>
<ellipse cx="392.4" cy="141.7" rx="2.25" ry="1.73" transform="rotate(97 392.4 141.7)" fill="#23a024" fill-opacity="0.55"/>
<circle cx="391.6" cy="141.9" r="0.92" fill="#48e442" fill-opacity="0.9"/>
<circle cx="391.5" cy="142.7" r="0.73" fill="#48e442" fill-opacity="0.9"/>
<circle cx="393.3" cy="141.2" r="0.65" fill="#48e442" fill-opacity="0.9"/>
<circle cx="392.0" cy="142.6" r="0.83" fill="#48e442" fill-opacity="0.9"/>
<circle cx="391.9" cy="141.5" r="0.76" fill="#48e442" fill-opacity="0.9"/>
<circle cx="392.5" cy="141.2" r="0.98" fill="#48e442" fill-opacity="0.9"/>
<ellipse cx="401.6" cy="155.5" rx="3.60" ry="2.99" transform="rotate(144 401.6 155.5)" fill="#23a024" fill-opacity="0.55"/>
<circle cx="399.1" cy="156.2" r="1.36" fill="#48e442" fill-opacity="0.9"/>
<circle cx="401.7" cy="155.4" r="1.35" fill="#48e442" fill-opacity="0.9"/>
<circle cx="401.5" cy="155.4" r="1.69" fill="#48e442" fill-opacity="0.9"/>
<circle cx="403.1" cy="156.2" r="1.14" fill="#48e442" fill-opacity="0.9"/>
<circle cx="403.0" cy="154.8" r="1.64" fill="#48e442" fill-opacity="0.9"/>
<circle cx="399.7" cy="155.5" r="1.54" fill="#48e442" fill-opacity="0.9"/>
<ellipse cx="347.3" cy="173.0" rx="3.60" ry="2.61" transform="rotate(53 347.3 173.0)" fill="#23a024" fill-opacity="0.55"/>
<circle cx="347.5" cy="172.7" r="1.73" fill="#48e442" fill-opacity="0.9"/>
<circle cx="347.4" cy="173.3" r="1.08" fill="#48e442" fill-opacity="0.9"/>
<circle cx="347.9" cy="170.4" r="1.33" fill="#48e442" fill-opacity="0.9"/>
<circle cx="346.9" cy="172.4" r="1.72" fill="#48e442" fill-opacity="0.9"/>
<circle cx="347.1" cy="172.6" r="1.05" fill="#48e442" fill-opacity="0.9"/>
<circle cx="347.3" cy="172.9" r="1.67" fill="#48e442" fill-opacity="0.9"/>
<ellipse cx="355.6" cy="182.2" rx="2.70" ry="1.97" transform="rotate(53 355.6 182.2)" fill="#23a024" fill-opacity="0.55"/>
<circle cx="355.0" cy="181.9" r="1.09" fill="#48e442" fill-opacity="0.9"/>
<circle cx="356.7" cy="183.8" r="0.94" fill="#48e442" fill-opacity="0.9"/>
<circle cx="355.8" cy="181.9" r="1.23" fill="#48e442" fill-opacity="0.9"/>
<circle cx="356.4" cy="182.1" r="0.77" fill="#48e442" fill-opacity="0.9"/>
<circle cx="354.6" cy="183.1" r="0.88" fill="#48e442" fill-opacity="0.9"/>
<circle cx="355.4" cy="182.1" r="1.03" fill="#48e442" fill-opacity="0.9"/>
<ellipse cx="369.4" cy="194.1" rx="3.60" ry="2.83" transform="rotate(131 369.4 194.1)" fill="#23a024" fill-opacity="0.55"/>
<circle cx="369.3" cy="193.8" r="1.66" fill="#48e442" fill-opacity="0.9"/>
<circle cx="371.3" cy="195.9" r="1.80" fill="#48e442" fill-opacity="0.9"/>
<circle cx="370.8" cy="193.6" r="1.23" fill="#48e442" fill-opacity="0.9"/>
<circle cx="368.2" cy="195.8" r="1.40" fill="#48e442" fill-opacity="0.9"/>
<circle cx="369.6" cy="194.0" r="1.39" fill="#48e442" fill-opacity="0.9"/>
<circle cx="370.5" cy="192.8" r="1.43" fill="#48e442" fill-opacity="0.9"/>
<ellipse cx="396.1" cy="195.1" rx="2.70" ry="1.90" transform="rotate(16 396.1 195.1)" fill="#23a024" fill-opacity="0.55"/>
<circle cx="395.9" cy="197.0" r="1.26" fill="#48e442" fill-opacity="0.9"/>
<circle cx="396.4" cy="197.0" r="0.77" fill="#48e442" fill-opacity="0.9"/>
<circle cx="394.4" cy="193.9" r="0.96" fill="#48e442" fill-opacity="0.9"/>
<circle cx="397.4" cy="194.6" r="0.78" fill="#48e442" fill-opacity="0.9"/>
<circle cx="395.6" cy="195.9" r="0.90" fill="#48e442" fill-opacity="0.9"/>
<circle cx="396.1" cy="194.7" r="1.22" fill="#48e442" fill-opacity="0.9"/>
<ellipse cx="346.4" cy="211.6" rx="2.70" ry="1.85" transform="rotate(54 346.4 211.6)" fill="#23a024" fill-opacity="0.55"/>
<circle cx="346.2" cy="211.5" r="1.08" fill="#48e442" fill-opacity="0.9"/>
<circle cx="346.7" cy="210.4" r="1.03" fill="#48e442" fill-opacity="0.9"/>
<circle cx="347.5" cy="211.8" r="0.81" fill="#48e442" fill-opacity="0.9"/>
<circle cx="346.2" cy="211.4" r="1.10" fill="#48e442" fill-opacity="0.9"/>
<circle cx="345.9" cy="212.2" r="1.15" fill="#48e442" fill-opacity="0.9"/>
<circle cx="346.6" cy="211.9" r="1.31" fill="#48e442" fill-opacity="0.9"/>
<circle cx="300.0" cy="168.0" r="1.50" fill="#1d6e1f" fill-opacity="0.8"/>
<circle cx="320.0" cy="140.0" r="1.50" fill="#1d6e1f" fill-opacity="0.8"/>
<circle cx="395.0" cy="125.0" r="1.50" fill="#1d6e1f" fill-opacity="0.8"/>
<circle cx="260.0" cy="180.0" r="1.50" fill="#1d6e1f" fill-opacity="0.8"/>
<circle cx="310.0" cy="115.0" r="1.50" fill="#1d6e1f" fill-opacity="0.8"/>
</g>
<rect x="240" y="49.8" width="75" height="25.900000000000006" fill="#fff" fill-opacity="0.64"/>
</g>
<text x="257.6" y="68.3" font-size="15.4" font-weight="bold" fill="#151515" stroke="#151515" stroke-width="0.25" textLength="39" lengthAdjust="spacingAndGlyphs">Day 1</text>
<path d="M249.2,206.20000000000002 V208.9 H341.79999999999995 V206.20000000000002 M295.5,208.9 v-1.6" stroke="#e9e5cf" stroke-width="0.9" fill="none"/>
<text x="249.2" y="203.9" font-size="5.5" font-weight="bold" fill="#e9e5cf" text-anchor="middle">0</text>
<text x="341.8" y="203.9" font-size="5.5" font-weight="bold" fill="#e9e5cf" text-anchor="middle">200</text>
<text x="295.5" y="206.1" font-size="5.5" font-weight="bold" fill="#e9e5cf" text-anchor="middle">&#956;m</text>
<text x="250.2" y="217.9" font-size="6.3" font-weight="bold" fill="#e9e5cf" stroke="#e9e5cf" stroke-width="0.15" textLength="66.5" lengthAdjust="spacingAndGlyphs">0.37 x 0.37 mm, 0.14 mm&#178;</text>
<clipPath id="c2"><rect x="432.7" y="49.4" width="173.55" height="175.2"/></clipPath>
<rect x="432.7" y="49.4" width="173.55" height="175.2" fill="#030403"/>
<g clip-path="url(#c2)"><g filter="url(#bl)">
<circle cx="449.0" cy="203.4" r="0.68" fill="#2a8a2a" fill-opacity="0.50"/>
<circle cx="525.7" cy="70.0" r="0.93" fill="#2a8a2a" fill-opacity="0.37"/>
<circle cx="525.6" cy="138.2" r="0.86" fill="#2a8a2a" fill-opacity="0.38"/>
<circle cx="502.8" cy="85.0" r="0.69" fill="#2a8a2a" fill-opacity="0.40"/>
<circle cx="584.0" cy="137.3" r="1.22" fill="#2a8a2a" fill-opacity="0.31"/>
<circle cx="596.4" cy="135.0" r="1.15" fill="#2a8a2a" fill-opacity="0.53"/>
<circle cx="552.3" cy="89.6" r="1.13" fill="#2a8a2a" fill-opacity="0.36"/>
<circle cx="478.5" cy="54.8" r="0.88" fill="#2a8a2a" fill-opacity="0.51"/>
<circle cx="483.4" cy="205.4" r="0.66" fill="#2a8a2a" fill-opacity="0.53"/>
<circle cx="473.3" cy="153.7" r="1.15" fill="#2a8a2a" fill-opacity="0.58"/>
<circle cx="443.5" cy="92.5" r="1.02" fill="#2a8a2a" fill-opacity="0.69"/>
<circle cx="439.9" cy="157.7" r="1.08" fill="#2a8a2a" fill-opacity="0.63"/>
<circle cx="492.1" cy="191.4" r="0.92" fill="#2a8a2a" fill-opacity="0.67"/>
<circle cx="434.6" cy="214.1" r="0.89" fill="#2a8a2a" fill-opacity="0.46"/>
<circle cx="448.0" cy="92.3" r="1.11" fill="#2a8a2a" fill-opacity="0.57"/>
<circle cx="458.9" cy="109.7" r="0.70" fill="#2a8a2a" fill-opacity="0.38"/>
<circle cx="470.8" cy="107.4" r="1.28" fill="#2a8a2a" fill-opacity="0.70"/>
<circle cx="570.1" cy="133.4" r="0.95" fill="#2a8a2a" fill-opacity="0.61"/>
<circle cx="590.3" cy="181.1" r="1.05" fill="#2a8a2a" fill-opacity="0.38"/>
<circle cx="541.2" cy="197.6" r="1.15" fill="#2a8a2a" fill-opacity="0.34"/>
<circle cx="557.2" cy="110.6" r="0.71" fill="#2a8a2a" fill-opacity="0.69"/>
<circle cx="549.5" cy="180.0" r="0.69" fill="#2a8a2a" fill-opacity="0.63"/>
<circle cx="595.3" cy="207.9" r="1.12" fill="#2a8a2a" fill-opacity="0.63"/>
<circle cx="571.9" cy="152.8" r="0.90" fill="#2a8a2a" fill-opacity="0.63"/>
<circle cx="568.8" cy="202.0" r="0.81" fill="#2a8a2a" fill-opacity="0.68"/>
<circle cx="525.0" cy="215.1" r="0.68" fill="#2a8a2a" fill-opacity="0.69"/>
<circle cx="569.4" cy="93.6" r="1.19" fill="#2a8a2a" fill-opacity="0.39"/>
<circle cx="467.1" cy="129.6" r="0.77" fill="#2a8a2a" fill-opacity="0.50"/>
<circle cx="590.3" cy="169.5" r="1.10" fill="#2a8a2a" fill-opacity="0.46"/>
<circle cx="568.7" cy="188.4" r="1.08" fill="#2a8a2a" fill-opacity="0.68"/>
<circle cx="576.0" cy="120.6" r="0.66" fill="#2a8a2a" fill-opacity="0.56"/>
<circle cx="577.8" cy="108.9" r="1.02" fill="#2a8a2a" fill-opacity="0.63"/>
<circle cx="570.3" cy="50.2" r="0.94" fill="#2a8a2a" fill-opacity="0.31"/>
<circle cx="451.9" cy="191.7" r="0.89" fill="#2a8a2a" fill-opacity="0.54"/>
<circle cx="512.1" cy="108.2" r="0.75" fill="#2a8a2a" fill-opacity="0.44"/>
<circle cx="579.3" cy="157.9" r="0.80" fill="#2a8a2a" fill-opacity="0.34"/>
<circle cx="479.7" cy="172.2" r="0.91" fill="#2a8a2a" fill-opacity="0.56"/>
<circle cx="572.8" cy="70.5" r="1.08" fill="#2a8a2a" fill-opacity="0.32"/>
<circle cx="575.5" cy="81.7" r="0.79" fill="#2a8a2a" fill-opacity="0.68"/>
<circle cx="495.6" cy="88.7" r="1.22" fill="#2a8a2a" fill-opacity="0.54"/>
<circle cx="587.8" cy="118.5" r="0.95" fill="#2a8a2a" fill-opacity="0.68"/>
<circle cx="520.6" cy="222.6" r="0.73" fill="#2a8a2a" fill-opacity="0.63"/>
<circle cx="460.9" cy="141.8" r="0.60" fill="#2a8a2a" fill-opacity="0.37"/>
<circle cx="596.7" cy="129.0" r="1.17" fill="#2a8a2a" fill-opacity="0.40"/>
<circle cx="493.8" cy="67.1" r="0.99" fill="#2a8a2a" fill-opacity="0.64"/>
<circle cx="521.9" cy="115.4" r="1.25" fill="#2a8a2a" fill-opacity="0.66"/>
<circle cx="548.3" cy="62.7" r="1.04" fill="#2a8a2a" fill-opacity="0.48"/>
<circle cx="598.9" cy="112.8" r="1.06" fill="#2a8a2a" fill-opacity="0.55"/>
<circle cx="497.9" cy="140.9" r="1.07" fill="#2a8a2a" fill-opacity="0.66"/>
<circle cx="519.1" cy="113.1" r="1.28" fill="#2a8a2a" fill-opacity="0.32"/>
<circle cx="577.6" cy="169.2" r="0.99" fill="#2a8a2a" fill-opacity="0.48"/>
<circle cx="563.0" cy="205.5" r="1.11" fill="#2a8a2a" fill-opacity="0.60"/>
<circle cx="438.8" cy="106.4" r="0.70" fill="#2a8a2a" fill-opacity="0.68"/>
<circle cx="587.4" cy="74.7" r="1.01" fill="#2a8a2a" fill-opacity="0.53"/>
<circle cx="440.8" cy="118.1" r="1.12" fill="#2a8a2a" fill-opacity="0.56"/>
<circle cx="481.4" cy="183.0" r="0.80" fill="#2a8a2a" fill-opacity="0.52"/>
<circle cx="505.7" cy="220.8" r="1.05" fill="#2a8a2a" fill-opacity="0.62"/>
<circle cx="550.1" cy="116.1" r="1.27" fill="#2a8a2a" fill-opacity="0.58"/>
<circle cx="552.6" cy="98.0" r="0.71" fill="#2a8a2a" fill-opacity="0.53"/>
<circle cx="576.0" cy="188.4" r="0.84" fill="#2a8a2a" fill-opacity="0.36"/>
<circle cx="522.3" cy="203.1" r="0.71" fill="#2a8a2a" fill-opacity="0.60"/>
<circle cx="462.3" cy="104.1" r="0.64" fill="#2a8a2a" fill-opacity="0.42"/>
<circle cx="499.2" cy="218.8" r="1.27" fill="#2a8a2a" fill-opacity="0.37"/>
<circle cx="486.4" cy="214.7" r="0.74" fill="#2a8a2a" fill-opacity="0.43"/>
<circle cx="508.8" cy="68.4" r="0.78" fill="#2a8a2a" fill-opacity="0.46"/>
<circle cx="499.6" cy="218.2" r="0.79" fill="#2a8a2a" fill-opacity="0.38"/>
<circle cx="590.4" cy="128.3" r="1.19" fill="#2a8a2a" fill-opacity="0.55"/>
<circle cx="567.8" cy="104.5" r="0.71" fill="#2a8a2a" fill-opacity="0.60"/>
<circle cx="514.3" cy="147.3" r="1.07" fill="#2a8a2a" fill-opacity="0.60"/>
<circle cx="480.5" cy="113.0" r="1.24" fill="#2a8a2a" fill-opacity="0.51"/>
<circle cx="482.7" cy="159.8" r="0.78" fill="#2a8a2a" fill-opacity="0.61"/>
<circle cx="439.9" cy="194.2" r="1.00" fill="#2a8a2a" fill-opacity="0.44"/>
<circle cx="595.8" cy="95.9" r="0.77" fill="#2a8a2a" fill-opacity="0.33"/>
<circle cx="527.9" cy="181.5" r="1.07" fill="#2a8a2a" fill-opacity="0.47"/>
<circle cx="572.9" cy="68.9" r="0.81" fill="#2a8a2a" fill-opacity="0.56"/>
<circle cx="600.6" cy="160.5" r="1.08" fill="#2a8a2a" fill-opacity="0.61"/>
<circle cx="501.2" cy="214.2" r="1.12" fill="#2a8a2a" fill-opacity="0.44"/>
<circle cx="500.8" cy="190.6" r="0.84" fill="#2a8a2a" fill-opacity="0.37"/>
<circle cx="584.0" cy="142.6" r="0.96" fill="#2a8a2a" fill-opacity="0.57"/>
<circle cx="589.2" cy="72.8" r="0.84" fill="#2a8a2a" fill-opacity="0.33"/>
<circle cx="504.4" cy="137.4" r="1.20" fill="#2a8a2a" fill-opacity="0.57"/>
<circle cx="533.0" cy="120.1" r="1.00" fill="#2a8a2a" fill-opacity="0.41"/>
<circle cx="579.3" cy="187.5" r="1.19" fill="#2a8a2a" fill-opacity="0.36"/>
<circle cx="549.2" cy="181.5" r="0.95" fill="#2a8a2a" fill-opacity="0.66"/>
<circle cx="588.7" cy="179.6" r="1.17" fill="#2a8a2a" fill-opacity="0.56"/>
<circle cx="585.2" cy="72.4" r="1.09" fill="#2a8a2a" fill-opacity="0.58"/>
<circle cx="539.0" cy="97.6" r="0.65" fill="#2a8a2a" fill-opacity="0.54"/>
<circle cx="575.7" cy="97.2" r="0.75" fill="#2a8a2a" fill-opacity="0.39"/>
<circle cx="449.0" cy="167.8" r="1.28" fill="#2a8a2a" fill-opacity="0.62"/>
<circle cx="495.1" cy="171.9" r="0.65" fill="#2a8a2a" fill-opacity="0.64"/>
<circle cx="489.1" cy="50.0" r="1.04" fill="#2a8a2a" fill-opacity="0.36"/>
<circle cx="480.4" cy="59.8" r="0.91" fill="#2a8a2a" fill-opacity="0.52"/>
<circle cx="572.8" cy="56.3" r="1.18" fill="#2a8a2a" fill-opacity="0.34"/>
<circle cx="471.7" cy="159.7" r="0.84" fill="#2a8a2a" fill-opacity="0.43"/>
<circle cx="531.4" cy="87.6" r="1.16" fill="#2a8a2a" fill-opacity="0.38"/>
<circle cx="578.4" cy="191.1" r="0.98" fill="#2a8a2a" fill-opacity="0.31"/>
<circle cx="567.7" cy="54.4" r="0.95" fill="#2a8a2a" fill-opacity="0.47"/>
<circle cx="443.6" cy="159.8" r="1.11" fill="#2a8a2a" fill-opacity="0.53"/>
<circle cx="502.1" cy="139.1" r="1.01" fill="#2a8a2a" fill-opacity="0.39"/>
<circle cx="583.3" cy="223.8" r="1.16" fill="#2a8a2a" fill-opacity="0.68"/>
<circle cx="489.9" cy="222.2" r="0.65" fill="#2a8a2a" fill-opacity="0.49"/>
<circle cx="455.9" cy="128.9" r="1.08" fill="#2a8a2a" fill-opacity="0.58"/>
<circle cx="511.6" cy="109.3" r="0.73" fill="#2a8a2a" fill-opacity="0.46"/>
<circle cx="481.7" cy="83.4" r="1.12" fill="#2a8a2a" fill-opacity="0.51"/>
<circle cx="508.8" cy="84.0" r="1.09" fill="#2a8a2a" fill-opacity="0.38"/>
<circle cx="478.8" cy="147.6" r="1.09" fill="#2a8a2a" fill-opacity="0.69"/>
<circle cx="562.5" cy="215.5" r="1.24" fill="#2a8a2a" fill-opacity="0.59"/>
<circle cx="557.6" cy="60.4" r="0.74" fill="#2a8a2a" fill-opacity="0.31"/>
<circle cx="582.6" cy="175.9" r="1.04" fill="#2a8a2a" fill-opacity="0.41"/>
<circle cx="494.4" cy="78.1" r="1.04" fill="#2a8a2a" fill-opacity="0.70"/>
<circle cx="485.8" cy="57.2" r="0.72" fill="#2a8a2a" fill-opacity="0.44"/>
<circle cx="588.7" cy="190.3" r="0.92" fill="#2a8a2a" fill-opacity="0.34"/>
<circle cx="451.2" cy="76.4" r="1.14" fill="#2a8a2a" fill-opacity="0.49"/>
<circle cx="604.6" cy="209.1" r="1.16" fill="#2a8a2a" fill-opacity="0.49"/>
<circle cx="575.3" cy="71.9" r="0.68" fill="#2a8a2a" fill-opacity="0.53"/>
<circle cx="520.9" cy="86.1" r="0.78" fill="#2a8a2a" fill-opacity="0.31"/>
<circle cx="590.4" cy="173.8" r="1.26" fill="#2a8a2a" fill-opacity="0.69"/>
<circle cx="508.5" cy="177.7" r="0.87" fill="#2a8a2a" fill-opacity="0.62"/>
<circle cx="578.7" cy="72.8" r="0.61" fill="#2a8a2a" fill-opacity="0.39"/>
<circle cx="534.3" cy="115.8" r="0.61" fill="#2a8a2a" fill-opacity="0.63"/>
<circle cx="569.1" cy="130.6" r="0.63" fill="#2a8a2a" fill-opacity="0.66"/>
<circle cx="525.4" cy="61.8" r="0.83" fill="#2a8a2a" fill-opacity="0.55"/>
<circle cx="586.3" cy="134.3" r="1.05" fill="#2a8a2a" fill-opacity="0.38"/>
<circle cx="474.9" cy="208.1" r="0.87" fill="#2a8a2a" fill-opacity="0.34"/>
<circle cx="535.3" cy="71.5" r="0.74" fill="#2a8a2a" fill-opacity="0.48"/>
<circle cx="534.3" cy="160.9" r="1.09" fill="#2a8a2a" fill-opacity="0.48"/>
<circle cx="444.4" cy="176.3" r="0.64" fill="#2a8a2a" fill-opacity="0.49"/>
<circle cx="502.2" cy="167.3" r="1.10" fill="#2a8a2a" fill-opacity="0.40"/>
<circle cx="545.4" cy="170.6" r="0.93" fill="#2a8a2a" fill-opacity="0.36"/>
<circle cx="590.5" cy="154.4" r="0.64" fill="#2a8a2a" fill-opacity="0.40"/>
<circle cx="604.0" cy="89.5" r="0.87" fill="#2a8a2a" fill-opacity="0.62"/>
<circle cx="575.7" cy="160.5" r="1.12" fill="#2a8a2a" fill-opacity="0.32"/>
<circle cx="449.0" cy="220.4" r="1.16" fill="#2a8a2a" fill-opacity="0.32"/>
<circle cx="441.1" cy="91.5" r="1.25" fill="#2a8a2a" fill-opacity="0.39"/>
<circle cx="549.3" cy="212.4" r="1.05" fill="#2a8a2a" fill-opacity="0.67"/>
<circle cx="478.3" cy="76.3" r="0.61" fill="#2a8a2a" fill-opacity="0.60"/>
<circle cx="450.7" cy="219.9" r="1.10" fill="#2a8a2a" fill-opacity="0.37"/>
<circle cx="572.8" cy="77.9" r="0.96" fill="#2a8a2a" fill-opacity="0.34"/>
<circle cx="569.3" cy="205.3" r="1.24" fill="#2a8a2a" fill-opacity="0.30"/>
<circle cx="580.5" cy="146.8" r="1.17" fill="#2a8a2a" fill-opacity="0.50"/>
<circle cx="540.3" cy="153.6" r="1.16" fill="#2a8a2a" fill-opacity="0.33"/>
<circle cx="442.1" cy="145.0" r="0.80" fill="#2a8a2a" fill-opacity="0.46"/>
<circle cx="434.0" cy="179.9" r="0.62" fill="#2a8a2a" fill-opacity="0.63"/>
<circle cx="573.5" cy="129.6" r="0.69" fill="#2a8a2a" fill-opacity="0.56"/>
<circle cx="468.6" cy="124.6" r="0.68" fill="#2a8a2a" fill-opacity="0.69"/>
<circle cx="527.5" cy="111.2" r="0.67" fill="#2a8a2a" fill-opacity="0.59"/>
<circle cx="580.2" cy="198.0" r="0.67" fill="#2a8a2a" fill-opacity="0.45"/>
<circle cx="485.2" cy="183.0" r="0.70" fill="#2a8a2a" fill-opacity="0.54"/>
<circle cx="602.5" cy="184.1" r="0.60" fill="#2a8a2a" fill-opacity="0.33"/>
<circle cx="452.4" cy="170.7" r="1.02" fill="#2a8a2a" fill-opacity="0.51"/>
<circle cx="511.8" cy="120.8" r="1.03" fill="#2a8a2a" fill-opacity="0.56"/>
<circle cx="591.7" cy="177.8" r="1.16" fill="#2a8a2a" fill-opacity="0.67"/>
<circle cx="578.0" cy="175.0" r="0.62" fill="#2a8a2a" fill-opacity="0.57"/>
<circle cx="580.2" cy="124.9" r="1.21" fill="#2a8a2a" fill-opacity="0.37"/>
<circle cx="596.3" cy="126.8" r="1.09" fill="#2a8a2a" fill-opacity="0.40"/>
<circle cx="484.9" cy="110.5" r="0.83" fill="#2a8a2a" fill-opacity="0.34"/>
<circle cx="509.6" cy="221.2" r="1.06" fill="#2a8a2a" fill-opacity="0.67"/>
<circle cx="565.0" cy="196.0" r="1.30" fill="#2a8a2a" fill-opacity="0.60"/>
<circle cx="480.3" cy="93.2" r="0.89" fill="#2a8a2a" fill-opacity="0.31"/>
<circle cx="472.8" cy="204.7" r="1.24" fill="#2a8a2a" fill-opacity="0.43"/>
<circle cx="566.4" cy="185.2" r="1.22" fill="#2a8a2a" fill-opacity="0.62"/>
<circle cx="525.0" cy="67.8" r="1.18" fill="#2a8a2a" fill-opacity="0.43"/>
<circle cx="541.5" cy="113.7" r="0.98" fill="#2a8a2a" fill-opacity="0.69"/>
<circle cx="460.7" cy="142.4" r="1.05" fill="#2a8a2a" fill-opacity="0.52"/>
<circle cx="595.5" cy="120.8" r="1.24" fill="#2a8a2a" fill-opacity="0.58"/>
<circle cx="600.6" cy="65.1" r="0.75" fill="#2a8a2a" fill-opacity="0.41"/>
<circle cx="590.0" cy="51.8" r="0.78" fill="#2a8a2a" fill-opacity="0.59"/>
<circle cx="604.5" cy="80.3" r="0.91" fill="#2a8a2a" fill-opacity="0.57"/>
<circle cx="552.6" cy="180.1" r="1.13" fill="#2a8a2a" fill-opacity="0.40"/>
<circle cx="477.3" cy="54.2" r="1.08" fill="#2a8a2a" fill-opacity="0.38"/>
<circle cx="508.7" cy="106.3" r="1.09" fill="#4ae244" fill-opacity="0.9"/>
<circle cx="501.4" cy="89.4" r="1.06" fill="#4ae244" fill-opacity="0.9"/>
<circle cx="507.0" cy="88.0" r="0.74" fill="#4ae244" fill-opacity="0.9"/>
<circle cx="513.9" cy="96.6" r="0.92" fill="#4ae244" fill-opacity="0.9"/>
<circle cx="512.9" cy="99.0" r="1.00" fill="#4ae244" fill-opacity="0.9"/>
<circle cx="519.0" cy="92.7" r="0.86" fill="#4ae244" fill-opacity="0.9"/>
<circle cx="510.1" cy="88.6" r="0.76" fill="#4ae244" fill-opacity="0.9"/>
<circle cx="506.9" cy="101.9" r="1.11" fill="#4ae244" fill-opacity="0.9"/>
<circle cx="500.0" cy="98.0" r="0.76" fill="#4ae244" fill-opacity="0.9"/>
<circle cx="516.0" cy="91.6" r="1.20" fill="#4ae244" fill-opacity="0.9"/>
<circle cx="520.0" cy="96.7" r="0.84" fill="#4ae244" fill-opacity="0.9"/>
<circle cx="495.5" cy="92.6" r="1.10" fill="#4ae244" fill-opacity="0.9"/>
<circle cx="490.6" cy="101.4" r="0.81" fill="#4ae244" fill-opacity="0.9"/>
<circle cx="494.5" cy="96.0" r="1.10" fill="#4ae244" fill-opacity="0.9"/>
<circle cx="485.8" cy="94.9" r="0.81" fill="#4ae244" fill-opacity="0.9"/>
<circle cx="493.5" cy="101.1" r="1.29" fill="#4ae244" fill-opacity="0.9"/>
<circle cx="486.5" cy="102.4" r="1.04" fill="#4ae244" fill-opacity="0.9"/>
<circle cx="491.8" cy="101.7" r="0.71" fill="#4ae244" fill-opacity="0.9"/>
<circle cx="493.5" cy="95.1" r="1.28" fill="#4ae244" fill-opacity="0.9"/>
<circle cx="486.8" cy="103.2" r="0.78" fill="#4ae244" fill-opacity="0.9"/>
<circle cx="492.2" cy="93.9" r="0.92" fill="#4ae244" fill-opacity="0.9"/>
<circle cx="487.5" cy="97.7" r="0.85" fill="#4ae244" fill-opacity="0.9"/>
<circle cx="501.4" cy="108.1" r="0.93" fill="#4ae244" fill-opacity="0.9"/>
<circle cx="500.6" cy="108.2" r="0.82" fill="#4ae244" fill-opacity="0.9"/>
<circle cx="501.2" cy="116.2" r="0.92" fill="#4ae244" fill-opacity="0.9"/>
<circle cx="497.3" cy="108.2" r="1.22" fill="#4ae244" fill-opacity="0.9"/>
<circle cx="505.6" cy="113.6" r="1.20" fill="#4ae244" fill-opacity="0.9"/>
<circle cx="500.6" cy="114.8" r="0.96" fill="#4ae244" fill-opacity="0.9"/>
<circle cx="503.8" cy="115.0" r="1.13" fill="#4ae244" fill-opacity="0.9"/>
<circle cx="503.0" cy="113.7" r="0.99" fill="#4ae244" fill-opacity="0.9"/>
<circle cx="502.0" cy="115.2" r="0.96" fill="#4ae244" fill-opacity="0.9"/>
<circle cx="502.6" cy="114.0" r="0.92" fill="#4ae244" fill-opacity="0.9"/>
<circle cx="493.7" cy="113.2" r="1.03" fill="#4ae244" fill-opacity="0.9"/>
<circle cx="477.0" cy="115.6" r="1.15" fill="#4ae244" fill-opacity="0.9"/>
<circle cx="461.0" cy="108.5" r="1.28" fill="#4ae244" fill-opacity="0.9"/>
<circle cx="474.7" cy="108.4" r="1.27" fill="#4ae244" fill-opacity="0.9"/>
<circle cx="464.8" cy="111.8" r="0.80" fill="#4ae244" fill-opacity="0.9"/>
<circle cx="475.4" cy="108.0" r="0.75" fill="#4ae244" fill-opacity="0.9"/>
<circle cx="470.1" cy="124.2" r="0.98" fill="#4ae244" fill-opacity="0.9"/>
<circle cx="470.6" cy="107.5" r="0.97" fill="#4ae244" fill-opacity="0.9"/>
<circle cx="468.6" cy="118.5" r="1.10" fill="#4ae244" fill-opacity="0.9"/>
<circle cx="467.6" cy="117.1" r="1.29" fill="#4ae244" fill-opacity="0.9"/>
<circle cx="465.1" cy="113.5" r="0.71" fill="#4ae244" fill-opacity="0.9"/>
<circle cx="466.3" cy="105.8" r="0.71" fill="#4ae244" fill-opacity="0.9"/>
<circle cx="436.2" cy="112.8" r="1.02" fill="#4ae244" fill-opacity="0.9"/>
<circle cx="441.6" cy="116.1" r="1.06" fill="#4ae244" fill-opacity="0.9"/>
<circle cx="439.5" cy="109.5" r="1.18" fill="#4ae244" fill-opacity="0.9"/>
<circle cx="446.0" cy="110.2" r="1.21" fill="#4ae244" fill-opacity="0.9"/>
<circle cx="437.4" cy="116.1" r="0.81" fill="#4ae244" fill-opacity="0.9"/>
<circle cx="441.9" cy="116.4" r="1.24" fill="#4ae244" fill-opacity="0.9"/>
<circle cx="444.0" cy="113.5" r="0.72" fill="#4ae244" fill-opacity="0.9"/>
<circle cx="438.5" cy="113.0" r="0.81" fill="#4ae244" fill-opacity="0.9"/>
<circle cx="441.2" cy="107.4" r="1.26" fill="#4ae244" fill-opacity="0.9"/>
<circle cx="437.2" cy="114.7" r="0.71" fill="#4ae244" fill-opacity="0.9"/>
<circle cx="444.3" cy="110.9" r="0.99" fill="#4ae244" fill-opacity="0.9"/>
<circle cx="428.9" cy="84.0" r="1.00" fill="#4ae244" fill-opacity="0.9"/>
<circle cx="442.8" cy="84.3" r="0.83" fill="#4ae244" fill-opacity="0.9"/>
<circle cx="438.7" cy="81.0" r="1.30" fill="#4ae244" fill-opacity="0.9"/>
<circle cx="432.5" cy="85.8" r="1.28" fill="#4ae244" fill-opacity="0.9"/>
<circle cx="434.4" cy="89.2" r="0.91" fill="#4ae244" fill-opacity="0.9"/>
<circle cx="435.0" cy="81.7" r="0.92" fill="#4ae244" fill-opacity="0.9"/>
<circle cx="440.4" cy="90.7" r="0.70" fill="#4ae244" fill-opacity="0.9"/>
<circle cx="433.1" cy="81.8" r="0.97" fill="#4ae244" fill-opacity="0.9"/>
<circle cx="430.5" cy="82.1" r="0.78" fill="#4ae244" fill-opacity="0.9"/>
<circle cx="436.8" cy="88.4" r="1.28" fill="#4ae244" fill-opacity="0.9"/>
<circle cx="438.9" cy="87.7" r="1.01" fill="#4ae244" fill-opacity="0.9"/>
<circle cx="451.8" cy="76.4" r="0.73" fill="#4ae244" fill-opacity="0.9"/>
<circle cx="457.0" cy="82.1" r="1.05" fill="#4ae244" fill-opacity="0.9"/>
<circle cx="453.0" cy="80.2" r="1.23" fill="#4ae244" fill-opacity="0.9"/>
<circle cx="453.8" cy="74.4" r="1.27" fill="#4ae244" fill-opacity="0.9"/>
<circle cx="456.0" cy="84.9" r="0.94" fill="#4ae244" fill-opacity="0.9"/>
<circle cx="462.1" cy="80.9" r="0.76" fill="#4ae244" fill-opacity="0.9"/>
<circle cx="460.1" cy="79.5" r="0.87" fill="#4ae244" fill-opacity="0.9"/>
<circle cx="462.1" cy="78.0" r="0.95" fill="#4ae244" fill-opacity="0.9"/>
<circle cx="451.3" cy="78.1" r="1.18" fill="#4ae244" fill-opacity="0.9"/>
<circle cx="454.3" cy="75.6" r="0.77" fill="#4ae244" fill-opacity="0.9"/>
<circle cx="456.9" cy="83.9" r="1.05" fill="#4ae244" fill-opacity="0.9"/>
<circle cx="452.1" cy="80.2" r="1.28" fill="#4ae244" fill-opacity="0.9"/>
<circle cx="451.2" cy="88.0" r="1.24" fill="#4ae244" fill-opacity="0.9"/>
<circle cx="447.5" cy="84.2" r="1.12" fill="#4ae244" fill-opacity="0.9"/>
<circle cx="450.2" cy="88.7" r="0.92" fill="#4ae244" fill-opacity="0.9"/>
<circle cx="445.5" cy="84.8" r="0.74" fill="#4ae244" fill-opacity="0.9"/>
<circle cx="450.0" cy="80.9" r="0.98" fill="#4ae244" fill-opacity="0.9"/>
<circle cx="447.8" cy="80.8" r="0.71" fill="#4ae244" fill-opacity="0.9"/>
<circle cx="445.5" cy="86.2" r="1.13" fill="#4ae244" fill-opacity="0.9"/>
<circle cx="448.5" cy="83.1" r="1.28" fill="#4ae244" fill-opacity="0.9"/>
<circle cx="451.0" cy="82.3" r="0.96" fill="#4ae244" fill-opacity="0.9"/>
<circle cx="453.3" cy="84.7" r="0.95" fill="#4ae244" fill-opacity="0.9"/>
<circle cx="507.7" cy="87.8" r="0.84" fill="#4ae244" fill-opacity="0.9"/>
<circle cx="501.9" cy="85.4" r="1.10" fill="#4ae244" fill-opacity="0.9"/>
<circle cx="502.5" cy="86.3" r="0.83" fill="#4ae244" fill-opacity="0.9"/>
<circle cx="502.9" cy="92.4" r="0.72" fill="#4ae244" fill-opacity="0.9"/>
<circle cx="504.7" cy="92.0" r="0.95" fill="#4ae244" fill-opacity="0.9"/>
<circle cx="506.2" cy="91.2" r="1.27" fill="#4ae244" fill-opacity="0.9"/>
<circle cx="498.9" cy="87.4" r="1.12" fill="#4ae244" fill-opacity="0.9"/>
<circle cx="499.4" cy="90.3" r="0.99" fill="#4ae244" fill-opacity="0.9"/>
<circle cx="507.0" cy="89.6" r="0.80" fill="#4ae244" fill-opacity="0.9"/>
<circle cx="498.2" cy="93.4" r="1.16" fill="#4ae244" fill-opacity="0.9"/>
<circle cx="504.6" cy="85.1" r="1.08" fill="#4ae244" fill-opacity="0.9"/>
<circle cx="512.7" cy="116.2" r="0.82" fill="#4ae244" fill-opacity="0.9"/>
<circle cx="515.4" cy="119.1" r="0.85" fill="#4ae244" fill-opacity="0.9"/>
<circle cx="517.5" cy="118.2" r="1.21" fill="#4ae244" fill-opacity="0.9"/>
<circle cx="519.2" cy="119.4" r="0.82" fill="#4ae244" fill-opacity="0.9"/>
<circle cx="520.6" cy="124.2" r="1.14" fill="#4ae244" fill-opacity="0.9"/>
<circle cx="514.4" cy="127.2" r="0.70" fill="#4ae244" fill-opacity="0.9"/>
<circle cx="517.9" cy="129.5" r="0.70" fill="#4ae244" fill-opacity="0.9"/>
<circle cx="515.5" cy="128.1" r="1.13" fill="#4ae244" fill-opacity="0.9"/>
<circle cx="518.2" cy="123.4" r="0.77" fill="#4ae244" fill-opacity="0.9"/>
<circle cx="522.1" cy="120.6" r="0.79" fill="#4ae244" fill-opacity="0.9"/>
<circle cx="512.0" cy="128.6" r="0.89" fill="#4ae244" fill-opacity="0.9"/>
<circle cx="447.0" cy="136.2" r="0.86" fill="#4ae244" fill-opacity="0.9"/>
<circle cx="457.2" cy="134.3" r="0.80" fill="#4ae244" fill-opacity="0.9"/>
<circle cx="459.5" cy="137.0" r="1.12" fill="#4ae244" fill-opacity="0.9"/>
<circle cx="452.3" cy="141.5" r="1.14" fill="#4ae244" fill-opacity="0.9"/>
<circle cx="449.2" cy="138.6" r="0.81" fill="#4ae244" fill-opacity="0.9"/>
<circle cx="459.6" cy="129.6" r="0.73" fill="#4ae244" fill-opacity="0.9"/>
<circle cx="457.6" cy="139.5" r="0.93" fill="#4ae244" fill-opacity="0.9"/>
<circle cx="451.9" cy="127.5" r="1.18" fill="#4ae244" fill-opacity="0.9"/>
<circle cx="454.5" cy="128.5" r="1.05" fill="#4ae244" fill-opacity="0.9"/>
<circle cx="456.0" cy="140.5" r="1.18" fill="#4ae244" fill-opacity="0.9"/>
<circle cx="454.4" cy="127.6" r="0.76" fill="#4ae244" fill-opacity="0.9"/>
<circle cx="482.6" cy="116.3" r="0.78" fill="#4ae244" fill-opacity="0.9"/>
<circle cx="486.5" cy="124.3" r="0.76" fill="#4ae244" fill-opacity="0.9"/>
<circle cx="482.7" cy="117.7" r="0.86" fill="#4ae244" fill-opacity="0.9"/>
<circle cx="481.1" cy="122.1" r="1.13" fill="#4ae244" fill-opacity="0.9"/>
<circle cx="489.8" cy="121.1" r="0.83" fill="#4ae244" fill-opacity="0.9"/>
<circle cx="483.7" cy="124.6" r="1.11" fill="#4ae244" fill-opacity="0.9"/>
<circle cx="480.7" cy="116.4" r="0.82" fill="#4ae244" fill-opacity="0.9"/>
<circle cx="483.1" cy="124.5" r="0.86" fill="#4ae244" fill-opacity="0.9"/>
<circle cx="486.7" cy="122.8" r="1.16" fill="#4ae244" fill-opacity="0.9"/>
<circle cx="487.2" cy="115.7" r="1.28" fill="#4ae244" fill-opacity="0.9"/>
<circle cx="485.9" cy="116.7" r="0.89" fill="#4ae244" fill-opacity="0.9"/>
<circle cx="492.3" cy="57.5" r="1.07" fill="#4ae244" fill-opacity="0.9"/>
<circle cx="496.7" cy="64.1" r="1.01" fill="#4ae244" fill-opacity="0.9"/>
<circle cx="498.7" cy="69.6" r="1.23" fill="#4ae244" fill-opacity="0.9"/>
<circle cx="488.1" cy="63.0" r="0.77" fill="#4ae244" fill-opacity="0.9"/>
<circle cx="486.0" cy="61.5" r="0.92" fill="#4ae244" fill-opacity="0.9"/>
<circle cx="491.6" cy="54.8" r="1.17" fill="#4ae244" fill-opacity="0.9"/>
<circle cx="496.6" cy="64.5" r="0.93" fill="#4ae244" fill-opacity="0.9"/>
<circle cx="487.6" cy="62.4" r="1.10" fill="#4ae244" fill-opacity="0.9"/>
<circle cx="494.1" cy="67.6" r="0.99" fill="#4ae244" fill-opacity="0.9"/>
<circle cx="491.1" cy="53.4" r="0.92" fill="#4ae244" fill-opacity="0.9"/>
<circle cx="484.1" cy="64.9" r="1.26" fill="#4ae244" fill-opacity="0.9"/>
<circle cx="477.6" cy="56.6" r="0.97" fill="#4ae244" fill-opacity="0.9"/>
<circle cx="477.3" cy="55.7" r="0.72" fill="#4ae244" fill-opacity="0.9"/>
<circle cx="487.8" cy="58.2" r="0.78" fill="#4ae244" fill-opacity="0.9"/>
<circle cx="474.3" cy="60.4" r="0.88" fill="#4ae244" fill-opacity="0.9"/>
<circle cx="486.5" cy="61.9" r="1.16" fill="#4ae244" fill-opacity="0.9"/>
<circle cx="477.0" cy="60.5" r="0.94" fill="#4ae244" fill-opacity="0.9"/>
<circle cx="486.8" cy="63.5" r="0.73" fill="#4ae244" fill-opacity="0.9"/>
<circle cx="478.7" cy="65.8" r="0.78" fill="#4ae244" fill-opacity="0.9"/>
<circle cx="483.1" cy="61.3" r="0.80" fill="#4ae244" fill-opacity="0.9"/>
<circle cx="473.2" cy="57.7" r="0.80" fill="#4ae244" fill-opacity="0.9"/>
<circle cx="483.5" cy="65.2" r="0.96" fill="#4ae244" fill-opacity="0.9"/>
<circle cx="511.6" cy="65.1" r="0.85" fill="#4ae244" fill-opacity="0.9"/>
<circle cx="515.9" cy="62.2" r="0.86" fill="#4ae244" fill-opacity="0.9"/>
<circle cx="512.8" cy="57.1" r="1.24" fill="#4ae244" fill-opacity="0.9"/>
<circle cx="507.3" cy="63.7" r="1.06" fill="#4ae244" fill-opacity="0.9"/>
<circle cx="512.1" cy="66.7" r="1.13" fill="#4ae244" fill-opacity="0.9"/>
<circle cx="512.8" cy="59.8" r="0.82" fill="#4ae244" fill-opacity="0.9"/>
<circle cx="515.8" cy="62.0" r="1.19" fill="#4ae244" fill-opacity="0.9"/>
<circle cx="511.4" cy="65.5" r="0.85" fill="#4ae244" fill-opacity="0.9"/>
<circle cx="507.2" cy="63.8" r="0.79" fill="#4ae244" fill-opacity="0.9"/>
<circle cx="515.3" cy="59.9" r="0.80" fill="#4ae244" fill-opacity="0.9"/>
<circle cx="513.0" cy="59.1" r="0.81" fill="#4ae244" fill-opacity="0.9"/>
<circle cx="435.3" cy="57.6" r="1.22" fill="#4ae244" fill-opacity="0.9"/>
<circle cx="437.8" cy="53.9" r="1.16" fill="#4ae244" fill-opacity="0.9"/>
<circle cx="435.6" cy="51.5" r="1.27" fill="#4ae244" fill-opacity="0.9"/>
<circle cx="437.5" cy="59.8" r="1.19" fill="#4ae244" fill-opacity="0.9"/>
<circle cx="439.6" cy="58.7" r="0.92" fill="#4ae244" fill-opacity="0.9"/>
<circle cx="437.7" cy="58.0" r="0.77" fill="#4ae244" fill-opacity="0.9"/>
<circle cx="440.8" cy="60.6" r="0.95" fill="#4ae244" fill-opacity="0.9"/>
<circle cx="436.3" cy="50.8" r="1.15" fill="#4ae244" fill-opacity="0.9"/>
<circle cx="440.2" cy="60.7" r="1.18" fill="#4ae244" fill-opacity="0.9"/>
<circle cx="445.0" cy="54.7" r="1.15" fill="#4ae244" fill-opacity="0.9"/>
<circle cx="441.3" cy="51.9" r="1.09" fill="#4ae244" fill-opacity="0.9"/>
<circle cx="557.4" cy="56.7" r="0.78" fill="#4ae244" fill-opacity="0.9"/>
<circle cx="558.0" cy="50.6" r="1.19" fill="#4ae244" fill-opacity="0.9"/>
<circle cx="558.6" cy="57.8" r="1.21" fill="#4ae244" fill-opacity="0.9"/>
<circle cx="565.5" cy="49.1" r="1.26" fill="#4ae244" fill-opacity="0.9"/>
<circle cx="562.5" cy="45.4" r="1.09" fill="#4ae244" fill-opacity="0.9"/>
<circle cx="569.7" cy="54.0" r="1.03" fill="#4ae244" fill-opacity="0.9"/>
<circle cx="558.1" cy="53.1" r="1.17" fill="#4ae244" fill-opacity="0.9"/>
<circle cx="564.2" cy="44.6" r="0.83" fill="#4ae244" fill-opacity="0.9"/>
<circle cx="560.3" cy="55.5" r="0.76" fill="#4ae244" fill-opacity="0.9"/>
<circle cx="561.2" cy="54.7" r="1.18" fill="#4ae244" fill-opacity="0.9"/>
<circle cx="563.2" cy="55.3" r="0.74" fill="#4ae244" fill-opacity="0.9"/>
<circle cx="581.5" cy="52.1" r="0.98" fill="#4ae244" fill-opacity="0.9"/>
<circle cx="574.6" cy="62.4" r="1.27" fill="#4ae244" fill-opacity="0.9"/>
<circle cx="578.9" cy="64.5" r="1.24" fill="#4ae244" fill-opacity="0.9"/>
<circle cx="572.6" cy="59.0" r="1.14" fill="#4ae244" fill-opacity="0.9"/>
<circle cx="578.3" cy="65.9" r="1.04" fill="#4ae244" fill-opacity="0.9"/>
<circle cx="587.7" cy="61.9" r="1.20" fill="#4ae244" fill-opacity="0.9"/>
<circle cx="574.9" cy="56.5" r="0.95" fill="#4ae244" fill-opacity="0.9"/>
<circle cx="587.6" cy="51.8" r="0.82" fill="#4ae244" fill-opacity="0.9"/>
<circle cx="577.8" cy="62.0" r="1.28" fill="#4ae244" fill-opacity="0.9"/>
<circle cx="580.2" cy="52.8" r="1.25" fill="#4ae244" fill-opacity="0.9"/>
<circle cx="589.2" cy="58.9" r="0.96" fill="#4ae244" fill-opacity="0.9"/>
<circle cx="522.9" cy="71.4" r="0.76" fill="#4ae244" fill-opacity="0.9"/>
<circle cx="513.9" cy="77.5" r="1.17" fill="#4ae244" fill-opacity="0.9"/>
<circle cx="520.5" cy="84.1" r="1.15" fill="#4ae244" fill-opacity="0.9"/>
<circle cx="526.5" cy="73.1" r="1.23" fill="#4ae244" fill-opacity="0.9"/>
<circle cx="532.4" cy="78.7" r="0.93" fill="#4ae244" fill-opacity="0.9"/>
<circle cx="521.6" cy="68.0" r="0.82" fill="#4ae244" fill-opacity="0.9"/>
<circle cx="522.2" cy="85.9" r="1.14" fill="#4ae244" fill-opacity="0.9"/>
<circle cx="527.9" cy="87.2" r="1.00" fill="#4ae244" fill-opacity="0.9"/>
<circle cx="521.6" cy="74.0" r="1.27" fill="#4ae244" fill-opacity="0.9"/>
<circle cx="533.3" cy="79.1" r="1.18" fill="#4ae244" fill-opacity="0.9"/>
<circle cx="529.1" cy="89.5" r="1.03" fill="#4ae244" fill-opacity="0.9"/>
<circle cx="530.4" cy="88.1" r="0.92" fill="#4ae244" fill-opacity="0.9"/>
<circle cx="534.6" cy="94.9" r="0.71" fill="#4ae244" fill-opacity="0.9"/>
<circle cx="520.5" cy="97.2" r="1.24" fill="#4ae244" fill-opacity="0.9"/>
<circle cx="536.7" cy="95.3" r="1.26" fill="#4ae244" fill-opacity="0.9"/>
<circle cx="525.4" cy="95.5" r="1.08" fill="#4ae244" fill-opacity="0.9"/>
<circle cx="532.1" cy="91.1" r="1.06" fill="#4ae244" fill-opacity="0.9"/>
<circle cx="529.6" cy="102.9" r="0.95" fill="#4ae244" fill-opacity="0.9"/>
<circle cx="523.1" cy="96.7" r="0.76" fill="#4ae244" fill-opacity="0.9"/>
<circle cx="535.9" cy="97.5" r="1.13" fill="#4ae244" fill-opacity="0.9"/>
<circle cx="529.8" cy="91.9" r="0.85" fill="#4ae244" fill-opacity="0.9"/>
<circle cx="524.9" cy="96.8" r="1.06" fill="#4ae244" fill-opacity="0.9"/>
<circle cx="525.2" cy="92.8" r="1.05" fill="#4ae244" fill-opacity="0.9"/>
<circle cx="521.7" cy="89.6" r="1.13" fill="#4ae244" fill-opacity="0.9"/>
<circle cx="521.8" cy="91.3" r="1.20" fill="#4ae244" fill-opacity="0.9"/>
<circle cx="524.9" cy="93.4" r="1.27" fill="#4ae244" fill-opacity="0.9"/>
<circle cx="520.1" cy="95.6" r="0.74" fill="#4ae244" fill-opacity="0.9"/>
<circle cx="524.0" cy="90.0" r="0.79" fill="#4ae244" fill-opacity="0.9"/>
<circle cx="518.0" cy="95.8" r="1.30" fill="#4ae244" fill-opacity="0.9"/>
<circle cx="519.9" cy="99.0" r="0.85" fill="#4ae244" fill-opacity="0.9"/>
<circle cx="523.5" cy="97.4" r="0.95" fill="#4ae244" fill-opacity="0.9"/>
<circle cx="520.0" cy="92.2" r="0.80" fill="#4ae244" fill-opacity="0.9"/>
<circle cx="523.1" cy="97.3" r="0.82" fill="#4ae244" fill-opacity="0.9"/>
<circle cx="559.9" cy="83.7" r="0.81" fill="#4ae244" fill-opacity="0.9"/>
<circle cx="556.1" cy="78.1" r="1.28" fill="#4ae244" fill-opacity="0.9"/>
<circle cx="553.1" cy="78.1" r="0.98" fill="#4ae244" fill-opacity="0.9"/>
<circle cx="565.1" cy="84.5" r="0.79" fill="#4ae244" fill-opacity="0.9"/>
<circle cx="564.9" cy="81.2" r="1.12" fill="#4ae244" fill-opacity="0.9"/>
<circle cx="569.0" cy="76.0" r="0.91" fill="#4ae244" fill-opacity="0.9"/>
<circle cx="557.3" cy="80.1" r="1.11" fill="#4ae244" fill-opacity="0.9"/>
<circle cx="558.9" cy="80.4" r="1.22" fill="#4ae244" fill-opacity="0.9"/>
<circle cx="559.1" cy="75.5" r="1.21" fill="#4ae244" fill-opacity="0.9"/>
<circle cx="561.9" cy="71.2" r="1.08" fill="#4ae244" fill-opacity="0.9"/>
<circle cx="568.3" cy="74.2" r="0.96" fill="#4ae244" fill-opacity="0.9"/>
<circle cx="566.8" cy="77.9" r="1.10" fill="#4ae244" fill-opacity="0.9"/>
<circle cx="567.6" cy="67.9" r="0.79" fill="#4ae244" fill-opacity="0.9"/>
<circle cx="564.5" cy="77.8" r="1.17" fill="#4ae244" fill-opacity="0.9"/>
<circle cx="564.0" cy="71.1" r="0.90" fill="#4ae244" fill-opacity="0.9"/>
<circle cx="572.2" cy="72.2" r="0.94" fill="#4ae244" fill-opacity="0.9"/>
<circle cx="569.3" cy="76.3" r="1.24" fill="#4ae244" fill-opacity="0.9"/>
<circle cx="568.9" cy="71.3" r="0.89" fill="#4ae244" fill-opacity="0.9"/>
<circle cx="563.9" cy="74.2" r="0.92" fill="#4ae244" fill-opacity="0.9"/>
<circle cx="571.0" cy="71.5" r="1.02" fill="#4ae244" fill-opacity="0.9"/>
<circle cx="572.3" cy="71.7" r="0.99" fill="#4ae244" fill-opacity="0.9"/>
<circle cx="566.2" cy="77.0" r="1.07" fill="#4ae244" fill-opacity="0.9"/>
<circle cx="600.3" cy="67.4" r="0.92" fill="#4ae244" fill-opacity="0.9"/>
<circle cx="594.4" cy="76.8" r="1.25" fill="#4ae244" fill-opacity="0.9"/>
<circle cx="593.6" cy="71.4" r="0.90" fill="#4ae244" fill-opacity="0.9"/>
<circle cx="601.3" cy="68.3" r="1.11" fill="#4ae244" fill-opacity="0.9"/>
<circle cx="604.2" cy="73.5" r="0.74" fill="#4ae244" fill-opacity="0.9"/>
<circle cx="600.8" cy="68.2" r="0.84" fill="#4ae244" fill-opacity="0.9"/>
<circle cx="604.3" cy="74.8" r="1.14" fill="#4ae244" fill-opacity="0.9"/>
<circle cx="597.3" cy="63.5" r="1.27" fill="#4ae244" fill-opacity="0.9"/>
<circle cx="590.1" cy="69.8" r="0.75" fill="#4ae244" fill-opacity="0.9"/>
<circle cx="605.0" cy="69.8" r="0.82" fill="#4ae244" fill-opacity="0.9"/>
<circle cx="599.0" cy="63.6" r="0.93" fill="#4ae244" fill-opacity="0.9"/>
<circle cx="600.0" cy="69.5" r="1.15" fill="#4ae244" fill-opacity="0.9"/>
<circle cx="590.5" cy="63.0" r="0.72" fill="#4ae244" fill-opacity="0.9"/>
<circle cx="598.1" cy="67.4" r="0.71" fill="#4ae244" fill-opacity="0.9"/>
<circle cx="594.2" cy="61.9" r="0.77" fill="#4ae244" fill-opacity="0.9"/>
<circle cx="597.0" cy="69.0" r="1.07" fill="#4ae244" fill-opacity="0.9"/>
<circle cx="592.6" cy="61.2" r="0.92" fill="#4ae244" fill-opacity="0.9"/>
<circle cx="599.3" cy="65.9" r="0.93" fill="#4ae244" fill-opacity="0.9"/>
<circle cx="595.3" cy="69.6" r="1.28" fill="#4ae244" fill-opacity="0.9"/>
<circle cx="600.3" cy="66.2" r="0.81" fill="#4ae244" fill-opacity="0.9"/>
<circle cx="596.7" cy="69.1" r="0.91" fill="#4ae244" fill-opacity="0.9"/>
<circle cx="595.2" cy="63.8" r="1.02" fill="#4ae244" fill-opacity="0.9"/>
<circle cx="571.8" cy="91.7" r="0.96" fill="#4ae244" fill-opacity="0.9"/>
<circle cx="575.5" cy="88.3" r="0.97" fill="#4ae244" fill-opacity="0.9"/>
<circle cx="579.2" cy="90.3" r="0.90" fill="#4ae244" fill-opacity="0.9"/>
<circle cx="565.9" cy="101.4" r="1.22" fill="#4ae244" fill-opacity="0.9"/>
<circle cx="579.9" cy="91.7" r="0.79" fill="#4ae244" fill-opacity="0.9"/>
<circle cx="576.5" cy="101.1" r="1.11" fill="#4ae244" fill-opacity="0.9"/>
<circle cx="582.4" cy="95.8" r="1.17" fill="#4ae244" fill-opacity="0.9"/>
<circle cx="569.6" cy="95.1" r="1.18" fill="#4ae244" fill-opacity="0.9"/>
<circle cx="566.7" cy="99.6" r="1.04" fill="#4ae244" fill-opacity="0.9"/>
<circle cx="572.7" cy="89.1" r="1.28" fill="#4ae244" fill-opacity="0.9"/>
<circle cx="582.8" cy="92.9" r="1.07" fill="#4ae244" fill-opacity="0.9"/>
<circle cx="578.4" cy="104.8" r="0.86" fill="#4ae244" fill-opacity="0.9"/>
<circle cx="588.1" cy="94.1" r="1.17" fill="#4ae244" fill-opacity="0.9"/>
<circle cx="585.2" cy="90.1" r="1.11" fill="#4ae244" fill-opacity="0.9"/>
<circle cx="577.3" cy="106.9" r="0.86" fill="#4ae244" fill-opacity="0.9"/>
<circle cx="577.1" cy="95.9" r="1.21" fill="#4ae244" fill-opacity="0.9"/>
<circle cx="575.3" cy="99.5" r="1.25" fill="#4ae244" fill-opacity="0.9"/>
<circle cx="589.2" cy="103.9" r="1.15" fill="#4ae244" fill-opacity="0.9"/>
<circle cx="586.0" cy="106.0" r="1.04" fill="#4ae244" fill-opacity="0.9"/>
<circle cx="587.2" cy="95.0" r="0.96" fill="#4ae244" fill-opacity="0.9"/>
<circle cx="585.0" cy="97.3" r="1.17" fill="#4ae244" fill-opacity="0.9"/>
<circle cx="585.4" cy="102.5" r="0.77" fill="#4ae244" fill-opacity="0.9"/>
<circle cx="598.2" cy="86.2" r="1.14" fill="#4ae244" fill-opacity="0.9"/>
<circle cx="595.2" cy="94.1" r="1.09" fill="#4ae244" fill-opacity="0.9"/>
<circle cx="598.8" cy="91.5" r="1.13" fill="#4ae244" fill-opacity="0.9"/>
<circle cx="596.5" cy="93.7" r="0.87" fill="#4ae244" fill-opacity="0.9"/>
<circle cx="591.5" cy="93.3" r="1.27" fill="#4ae244" fill-opacity="0.9"/>
<circle cx="599.3" cy="89.0" r="1.04" fill="#4ae244" fill-opacity="0.9"/>
<circle cx="597.2" cy="84.3" r="0.97" fill="#4ae244" fill-opacity="0.9"/>
<circle cx="597.9" cy="86.2" r="1.27" fill="#4ae244" fill-opacity="0.9"/>
<circle cx="592.6" cy="89.6" r="1.15" fill="#4ae244" fill-opacity="0.9"/>
<circle cx="598.4" cy="92.9" r="0.73" fill="#4ae244" fill-opacity="0.9"/>
<circle cx="599.7" cy="88.8" r="1.14" fill="#4ae244" fill-opacity="0.9"/>
<circle cx="608.0" cy="113.0" r="0.93" fill="#4ae244" fill-opacity="0.9"/>
<circle cx="602.8" cy="116.2" r="0.72" fill="#4ae244" fill-opacity="0.9"/>
<circle cx="598.2" cy="107.9" r="1.21" fill="#4ae244" fill-opacity="0.9"/>
<circle cx="606.0" cy="104.7" r="0.98" fill="#4ae244" fill-opacity="0.9"/>
<circle cx="594.5" cy="108.9" r="1.14" fill="#4ae244" fill-opacity="0.9"/>
<circle cx="597.4" cy="115.3" r="0.81" fill="#4ae244" fill-opacity="0.9"/>
<circle cx="608.5" cy="114.0" r="0.77" fill="#4ae244" fill-opacity="0.9"/>
<circle cx="605.4" cy="113.7" r="0.90" fill="#4ae244" fill-opacity="0.9"/>
<circle cx="607.6" cy="115.5" r="0.98" fill="#4ae244" fill-opacity="0.9"/>
<circle cx="603.9" cy="101.9" r="1.25" fill="#4ae244" fill-opacity="0.9"/>
<circle cx="604.4" cy="116.6" r="1.07" fill="#4ae244" fill-opacity="0.9"/>
<circle cx="542.3" cy="107.3" r="1.08" fill="#4ae244" fill-opacity="0.9"/>
<circle cx="531.8" cy="107.1" r="0.97" fill="#4ae244" fill-opacity="0.9"/>
<circle cx="541.8" cy="111.5" r="1.18" fill="#4ae244" fill-opacity="0.9"/>
<circle cx="535.1" cy="103.6" r="0.84" fill="#4ae244" fill-opacity="0.9"/>
<circle cx="532.0" cy="109.4" r="1.28" fill="#4ae244" fill-opacity="0.9"/>
<circle cx="539.8" cy="106.8" r="1.11" fill="#4ae244" fill-opacity="0.9"/>
<circle cx="533.6" cy="106.9" r="0.80" fill="#4ae244" fill-opacity="0.9"/>
<circle cx="539.9" cy="111.3" r="1.00" fill="#4ae244" fill-opacity="0.9"/>
<circle cx="536.8" cy="111.9" r="1.03" fill="#4ae244" fill-opacity="0.9"/>
<circle cx="537.5" cy="103.7" r="0.80" fill="#4ae244" fill-opacity="0.9"/>
<circle cx="540.0" cy="105.8" r="1.28" fill="#4ae244" fill-opacity="0.9"/>
<circle cx="531.0" cy="116.9" r="1.05" fill="#4ae244" fill-opacity="0.9"/>
<circle cx="532.1" cy="116.3" r="1.03" fill="#4ae244" fill-opacity="0.9"/>
<circle cx="525.9" cy="120.4" r="0.82" fill="#4ae244" fill-opacity="0.9"/>
<circle cx="530.4" cy="120.5" r="1.08" fill="#4ae244" fill-opacity="0.9"/>
<circle cx="520.0" cy="114.3" r="1.11" fill="#4ae244" fill-opacity="0.9"/>
<circle cx="522.2" cy="123.2" r="1.08" fill="#4ae244" fill-opacity="0.9"/>
<circle cx="520.1" cy="115.3" r="1.10" fill="#4ae244" fill-opacity="0.9"/>
<circle cx="523.3" cy="122.0" r="0.88" fill="#4ae244" fill-opacity="0.9"/>
<circle cx="531.5" cy="116.5" r="1.28" fill="#4ae244" fill-opacity="0.9"/>
<circle cx="530.2" cy="118.6" r="1.03" fill="#4ae244" fill-opacity="0.9"/>
<circle cx="528.7" cy="122.7" r="0.77" fill="#4ae244" fill-opacity="0.9"/>
<circle cx="547.8" cy="112.3" r="1.11" fill="#4ae244" fill-opacity="0.9"/>
<circle cx="552.5" cy="114.8" r="1.11" fill="#4ae244" fill-opacity="0.9"/>
<circle cx="542.7" cy="115.3" r="0.73" fill="#4ae244" fill-opacity="0.9"/>
<circle cx="534.8" cy="123.6" r="0.89" fill="#4ae244" fill-opacity="0.9"/>
<circle cx="539.9" cy="117.5" r="0.95" fill="#4ae244" fill-opacity="0.9"/>
<circle cx="549.8" cy="114.9" r="1.19" fill="#4ae244" fill-opacity="0.9"/>
<circle cx="548.8" cy="119.6" r="0.81" fill="#4ae244" fill-opacity="0.9"/>
<circle cx="545.9" cy="115.2" r="1.26" fill="#4ae244" fill-opacity="0.9"/>
<circle cx="542.6" cy="128.4" r="1.01" fill="#4ae244" fill-opacity="0.9"/>
<circle cx="539.2" cy="128.0" r="0.94" fill="#4ae244" fill-opacity="0.9"/>
<circle cx="542.2" cy="115.0" r="1.20" fill="#4ae244" fill-opacity="0.9"/>
<circle cx="537.3" cy="127.9" r="1.15" fill="#4ae244" fill-opacity="0.9"/>
<circle cx="533.1" cy="132.2" r="0.92" fill="#4ae244" fill-opacity="0.9"/>
<circle cx="529.5" cy="121.7" r="1.30" fill="#4ae244" fill-opacity="0.9"/>
<circle cx="539.8" cy="128.0" r="1.09" fill="#4ae244" fill-opacity="0.9"/>
<circle cx="537.1" cy="134.0" r="1.03" fill="#4ae244" fill-opacity="0.9"/>
<circle cx="528.8" cy="134.1" r="0.85" fill="#4ae244" fill-opacity="0.9"/>
<circle cx="536.1" cy="131.4" r="0.79" fill="#4ae244" fill-opacity="0.9"/>
<circle cx="527.6" cy="124.6" r="0.80" fill="#4ae244" fill-opacity="0.9"/>
<circle cx="527.6" cy="128.2" r="1.04" fill="#4ae244" fill-opacity="0.9"/>
<circle cx="528.6" cy="131.3" r="0.71" fill="#4ae244" fill-opacity="0.9"/>
<circle cx="538.5" cy="130.2" r="0.84" fill="#4ae244" fill-opacity="0.9"/>
<circle cx="482.9" cy="135.3" r="1.19" fill="#4ae244" fill-opacity="0.9"/>
<circle cx="482.9" cy="145.2" r="0.99" fill="#4ae244" fill-opacity="0.9"/>
<circle cx="478.1" cy="144.6" r="1.16" fill="#4ae244" fill-opacity="0.9"/>
<circle cx="484.1" cy="148.6" r="1.20" fill="#4ae244" fill-opacity="0.9"/>
<circle cx="476.0" cy="142.8" r="1.25" fill="#4ae244" fill-opacity="0.9"/>
<circle cx="478.7" cy="137.6" r="0.74" fill="#4ae244" fill-opacity="0.9"/>
<circle cx="487.9" cy="143.7" r="0.75" fill="#4ae244" fill-opacity="0.9"/>
<circle cx="478.8" cy="135.4" r="0.89" fill="#4ae244" fill-opacity="0.9"/>
<circle cx="473.1" cy="140.0" r="0.85" fill="#4ae244" fill-opacity="0.9"/>
<circle cx="486.0" cy="145.5" r="0.89" fill="#4ae244" fill-opacity="0.9"/>
<circle cx="489.7" cy="136.3" r="0.96" fill="#4ae244" fill-opacity="0.9"/>
<circle cx="442.1" cy="158.4" r="0.77" fill="#4ae244" fill-opacity="0.9"/>
<circle cx="444.0" cy="150.2" r="0.79" fill="#4ae244" fill-opacity="0.9"/>
<circle cx="437.9" cy="152.9" r="1.00" fill="#4ae244" fill-opacity="0.9"/>
<circle cx="438.5" cy="158.6" r="1.15" fill="#4ae244" fill-opacity="0.9"/>
<circle cx="439.2" cy="149.9" r="0.80" fill="#4ae244" fill-opacity="0.9"/>
<circle cx="437.8" cy="150.8" r="1.10" fill="#4ae244" fill-opacity="0.9"/>
<circle cx="446.7" cy="159.5" r="0.70" fill="#4ae244" fill-opacity="0.9"/>
<circle cx="441.3" cy="160.4" r="0.82" fill="#4ae244" fill-opacity="0.9"/>
<circle cx="445.9" cy="158.8" r="1.30" fill="#4ae244" fill-opacity="0.9"/>
<circle cx="438.1" cy="159.3" r="1.10" fill="#4ae244" fill-opacity="0.9"/>
<circle cx="441.3" cy="160.4" r="1.11" fill="#4ae244" fill-opacity="0.9"/>
<circle cx="437.7" cy="168.5" r="0.74" fill="#4ae244" fill-opacity="0.9"/>
<circle cx="432.6" cy="163.7" r="1.25" fill="#4ae244" fill-opacity="0.9"/>
<circle cx="447.9" cy="170.5" r="0.99" fill="#4ae244" fill-opacity="0.9"/>
<circle cx="445.0" cy="173.9" r="1.00" fill="#4ae244" fill-opacity="0.9"/>
<circle cx="444.3" cy="161.0" r="1.26" fill="#4ae244" fill-opacity="0.9"/>
<circle cx="444.9" cy="160.1" r="0.78" fill="#4ae244" fill-opacity="0.9"/>
<circle cx="437.5" cy="166.9" r="1.11" fill="#4ae244" fill-opacity="0.9"/>
<circle cx="439.8" cy="159.3" r="1.29" fill="#4ae244" fill-opacity="0.9"/>
<circle cx="450.2" cy="168.7" r="1.18" fill="#4ae244" fill-opacity="0.9"/>
<circle cx="446.7" cy="170.3" r="0.73" fill="#4ae244" fill-opacity="0.9"/>
<circle cx="435.0" cy="162.2" r="0.91" fill="#4ae244" fill-opacity="0.9"/>
<circle cx="436.4" cy="168.9" r="1.13" fill="#4ae244" fill-opacity="0.9"/>
<circle cx="436.8" cy="184.4" r="0.96" fill="#4ae244" fill-opacity="0.9"/>
<circle cx="443.0" cy="174.8" r="1.14" fill="#4ae244" fill-opacity="0.9"/>
<circle cx="443.7" cy="168.8" r="0.79" fill="#4ae244" fill-opacity="0.9"/>
<circle cx="444.3" cy="168.7" r="0.77" fill="#4ae244" fill-opacity="0.9"/>
<circle cx="432.6" cy="180.2" r="0.70" fill="#4ae244" fill-opacity="0.9"/>
<circle cx="444.4" cy="176.3" r="1.22" fill="#4ae244" fill-opacity="0.9"/>
<circle cx="444.4" cy="174.6" r="1.25" fill="#4ae244" fill-opacity="0.9"/>
<circle cx="440.6" cy="165.7" r="1.05" fill="#4ae244" fill-opacity="0.9"/>
<circle cx="446.2" cy="173.2" r="1.27" fill="#4ae244" fill-opacity="0.9"/>
<circle cx="433.8" cy="172.6" r="1.01" fill="#4ae244" fill-opacity="0.9"/>
<circle cx="483.1" cy="155.1" r="0.92" fill="#4ae244" fill-opacity="0.9"/>
<circle cx="481.6" cy="154.0" r="0.83" fill="#4ae244" fill-opacity="0.9"/>
<circle cx="487.9" cy="161.4" r="1.00" fill="#4ae244" fill-opacity="0.9"/>
<circle cx="482.1" cy="158.4" r="0.81" fill="#4ae244" fill-opacity="0.9"/>
<circle cx="483.6" cy="153.4" r="1.16" fill="#4ae244" fill-opacity="0.9"/>
<circle cx="486.6" cy="146.2" r="1.01" fill="#4ae244" fill-opacity="0.9"/>
<circle cx="489.2" cy="164.1" r="1.01" fill="#4ae244" fill-opacity="0.9"/>
<circle cx="485.0" cy="158.6" r="0.94" fill="#4ae244" fill-opacity="0.9"/>
<circle cx="486.8" cy="145.9" r="0.99" fill="#4ae244" fill-opacity="0.9"/>
<circle cx="488.5" cy="149.3" r="0.97" fill="#4ae244" fill-opacity="0.9"/>
<circle cx="485.4" cy="159.0" r="0.92" fill="#4ae244" fill-opacity="0.9"/>
<circle cx="496.6" cy="153.2" r="0.82" fill="#4ae244" fill-opacity="0.9"/>
<circle cx="497.0" cy="163.4" r="1.09" fill="#4ae244" fill-opacity="0.9"/>
<circle cx="494.4" cy="154.0" r="1.12" fill="#4ae244" fill-opacity="0.9"/>
<circle cx="496.1" cy="160.8" r="0.92" fill="#4ae244" fill-opacity="0.9"/>
<circle cx="502.2" cy="159.4" r="1.01" fill="#4ae244" fill-opacity="0.9"/>
<circle cx="493.7" cy="153.0" r="1.18" fill="#4ae244" fill-opacity="0.9"/>
<circle cx="497.0" cy="161.8" r="0.77" fill="#4ae244" fill-opacity="0.9"/>
<circle cx="497.9" cy="153.4" r="0.99" fill="#4ae244" fill-opacity="0.9"/>
<circle cx="494.2" cy="160.7" r="0.99" fill="#4ae244" fill-opacity="0.9"/>
<circle cx="495.2" cy="152.7" r="1.21" fill="#4ae244" fill-opacity="0.9"/>
<circle cx="499.2" cy="155.3" r="0.95" fill="#4ae244" fill-opacity="0.9"/>
<circle cx="499.9" cy="165.4" r="0.81" fill="#4ae244" fill-opacity="0.9"/>
<circle cx="506.9" cy="161.1" r="1.25" fill="#4ae244" fill-opacity="0.9"/>
<circle cx="507.4" cy="151.5" r="1.21" fill="#4ae244" fill-opacity="0.9"/>
<circle cx="508.9" cy="152.1" r="0.82" fill="#4ae244" fill-opacity="0.9"/>
<circle cx="504.7" cy="150.1" r="0.77" fill="#4ae244" fill-opacity="0.9"/>
<circle cx="509.2" cy="152.5" r="0.94" fill="#4ae244" fill-opacity="0.9"/>
<circle cx="499.2" cy="153.2" r="0.71" fill="#4ae244" fill-opacity="0.9"/>
<circle cx="499.0" cy="160.3" r="0.71" fill="#4ae244" fill-opacity="0.9"/>
<circle cx="497.9" cy="162.5" r="0.90" fill="#4ae244" fill-opacity="0.9"/>
<circle cx="500.5" cy="149.3" r="0.81" fill="#4ae244" fill-opacity="0.9"/>
<circle cx="511.8" cy="157.3" r="1.07" fill="#4ae244" fill-opacity="0.9"/>
<circle cx="508.9" cy="173.7" r="1.21" fill="#4ae244" fill-opacity="0.9"/>
<circle cx="514.3" cy="166.6" r="1.05" fill="#4ae244" fill-opacity="0.9"/>
<circle cx="505.4" cy="166.8" r="0.72" fill="#4ae244" fill-opacity="0.9"/>
<circle cx="507.0" cy="175.5" r="1.06" fill="#4ae244" fill-opacity="0.9"/>
<circle cx="505.9" cy="168.9" r="0.83" fill="#4ae244" fill-opacity="0.9"/>
<circle cx="508.0" cy="174.6" r="0.92" fill="#4ae244" fill-opacity="0.9"/>
<circle cx="513.7" cy="166.8" r="1.29" fill="#4ae244" fill-opacity="0.9"/>
<circle cx="510.7" cy="177.4" r="0.85" fill="#4ae244" fill-opacity="0.9"/>
<circle cx="505.4" cy="166.3" r="0.72" fill="#4ae244" fill-opacity="0.9"/>
<circle cx="512.5" cy="161.6" r="0.86" fill="#4ae244" fill-opacity="0.9"/>
<circle cx="511.2" cy="163.1" r="1.29" fill="#4ae244" fill-opacity="0.9"/>
<circle cx="498.2" cy="171.4" r="0.84" fill="#4ae244" fill-opacity="0.9"/>
<circle cx="490.9" cy="166.4" r="1.21" fill="#4ae244" fill-opacity="0.9"/>
<circle cx="491.0" cy="169.0" r="1.18" fill="#4ae244" fill-opacity="0.9"/>
<circle cx="497.2" cy="172.1" r="1.15" fill="#4ae244" fill-opacity="0.9"/>
<circle cx="489.0" cy="172.3" r="0.75" fill="#4ae244" fill-opacity="0.9"/>
<circle cx="491.5" cy="170.9" r="0.70" fill="#4ae244" fill-opacity="0.9"/>
<circle cx="496.9" cy="171.6" r="0.92" fill="#4ae244" fill-opacity="0.9"/>
<circle cx="490.7" cy="171.8" r="0.87" fill="#4ae244" fill-opacity="0.9"/>
<circle cx="493.3" cy="166.0" r="1.29" fill="#4ae244" fill-opacity="0.9"/>
<circle cx="496.7" cy="173.8" r="1.00" fill="#4ae244" fill-opacity="0.9"/>
<circle cx="490.8" cy="174.1" r="0.83" fill="#4ae244" fill-opacity="0.9"/>
<circle cx="480.6" cy="175.0" r="0.90" fill="#4ae244" fill-opacity="0.9"/>
<circle cx="470.7" cy="174.4" r="0.87" fill="#4ae244" fill-opacity="0.9"/>
<circle cx="484.6" cy="184.2" r="0.92" fill="#4ae244" fill-opacity="0.9"/>
<circle cx="482.2" cy="184.5" r="1.02" fill="#4ae244" fill-opacity="0.9"/>
<circle cx="473.4" cy="184.6" r="1.21" fill="#4ae244" fill-opacity="0.9"/>
<circle cx="472.8" cy="184.8" r="1.27" fill="#4ae244" fill-opacity="0.9"/>
<circle cx="472.1" cy="184.2" r="0.80" fill="#4ae244" fill-opacity="0.9"/>
<circle cx="472.0" cy="172.5" r="0.97" fill="#4ae244" fill-opacity="0.9"/>
<circle cx="471.7" cy="182.3" r="1.17" fill="#4ae244" fill-opacity="0.9"/>
<circle cx="467.5" cy="181.7" r="0.92" fill="#4ae244" fill-opacity="0.9"/>
<circle cx="475.8" cy="175.1" r="0.83" fill="#4ae244" fill-opacity="0.9"/>
<circle cx="469.7" cy="181.1" r="1.11" fill="#4ae244" fill-opacity="0.9"/>
<circle cx="449.1" cy="184.1" r="0.82" fill="#4ae244" fill-opacity="0.9"/>
<circle cx="463.8" cy="193.7" r="1.12" fill="#4ae244" fill-opacity="0.9"/>
<circle cx="458.1" cy="194.9" r="0.78" fill="#4ae244" fill-opacity="0.9"/>
<circle cx="453.4" cy="179.3" r="1.01" fill="#4ae244" fill-opacity="0.9"/>
<circle cx="454.7" cy="193.3" r="0.78" fill="#4ae244" fill-opacity="0.9"/>
<circle cx="448.0" cy="185.0" r="0.78" fill="#4ae244" fill-opacity="0.9"/>
<circle cx="454.6" cy="194.4" r="1.03" fill="#4ae244" fill-opacity="0.9"/>
<circle cx="449.7" cy="175.8" r="1.04" fill="#4ae244" fill-opacity="0.9"/>
<circle cx="460.3" cy="193.1" r="1.20" fill="#4ae244" fill-opacity="0.9"/>
<circle cx="447.8" cy="179.0" r="0.92" fill="#4ae244" fill-opacity="0.9"/>
<circle cx="483.5" cy="190.1" r="1.19" fill="#4ae244" fill-opacity="0.9"/>
<circle cx="488.8" cy="184.6" r="1.07" fill="#4ae244" fill-opacity="0.9"/>
<circle cx="498.4" cy="189.2" r="1.28" fill="#4ae244" fill-opacity="0.9"/>
<circle cx="490.3" cy="183.2" r="1.21" fill="#4ae244" fill-opacity="0.9"/>
<circle cx="494.1" cy="194.0" r="1.01" fill="#4ae244" fill-opacity="0.9"/>
<circle cx="498.3" cy="188.3" r="0.96" fill="#4ae244" fill-opacity="0.9"/>
<circle cx="494.0" cy="181.9" r="1.02" fill="#4ae244" fill-opacity="0.9"/>
<circle cx="493.6" cy="184.4" r="1.24" fill="#4ae244" fill-opacity="0.9"/>
<circle cx="489.1" cy="190.4" r="0.90" fill="#4ae244" fill-opacity="0.9"/>
<circle cx="494.1" cy="189.0" r="1.07" fill="#4ae244" fill-opacity="0.9"/>
<circle cx="493.8" cy="190.3" r="0.88" fill="#4ae244" fill-opacity="0.9"/>
<circle cx="463.8" cy="210.7" r="1.24" fill="#4ae244" fill-opacity="0.9"/>
<circle cx="470.6" cy="197.4" r="0.96" fill="#4ae244" fill-opacity="0.9"/>
<circle cx="466.5" cy="198.8" r="1.26" fill="#4ae244" fill-opacity="0.9"/>
<circle cx="467.7" cy="197.0" r="0.84" fill="#4ae244" fill-opacity="0.9"/>
<circle cx="471.6" cy="207.4" r="1.03" fill="#4ae244" fill-opacity="0.9"/>
<circle cx="459.6" cy="198.4" r="0.79" fill="#4ae244" fill-opacity="0.9"/>
<circle cx="463.5" cy="198.0" r="1.17" fill="#4ae244" fill-opacity="0.9"/>
<circle cx="461.2" cy="204.3" r="1.27" fill="#4ae244" fill-opacity="0.9"/>
<circle cx="463.9" cy="209.8" r="1.20" fill="#4ae244" fill-opacity="0.9"/>
<circle cx="465.3" cy="209.7" r="0.94" fill="#4ae244" fill-opacity="0.9"/>
<circle cx="465.9" cy="207.4" r="1.27" fill="#4ae244" fill-opacity="0.9"/>
<circle cx="572.2" cy="151.3" r="1.00" fill="#4ae244" fill-opacity="0.9"/>
<circle cx="582.7" cy="148.2" r="1.15" fill="#4ae244" fill-opacity="0.9"/>
<circle cx="579.5" cy="143.6" r="0.83" fill="#4ae244" fill-opacity="0.9"/>
<circle cx="572.1" cy="152.6" r="1.09" fill="#4ae244" fill-opacity="0.9"/>
<circle cx="571.2" cy="150.3" r="0.79" fill="#4ae244" fill-opacity="0.9"/>
<circle cx="580.8" cy="144.4" r="1.00" fill="#4ae244" fill-opacity="0.9"/>
<circle cx="577.0" cy="143.1" r="1.13" fill="#4ae244" fill-opacity="0.9"/>
<circle cx="571.7" cy="152.8" r="0.76" fill="#4ae244" fill-opacity="0.9"/>
<circle cx="575.0" cy="153.3" r="0.99" fill="#4ae244" fill-opacity="0.9"/>
<circle cx="571.7" cy="151.3" r="0.83" fill="#4ae244" fill-opacity="0.9"/>
<circle cx="573.0" cy="148.3" r="1.18" fill="#4ae244" fill-opacity="0.9"/>
<circle cx="574.1" cy="159.0" r="1.03" fill="#4ae244" fill-opacity="0.9"/>
<circle cx="570.5" cy="150.8" r="0.78" fill="#4ae244" fill-opacity="0.9"/>
<circle cx="574.8" cy="150.2" r="1.22" fill="#4ae244" fill-opacity="0.9"/>
<circle cx="575.3" cy="148.9" r="1.19" fill="#4ae244" fill-opacity="0.9"/>
<circle cx="569.8" cy="155.5" r="1.27" fill="#4ae244" fill-opacity="0.9"/>
<circle cx="575.2" cy="156.2" r="0.95" fill="#4ae244" fill-opacity="0.9"/>
<circle cx="571.3" cy="153.4" r="0.83" fill="#4ae244" fill-opacity="0.9"/>
<circle cx="576.7" cy="150.8" r="0.79" fill="#4ae244" fill-opacity="0.9"/>
<circle cx="576.0" cy="157.7" r="0.81" fill="#4ae244" fill-opacity="0.9"/>
<circle cx="569.9" cy="154.3" r="0.96" fill="#4ae244" fill-opacity="0.9"/>
<circle cx="568.8" cy="153.5" r="0.71" fill="#4ae244" fill-opacity="0.9"/>
<circle cx="589.9" cy="144.4" r="0.72" fill="#4ae244" fill-opacity="0.9"/>
<circle cx="586.8" cy="140.3" r="1.02" fill="#4ae244" fill-opacity="0.9"/>
<circle cx="587.5" cy="153.0" r="0.88" fill="#4ae244" fill-opacity="0.9"/>
<circle cx="585.5" cy="141.9" r="1.04" fill="#4ae244" fill-opacity="0.9"/>
<circle cx="583.1" cy="142.2" r="0.99" fill="#4ae244" fill-opacity="0.9"/>
<circle cx="591.9" cy="148.7" r="1.11" fill="#4ae244" fill-opacity="0.9"/>
<circle cx="589.4" cy="151.0" r="1.14" fill="#4ae244" fill-opacity="0.9"/>
<circle cx="591.9" cy="150.5" r="1.22" fill="#4ae244" fill-opacity="0.9"/>
<circle cx="590.3" cy="147.6" r="0.75" fill="#4ae244" fill-opacity="0.9"/>
<circle cx="586.0" cy="149.8" r="0.99" fill="#4ae244" fill-opacity="0.9"/>
<circle cx="586.1" cy="150.8" r="0.98" fill="#4ae244" fill-opacity="0.9"/>
<circle cx="586.6" cy="163.5" r="1.13" fill="#4ae244" fill-opacity="0.9"/>
<circle cx="596.6" cy="160.7" r="0.70" fill="#4ae244" fill-opacity="0.9"/>
<circle cx="590.4" cy="161.3" r="1.12" fill="#4ae244" fill-opacity="0.9"/>
<circle cx="594.5" cy="147.4" r="0.83" fill="#4ae244" fill-opacity="0.9"/>
<circle cx="600.9" cy="159.2" r="0.95" fill="#4ae244" fill-opacity="0.9"/>
<circle cx="598.4" cy="154.5" r="0.89" fill="#4ae244" fill-opacity="0.9"/>
<circle cx="601.3" cy="161.5" r="1.01" fill="#4ae244" fill-opacity="0.9"/>
<circle cx="586.4" cy="159.6" r="1.16" fill="#4ae244" fill-opacity="0.9"/>
<circle cx="595.9" cy="151.2" r="0.81" fill="#4ae244" fill-opacity="0.9"/>
<circle cx="584.8" cy="162.4" r="0.94" fill="#4ae244" fill-opacity="0.9"/>
<circle cx="588.7" cy="151.0" r="0.98" fill="#4ae244" fill-opacity="0.9"/>
<circle cx="597.0" cy="153.0" r="1.03" fill="#4ae244" fill-opacity="0.9"/>
<circle cx="601.7" cy="152.5" r="0.92" fill="#4ae244" fill-opacity="0.9"/>
<circle cx="604.2" cy="150.5" r="0.71" fill="#4ae244" fill-opacity="0.9"/>
<circle cx="596.6" cy="151.2" r="1.21" fill="#4ae244" fill-opacity="0.9"/>
<circle cx="597.1" cy="155.0" r="0.88" fill="#4ae244" fill-opacity="0.9"/>
<circle cx="598.7" cy="149.6" r="0.82" fill="#4ae244" fill-opacity="0.9"/>
<circle cx="596.9" cy="150.8" r="1.09" fill="#4ae244" fill-opacity="0.9"/>
<circle cx="603.9" cy="155.0" r="0.89" fill="#4ae244" fill-opacity="0.9"/>
<circle cx="596.9" cy="152.4" r="0.78" fill="#4ae244" fill-opacity="0.9"/>
<circle cx="598.3" cy="151.5" r="1.17" fill="#4ae244" fill-opacity="0.9"/>
<circle cx="598.4" cy="158.6" r="1.18" fill="#4ae244" fill-opacity="0.9"/>
<circle cx="553.2" cy="166.7" r="0.74" fill="#4ae244" fill-opacity="0.9"/>
<circle cx="550.3" cy="158.1" r="1.13" fill="#4ae244" fill-opacity="0.9"/>
<circle cx="541.6" cy="164.5" r="0.94" fill="#4ae244" fill-opacity="0.9"/>
<circle cx="537.9" cy="159.9" r="0.77" fill="#4ae244" fill-opacity="0.9"/>
<circle cx="538.8" cy="159.0" r="1.28" fill="#4ae244" fill-opacity="0.9"/>
<circle cx="539.8" cy="165.3" r="0.84" fill="#4ae244" fill-opacity="0.9"/>
<circle cx="552.7" cy="158.6" r="1.09" fill="#4ae244" fill-opacity="0.9"/>
<circle cx="549.5" cy="153.4" r="1.15" fill="#4ae244" fill-opacity="0.9"/>
<circle cx="544.7" cy="165.5" r="0.73" fill="#4ae244" fill-opacity="0.9"/>
<circle cx="535.2" cy="163.5" r="0.82" fill="#4ae244" fill-opacity="0.9"/>
<circle cx="536.1" cy="163.8" r="0.87" fill="#4ae244" fill-opacity="0.9"/>
<circle cx="564.5" cy="182.3" r="0.96" fill="#4ae244" fill-opacity="0.9"/>
<circle cx="569.1" cy="173.0" r="0.84" fill="#4ae244" fill-opacity="0.9"/>
<circle cx="554.4" cy="174.1" r="0.72" fill="#4ae244" fill-opacity="0.9"/>
<circle cx="551.5" cy="179.8" r="0.88" fill="#4ae244" fill-opacity="0.9"/>
<circle cx="553.3" cy="172.2" r="0.74" fill="#4ae244" fill-opacity="0.9"/>
<circle cx="564.5" cy="174.4" r="0.88" fill="#4ae244" fill-opacity="0.9"/>
<circle cx="559.5" cy="172.5" r="0.93" fill="#4ae244" fill-opacity="0.9"/>
<circle cx="565.2" cy="181.4" r="0.71" fill="#4ae244" fill-opacity="0.9"/>
<circle cx="563.5" cy="180.8" r="0.75" fill="#4ae244" fill-opacity="0.9"/>
<circle cx="564.8" cy="179.3" r="1.01" fill="#4ae244" fill-opacity="0.9"/>
<circle cx="566.2" cy="183.3" r="0.95" fill="#4ae244" fill-opacity="0.9"/>
<circle cx="565.8" cy="200.5" r="1.20" fill="#4ae244" fill-opacity="0.9"/>
<circle cx="575.6" cy="196.9" r="0.76" fill="#4ae244" fill-opacity="0.9"/>
<circle cx="573.2" cy="191.4" r="1.06" fill="#4ae244" fill-opacity="0.9"/>
<circle cx="569.5" cy="189.8" r="0.74" fill="#4ae244" fill-opacity="0.9"/>
<circle cx="562.8" cy="185.5" r="1.13" fill="#4ae244" fill-opacity="0.9"/>
<circle cx="564.4" cy="202.3" r="0.81" fill="#4ae244" fill-opacity="0.9"/>
<circle cx="559.6" cy="196.6" r="1.05" fill="#4ae244" fill-opacity="0.9"/>
<circle cx="563.8" cy="200.5" r="1.09" fill="#4ae244" fill-opacity="0.9"/>
<circle cx="575.0" cy="199.4" r="1.00" fill="#4ae244" fill-opacity="0.9"/>
<circle cx="566.6" cy="199.6" r="1.01" fill="#4ae244" fill-opacity="0.9"/>
<circle cx="555.9" cy="193.8" r="0.92" fill="#4ae244" fill-opacity="0.9"/>
<circle cx="523.9" cy="198.0" r="0.86" fill="#4ae244" fill-opacity="0.9"/>
<circle cx="541.2" cy="192.0" r="1.29" fill="#4ae244" fill-opacity="0.9"/>
<circle cx="537.1" cy="191.2" r="1.19" fill="#4ae244" fill-opacity="0.9"/>
<circle cx="527.9" cy="189.7" r="1.30" fill="#4ae244" fill-opacity="0.9"/>
<circle cx="526.6" cy="186.0" r="1.03" fill="#4ae244" fill-opacity="0.9"/>
<circle cx="540.0" cy="197.5" r="0.81" fill="#4ae244" fill-opacity="0.9"/>
<circle cx="531.5" cy="200.8" r="0.82" fill="#4ae244" fill-opacity="0.9"/>
<circle cx="523.8" cy="195.0" r="0.76" fill="#4ae244" fill-opacity="0.9"/>
<circle cx="529.4" cy="189.2" r="0.99" fill="#4ae244" fill-opacity="0.9"/>
<circle cx="527.1" cy="186.5" r="0.73" fill="#4ae244" fill-opacity="0.9"/>
<circle cx="535.4" cy="202.2" r="0.93" fill="#4ae244" fill-opacity="0.9"/>
<circle cx="540.2" cy="201.8" r="1.12" fill="#4ae244" fill-opacity="0.9"/>
<circle cx="544.3" cy="193.2" r="0.94" fill="#4ae244" fill-opacity="0.9"/>
<circle cx="539.6" cy="197.1" r="0.81" fill="#4ae244" fill-opacity="0.9"/>
<circle cx="552.1" cy="197.1" r="1.17" fill="#4ae244" fill-opacity="0.9"/>
<circle cx="550.1" cy="199.2" r="1.20" fill="#4ae244" fill-opacity="0.9"/>
<circle cx="545.1" cy="206.3" r="1.13" fill="#4ae244" fill-opacity="0.9"/>
<circle cx="551.4" cy="196.8" r="1.23" fill="#4ae244" fill-opacity="0.9"/>
<circle cx="543.9" cy="206.4" r="0.99" fill="#4ae244" fill-opacity="0.9"/>
<circle cx="542.8" cy="204.1" r="1.18" fill="#4ae244" fill-opacity="0.9"/>
<circle cx="548.7" cy="193.4" r="1.10" fill="#4ae244" fill-opacity="0.9"/>
<circle cx="546.6" cy="203.0" r="1.04" fill="#4ae244" fill-opacity="0.9"/>
<circle cx="595.3" cy="204.0" r="0.76" fill="#4ae244" fill-opacity="0.9"/>
<circle cx="597.2" cy="204.6" r="0.83" fill="#4ae244" fill-opacity="0.9"/>
<circle cx="596.5" cy="197.6" r="1.21" fill="#4ae244" fill-opacity="0.9"/>
<circle cx="593.3" cy="203.7" r="0.94" fill="#4ae244" fill-opacity="0.9"/>
<circle cx="598.4" cy="200.8" r="0.93" fill="#4ae244" fill-opacity="0.9"/>
<circle cx="599.9" cy="200.9" r="0.93" fill="#4ae244" fill-opacity="0.9"/>
<circle cx="600.3" cy="200.5" r="0.84" fill="#4ae244" fill-opacity="0.9"/>
<circle cx="594.4" cy="203.0" r="0.76" fill="#4ae244" fill-opacity="0.9"/>
<circle cx="593.3" cy="196.1" r="1.00" fill="#4ae244" fill-opacity="0.9"/>
<circle cx="594.5" cy="203.9" r="1.28" fill="#4ae244" fill-opacity="0.9"/>
<circle cx="590.3" cy="204.8" r="1.23" fill="#4ae244" fill-opacity="0.9"/>
<circle cx="561.9" cy="219.3" r="0.71" fill="#4ae244" fill-opacity="0.9"/>
<circle cx="555.0" cy="207.3" r="1.12" fill="#4ae244" fill-opacity="0.9"/>
<circle cx="549.9" cy="212.0" r="0.79" fill="#4ae244" fill-opacity="0.9"/>
<circle cx="552.4" cy="213.1" r="0.94" fill="#4ae244" fill-opacity="0.9"/>
<circle cx="559.1" cy="220.4" r="1.04" fill="#4ae244" fill-opacity="0.9"/>
<circle cx="557.8" cy="208.1" r="1.06" fill="#4ae244" fill-opacity="0.9"/>
<circle cx="563.0" cy="210.9" r="1.04" fill="#4ae244" fill-opacity="0.9"/>
<circle cx="553.2" cy="221.0" r="0.92" fill="#4ae244" fill-opacity="0.9"/>
<circle cx="560.5" cy="217.1" r="1.12" fill="#4ae244" fill-opacity="0.9"/>
<circle cx="562.4" cy="211.6" r="1.10" fill="#4ae244" fill-opacity="0.9"/>
<circle cx="563.1" cy="211.5" r="0.97" fill="#4ae244" fill-opacity="0.9"/>
<circle cx="585.0" cy="216.8" r="0.89" fill="#4ae244" fill-opacity="0.9"/>
<circle cx="596.4" cy="219.1" r="1.19" fill="#4ae244" fill-opacity="0.9"/>
<circle cx="591.7" cy="221.7" r="1.24" fill="#4ae244" fill-opacity="0.9"/>
<circle cx="594.3" cy="218.0" r="1.00" fill="#4ae244" fill-opacity="0.9"/>
<circle cx="587.7" cy="221.9" r="1.30" fill="#4ae244" fill-opacity="0.9"/>
<circle cx="585.0" cy="217.5" r="1.08" fill="#4ae244" fill-opacity="0.9"/>
<circle cx="595.2" cy="222.2" r="0.80" fill="#4ae244" fill-opacity="0.9"/>
<circle cx="596.4" cy="217.7" r="0.71" fill="#4ae244" fill-opacity="0.9"/>
<circle cx="586.5" cy="215.8" r="1.27" fill="#4ae244" fill-opacity="0.9"/>
<circle cx="585.4" cy="219.0" r="1.17" fill="#4ae244" fill-opacity="0.9"/>
<circle cx="587.9" cy="213.0" r="0.88" fill="#4ae244" fill-opacity="0.9"/>
<circle cx="523.5" cy="214.4" r="1.09" fill="#4ae244" fill-opacity="0.9"/>
<circle cx="523.7" cy="214.1" r="1.06" fill="#4ae244" fill-opacity="0.9"/>
<circle cx="530.4" cy="214.1" r="0.90" fill="#4ae244" fill-opacity="0.9"/>
<circle cx="530.0" cy="214.4" r="0.73" fill="#4ae244" fill-opacity="0.9"/>
<circle cx="522.5" cy="216.7" r="1.12" fill="#4ae244" fill-opacity="0.9"/>
<circle cx="532.6" cy="213.1" r="1.05" fill="#4ae244" fill-opacity="0.9"/>
<circle cx="525.2" cy="213.0" r="0.93" fill="#4ae244" fill-opacity="0.9"/>
<circle cx="527.0" cy="218.8" r="0.74" fill="#4ae244" fill-opacity="0.9"/>
<circle cx="523.7" cy="213.2" r="1.00" fill="#4ae244" fill-opacity="0.9"/>
<circle cx="525.0" cy="215.8" r="1.14" fill="#4ae244" fill-opacity="0.9"/>
<circle cx="528.7" cy="209.9" r="0.77" fill="#4ae244" fill-opacity="0.9"/>
<ellipse cx="509.4" cy="94.6" rx="6.45" ry="5.38" transform="rotate(108 509.4 94.6)" fill="#da4a1a" fill-opacity="0.9"/>
<circle cx="509.4" cy="94.4" r="2.16" fill="#b4e634" fill-opacity="0.85"/>
<circle cx="508.8" cy="93.5" r="2.20" fill="#b4e634" fill-opacity="0.85"/>
<circle cx="511.3" cy="91.0" r="1.56" fill="#b4e634" fill-opacity="0.85"/>
<circle cx="507.9" cy="93.8" r="1.60" fill="#b4e634" fill-opacity="0.85"/>
<ellipse cx="491.2" cy="98.2" rx="4.09" ry="3.07" transform="rotate(137 491.2 98.2)" fill="#d63418" fill-opacity="0.9"/>
<circle cx="489.4" cy="97.7" r="1.54" fill="#ff4a22" fill-opacity="0.85"/>
<circle cx="492.2" cy="97.6" r="1.80" fill="#ff4a22" fill-opacity="0.85"/>
<circle cx="492.1" cy="98.4" r="1.53" fill="#ff4a22" fill-opacity="0.85"/>
<circle cx="490.9" cy="96.3" r="0.97" fill="#6a1a10" fill-opacity="0.6"/>
<circle cx="489.9" cy="98.4" r="0.92" fill="#6a1a10" fill-opacity="0.6"/>
<ellipse cx="500.3" cy="111.9" rx="3.81" ry="2.46" transform="rotate(127 500.3 111.9)" fill="#d63418" fill-opacity="0.9"/>
<circle cx="499.6" cy="113.3" r="1.08" fill="#ff4a22" fill-opacity="0.85"/>
<circle cx="500.3" cy="111.8" r="1.39" fill="#ff4a22" fill-opacity="0.85"/>
<circle cx="500.4" cy="111.5" r="1.25" fill="#ff4a22" fill-opacity="0.85"/>
<circle cx="500.5" cy="113.1" r="0.80" fill="#6a1a10" fill-opacity="0.6"/>
<circle cx="499.9" cy="111.5" r="0.83" fill="#6a1a10" fill-opacity="0.6"/>
<ellipse cx="471.2" cy="112.8" rx="6.34" ry="5.34" transform="rotate(172 471.2 112.8)" fill="#d63418" fill-opacity="0.9"/>
<circle cx="471.2" cy="114.3" r="2.15" fill="#ff4a22" fill-opacity="0.85"/>
<circle cx="469.8" cy="114.8" r="1.96" fill="#ff4a22" fill-opacity="0.85"/>
<circle cx="469.0" cy="112.0" r="2.64" fill="#ff4a22" fill-opacity="0.85"/>
<circle cx="472.0" cy="112.9" r="1.34" fill="#6a1a10" fill-opacity="0.6"/>
<circle cx="471.7" cy="112.6" r="1.66" fill="#6a1a10" fill-opacity="0.6"/>
<ellipse cx="441.2" cy="111.9" rx="3.03" ry="2.66" transform="rotate(71 441.2 111.9)" fill="#d63418" fill-opacity="0.9"/>
<circle cx="441.7" cy="112.1" r="0.97" fill="#ff4a22" fill-opacity="0.85"/>
<circle cx="441.5" cy="112.2" r="1.22" fill="#ff4a22" fill-opacity="0.85"/>
<circle cx="441.0" cy="111.8" r="1.26" fill="#ff4a22" fill-opacity="0.85"/>
<circle cx="441.0" cy="111.9" r="0.82" fill="#6a1a10" fill-opacity="0.6"/>
<circle cx="441.3" cy="111.6" r="0.87" fill="#6a1a10" fill-opacity="0.6"/>
<ellipse cx="436.6" cy="84.6" rx="3.78" ry="2.80" transform="rotate(146 436.6 84.6)" fill="#da4a1a" fill-opacity="0.9"/>
<circle cx="438.3" cy="82.8" r="0.94" fill="#b4e634" fill-opacity="0.85"/>
<circle cx="436.8" cy="82.3" r="1.29" fill="#b4e634" fill-opacity="0.85"/>
<circle cx="438.1" cy="82.0" r="1.09" fill="#b4e634" fill-opacity="0.85"/>
<circle cx="438.0" cy="82.2" r="1.08" fill="#b4e634" fill-opacity="0.85"/>
<ellipse cx="456.7" cy="79.1" rx="2.96" ry="2.61" transform="rotate(123 456.7 79.1)" fill="#8c2414" fill-opacity="0.75"/>
<circle cx="456.4" cy="79.0" r="1.01" fill="#b02c18" fill-opacity="0.7"/>
<circle cx="456.5" cy="79.1" r="1.29" fill="#b02c18" fill-opacity="0.7"/>
<ellipse cx="450.3" cy="85.5" rx="2.70" ry="2.52" transform="rotate(160 450.3 85.5)" fill="#8c2414" fill-opacity="0.75"/>
<circle cx="450.2" cy="85.4" r="1.25" fill="#b02c18" fill-opacity="0.7"/>
<circle cx="450.3" cy="85.1" r="0.94" fill="#b02c18" fill-opacity="0.7"/>
<ellipse cx="502.2" cy="89.1" rx="3.01" ry="2.38" transform="rotate(51 502.2 89.1)" fill="#8c2414" fill-opacity="0.75"/>
<circle cx="502.3" cy="88.9" r="0.95" fill="#b02c18" fill-opacity="0.7"/>
<circle cx="501.6" cy="90.0" r="0.97" fill="#b02c18" fill-opacity="0.7"/>
<ellipse cx="514.9" cy="123.7" rx="4.20" ry="2.87" transform="rotate(13 514.9 123.7)" fill="#da4a1a" fill-opacity="0.9"/>
<circle cx="514.8" cy="123.5" r="1.04" fill="#b4e634" fill-opacity="0.85"/>
<circle cx="513.5" cy="121.5" r="1.14" fill="#b4e634" fill-opacity="0.85"/>
<circle cx="514.8" cy="123.7" r="1.10" fill="#b4e634" fill-opacity="0.85"/>
<circle cx="515.0" cy="126.1" r="1.34" fill="#b4e634" fill-opacity="0.85"/>
<ellipse cx="453.0" cy="132.8" rx="5.03" ry="4.20" transform="rotate(141 453.0 132.8)" fill="#d63418" fill-opacity="0.9"/>
<circle cx="453.7" cy="133.5" r="1.72" fill="#ff4a22" fill-opacity="0.85"/>
<circle cx="452.6" cy="134.6" r="1.66" fill="#ff4a22" fill-opacity="0.85"/>
<circle cx="452.7" cy="133.4" r="2.15" fill="#ff4a22" fill-opacity="0.85"/>
<circle cx="452.2" cy="131.9" r="1.03" fill="#6a1a10" fill-opacity="0.6"/>
<circle cx="455.1" cy="131.7" r="1.09" fill="#6a1a10" fill-opacity="0.6"/>
<ellipse cx="484.9" cy="120.1" rx="3.07" ry="2.25" transform="rotate(102 484.9 120.1)" fill="#8c2414" fill-opacity="0.75"/>
<circle cx="484.9" cy="120.2" r="1.13" fill="#b02c18" fill-opacity="0.7"/>
<circle cx="484.9" cy="119.9" r="1.09" fill="#b02c18" fill-opacity="0.7"/>
<ellipse cx="493.1" cy="61.8" rx="4.98" ry="3.88" transform="rotate(178 493.1 61.8)" fill="#d63418" fill-opacity="0.9"/>
<circle cx="494.3" cy="59.9" r="1.78" fill="#ff4a22" fill-opacity="0.85"/>
<circle cx="494.2" cy="62.9" r="2.06" fill="#ff4a22" fill-opacity="0.85"/>
<circle cx="494.6" cy="61.0" r="1.73" fill="#ff4a22" fill-opacity="0.85"/>
<circle cx="492.4" cy="61.7" r="1.08" fill="#6a1a10" fill-opacity="0.6"/>
<circle cx="490.9" cy="62.3" r="1.43" fill="#6a1a10" fill-opacity="0.6"/>
<ellipse cx="480.3" cy="59.1" rx="3.98" ry="3.57" transform="rotate(167 480.3 59.1)" fill="#d63418" fill-opacity="0.9"/>
<circle cx="481.5" cy="60.5" r="1.58" fill="#ff4a22" fill-opacity="0.85"/>
<circle cx="480.9" cy="58.5" r="1.79" fill="#ff4a22" fill-opacity="0.85"/>
<circle cx="482.0" cy="59.4" r="1.69" fill="#ff4a22" fill-opacity="0.85"/>
<circle cx="479.1" cy="60.3" r="0.73" fill="#6a1a10" fill-opacity="0.6"/>
<circle cx="480.3" cy="58.2" r="0.85" fill="#6a1a10" fill-opacity="0.6"/>
<ellipse cx="513.1" cy="62.7" rx="3.03" ry="2.54" transform="rotate(35 513.1 62.7)" fill="#8c2414" fill-opacity="0.75"/>
<circle cx="514.1" cy="63.3" r="1.00" fill="#b02c18" fill-opacity="0.7"/>
<circle cx="512.7" cy="63.1" r="1.16" fill="#b02c18" fill-opacity="0.7"/>
<ellipse cx="440.0" cy="55.0" rx="3.27" ry="2.48" transform="rotate(160 440.0 55.0)" fill="#da4a1a" fill-opacity="0.9"/>
<circle cx="439.8" cy="55.2" r="0.69" fill="#b4e634" fill-opacity="0.85"/>
<circle cx="438.7" cy="54.8" r="0.87" fill="#b4e634" fill-opacity="0.85"/>
<circle cx="440.9" cy="54.9" r="0.83" fill="#b4e634" fill-opacity="0.85"/>
<circle cx="439.7" cy="55.2" r="1.11" fill="#b4e634" fill-opacity="0.85"/>
<ellipse cx="562.7" cy="51.8" rx="3.83" ry="3.14" transform="rotate(106 562.7 51.8)" fill="#8c2414" fill-opacity="0.75"/>
<circle cx="562.7" cy="52.3" r="1.50" fill="#b02c18" fill-opacity="0.7"/>
<circle cx="561.2" cy="52.3" r="1.54" fill="#b02c18" fill-opacity="0.7"/>
<ellipse cx="581.8" cy="57.3" rx="4.55" ry="3.66" transform="rotate(37 581.8 57.3)" fill="#da4a1a" fill-opacity="0.9"/>
<circle cx="580.1" cy="59.7" r="1.81" fill="#b4e634" fill-opacity="0.85"/>
<circle cx="582.1" cy="60.2" r="1.45" fill="#b4e634" fill-opacity="0.85"/>
<circle cx="579.9" cy="56.8" r="1.13" fill="#b4e634" fill-opacity="0.85"/>
<circle cx="584.1" cy="58.3" r="1.65" fill="#b4e634" fill-opacity="0.85"/>
<ellipse cx="524.5" cy="79.1" rx="6.50" ry="5.18" transform="rotate(68 524.5 79.1)" fill="#da4a1a" fill-opacity="0.9"/>
<circle cx="524.4" cy="79.4" r="1.85" fill="#b4e634" fill-opacity="0.85"/>
<circle cx="523.9" cy="78.3" r="1.36" fill="#b4e634" fill-opacity="0.85"/>
<circle cx="524.3" cy="79.1" r="2.03" fill="#b4e634" fill-opacity="0.85"/>
<circle cx="523.6" cy="78.2" r="1.75" fill="#b4e634" fill-opacity="0.85"/>
<ellipse cx="529.9" cy="97.3" rx="4.69" ry="3.68" transform="rotate(42 529.9 97.3)" fill="#d63418" fill-opacity="0.9"/>
<circle cx="530.4" cy="96.3" r="2.04" fill="#ff4a22" fill-opacity="0.85"/>
<circle cx="528.7" cy="98.9" r="1.95" fill="#ff4a22" fill-opacity="0.85"/>
<circle cx="529.3" cy="96.5" r="1.92" fill="#ff4a22" fill-opacity="0.85"/>
<circle cx="530.8" cy="99.6" r="1.25" fill="#6a1a10" fill-opacity="0.6"/>
<circle cx="528.3" cy="97.0" r="0.83" fill="#6a1a10" fill-opacity="0.6"/>
<ellipse cx="522.6" cy="94.6" rx="2.84" ry="2.61" transform="rotate(60 522.6 94.6)" fill="#d63418" fill-opacity="0.9"/>
<circle cx="523.3" cy="94.7" r="1.29" fill="#ff4a22" fill-opacity="0.85"/>
<circle cx="522.8" cy="93.5" r="1.04" fill="#ff4a22" fill-opacity="0.85"/>
<circle cx="522.7" cy="95.6" r="1.03" fill="#ff4a22" fill-opacity="0.85"/>
<circle cx="522.5" cy="94.1" r="0.79" fill="#6a1a10" fill-opacity="0.6"/>
<circle cx="521.5" cy="94.1" r="0.89" fill="#6a1a10" fill-opacity="0.6"/>
<ellipse cx="562.7" cy="77.3" rx="5.24" ry="3.51" transform="rotate(68 562.7 77.3)" fill="#8c2414" fill-opacity="0.75"/>
<circle cx="562.7" cy="77.3" r="1.91" fill="#b02c18" fill-opacity="0.7"/>
<circle cx="561.5" cy="78.3" r="1.74" fill="#b02c18" fill-opacity="0.7"/>
<ellipse cx="568.1" cy="73.7" rx="3.17" ry="2.43" transform="rotate(37 568.1 73.7)" fill="#d63418" fill-opacity="0.9"/>
<circle cx="568.1" cy="73.0" r="0.92" fill="#ff4a22" fill-opacity="0.85"/>
<circle cx="568.1" cy="73.4" r="1.11" fill="#ff4a22" fill-opacity="0.85"/>
<circle cx="568.5" cy="73.7" r="1.20" fill="#ff4a22" fill-opacity="0.85"/>
<circle cx="568.2" cy="72.7" r="0.65" fill="#6a1a10" fill-opacity="0.6"/>
<circle cx="568.0" cy="72.7" r="0.54" fill="#6a1a10" fill-opacity="0.6"/>
<ellipse cx="599.1" cy="72.8" rx="5.10" ry="4.23" transform="rotate(96 599.1 72.8)" fill="#d63418" fill-opacity="0.9"/>
<circle cx="599.4" cy="73.5" r="1.76" fill="#ff4a22" fill-opacity="0.85"/>
<circle cx="599.8" cy="73.3" r="2.05" fill="#ff4a22" fill-opacity="0.85"/>
<circle cx="598.7" cy="72.6" r="2.05" fill="#ff4a22" fill-opacity="0.85"/>
<circle cx="600.5" cy="74.1" r="0.86" fill="#6a1a10" fill-opacity="0.6"/>
<circle cx="599.6" cy="73.2" r="1.14" fill="#6a1a10" fill-opacity="0.6"/>
<ellipse cx="595.4" cy="66.4" rx="3.08" ry="2.66" transform="rotate(49 595.4 66.4)" fill="#8c2414" fill-opacity="0.75"/>
<circle cx="595.2" cy="67.3" r="1.21" fill="#b02c18" fill-opacity="0.7"/>
<circle cx="595.1" cy="66.3" r="1.33" fill="#b02c18" fill-opacity="0.7"/>
<ellipse cx="573.6" cy="95.5" rx="4.51" ry="3.83" transform="rotate(172 573.6 95.5)" fill="#d63418" fill-opacity="0.9"/>
<circle cx="573.4" cy="95.9" r="1.82" fill="#ff4a22" fill-opacity="0.85"/>
<circle cx="573.6" cy="95.5" r="2.13" fill="#ff4a22" fill-opacity="0.85"/>
<circle cx="573.6" cy="95.5" r="2.17" fill="#ff4a22" fill-opacity="0.85"/>
<circle cx="573.5" cy="96.0" r="0.84" fill="#6a1a10" fill-opacity="0.6"/>
<circle cx="573.4" cy="95.7" r="0.88" fill="#6a1a10" fill-opacity="0.6"/>
<ellipse cx="580.9" cy="99.1" rx="5.08" ry="3.95" transform="rotate(45 580.9 99.1)" fill="#d63418" fill-opacity="0.9"/>
<circle cx="580.5" cy="100.3" r="2.08" fill="#ff4a22" fill-opacity="0.85"/>
<circle cx="580.8" cy="98.3" r="2.19" fill="#ff4a22" fill-opacity="0.85"/>
<circle cx="581.3" cy="97.7" r="1.86" fill="#ff4a22" fill-opacity="0.85"/>
<circle cx="580.7" cy="99.4" r="1.41" fill="#6a1a10" fill-opacity="0.6"/>
<circle cx="580.7" cy="98.9" r="1.44" fill="#6a1a10" fill-opacity="0.6"/>
<ellipse cx="595.4" cy="89.1" rx="2.57" ry="2.52" transform="rotate(160 595.4 89.1)" fill="#8c2414" fill-opacity="0.75"/>
<circle cx="595.4" cy="89.7" r="1.28" fill="#b02c18" fill-opacity="0.7"/>
<circle cx="595.0" cy="89.6" r="1.20" fill="#b02c18" fill-opacity="0.7"/>
<ellipse cx="602.7" cy="107.3" rx="5.13" ry="3.93" transform="rotate(35 602.7 107.3)" fill="#da4a1a" fill-opacity="0.9"/>
<circle cx="603.4" cy="107.2" r="1.67" fill="#b4e634" fill-opacity="0.85"/>
<circle cx="603.7" cy="107.6" r="1.19" fill="#b4e634" fill-opacity="0.85"/>
<circle cx="603.9" cy="108.9" r="1.24" fill="#b4e634" fill-opacity="0.85"/>
<circle cx="602.8" cy="107.0" r="1.60" fill="#b4e634" fill-opacity="0.85"/>
<ellipse cx="537.2" cy="108.2" rx="2.78" ry="2.23" transform="rotate(155 537.2 108.2)" fill="#d63418" fill-opacity="0.9"/>
<circle cx="537.3" cy="107.5" r="1.32" fill="#ff4a22" fill-opacity="0.85"/>
<circle cx="536.9" cy="108.7" r="1.33" fill="#ff4a22" fill-opacity="0.85"/>
<circle cx="536.4" cy="109.4" r="1.30" fill="#ff4a22" fill-opacity="0.85"/>
<circle cx="537.5" cy="109.0" r="0.87" fill="#6a1a10" fill-opacity="0.6"/>
<circle cx="538.1" cy="109.1" r="0.80" fill="#6a1a10" fill-opacity="0.6"/>
<ellipse cx="527.2" cy="117.3" rx="4.08" ry="2.88" transform="rotate(135 527.2 117.3)" fill="#d63418" fill-opacity="0.9"/>
<circle cx="527.4" cy="117.2" r="1.67" fill="#ff4a22" fill-opacity="0.85"/>
<circle cx="527.1" cy="116.7" r="1.61" fill="#ff4a22" fill-opacity="0.85"/>
<circle cx="525.9" cy="118.1" r="1.23" fill="#ff4a22" fill-opacity="0.85"/>
<circle cx="527.9" cy="117.0" r="1.08" fill="#6a1a10" fill-opacity="0.6"/>
<circle cx="525.6" cy="117.6" r="0.78" fill="#6a1a10" fill-opacity="0.6"/>
<ellipse cx="543.6" cy="119.2" rx="4.53" ry="3.99" transform="rotate(98 543.6 119.2)" fill="#d63418" fill-opacity="0.9"/>
<circle cx="545.5" cy="120.2" r="2.01" fill="#ff4a22" fill-opacity="0.85"/>
<circle cx="541.4" cy="120.3" r="2.21" fill="#ff4a22" fill-opacity="0.85"/>
<circle cx="543.8" cy="119.1" r="2.03" fill="#ff4a22" fill-opacity="0.85"/>
<circle cx="543.4" cy="117.7" r="0.76" fill="#6a1a10" fill-opacity="0.6"/>
<circle cx="544.6" cy="118.7" r="1.20" fill="#6a1a10" fill-opacity="0.6"/>
<ellipse cx="533.6" cy="128.3" rx="3.82" ry="2.82" transform="rotate(147 533.6 128.3)" fill="#d63418" fill-opacity="0.9"/>
<circle cx="534.1" cy="128.0" r="1.22" fill="#ff4a22" fill-opacity="0.85"/>
<circle cx="534.9" cy="129.8" r="1.64" fill="#ff4a22" fill-opacity="0.85"/>
<circle cx="533.7" cy="128.6" r="1.74" fill="#ff4a22" fill-opacity="0.85"/>
<circle cx="533.0" cy="127.3" r="0.68" fill="#6a1a10" fill-opacity="0.6"/>
<circle cx="532.0" cy="129.3" r="0.60" fill="#6a1a10" fill-opacity="0.6"/>
<ellipse cx="482.7" cy="140.7" rx="4.56" ry="4.50" transform="rotate(75 482.7 140.7)" fill="#d63418" fill-opacity="0.9"/>
<circle cx="484.6" cy="142.2" r="2.13" fill="#ff4a22" fill-opacity="0.85"/>
<circle cx="482.7" cy="140.6" r="2.02" fill="#ff4a22" fill-opacity="0.85"/>
<circle cx="481.5" cy="140.8" r="1.61" fill="#ff4a22" fill-opacity="0.85"/>
<circle cx="480.7" cy="140.5" r="0.85" fill="#6a1a10" fill-opacity="0.6"/>
<circle cx="483.4" cy="140.0" r="0.95" fill="#6a1a10" fill-opacity="0.6"/>
<ellipse cx="440.4" cy="155.4" rx="3.97" ry="3.32" transform="rotate(43 440.4 155.4)" fill="#d63418" fill-opacity="0.9"/>
<circle cx="438.8" cy="154.6" r="1.51" fill="#ff4a22" fill-opacity="0.85"/>
<circle cx="438.4" cy="155.2" r="1.33" fill="#ff4a22" fill-opacity="0.85"/>
<circle cx="441.1" cy="155.5" r="1.39" fill="#ff4a22" fill-opacity="0.85"/>
<circle cx="441.0" cy="156.0" r="0.62" fill="#6a1a10" fill-opacity="0.6"/>
<circle cx="441.3" cy="154.9" r="1.13" fill="#6a1a10" fill-opacity="0.6"/>
<ellipse cx="442.2" cy="166.4" rx="5.23" ry="4.26" transform="rotate(126 442.2 166.4)" fill="#da4a1a" fill-opacity="0.9"/>
<circle cx="441.3" cy="169.0" r="1.26" fill="#b4e634" fill-opacity="0.85"/>
<circle cx="440.1" cy="165.6" r="1.72" fill="#b4e634" fill-opacity="0.85"/>
<circle cx="442.8" cy="167.5" r="1.76" fill="#b4e634" fill-opacity="0.85"/>
<circle cx="443.4" cy="162.9" r="1.19" fill="#b4e634" fill-opacity="0.85"/>
<ellipse cx="438.5" cy="174.7" rx="4.61" ry="4.22" transform="rotate(38 438.5 174.7)" fill="#da4a1a" fill-opacity="0.9"/>
<circle cx="438.4" cy="172.3" r="1.72" fill="#b4e634" fill-opacity="0.85"/>
<circle cx="436.4" cy="174.5" r="1.84" fill="#b4e634" fill-opacity="0.85"/>
<circle cx="437.0" cy="172.7" r="1.57" fill="#b4e634" fill-opacity="0.85"/>
<circle cx="435.7" cy="174.8" r="1.56" fill="#b4e634" fill-opacity="0.85"/>
<ellipse cx="489.1" cy="154.5" rx="4.93" ry="3.92" transform="rotate(23 489.1 154.5)" fill="#d63418" fill-opacity="0.9"/>
<circle cx="487.8" cy="155.1" r="1.77" fill="#ff4a22" fill-opacity="0.85"/>
<circle cx="488.3" cy="155.2" r="1.78" fill="#ff4a22" fill-opacity="0.85"/>
<circle cx="489.3" cy="154.5" r="1.51" fill="#ff4a22" fill-opacity="0.85"/>
<circle cx="488.9" cy="153.5" r="1.09" fill="#6a1a10" fill-opacity="0.6"/>
<circle cx="488.3" cy="154.0" r="0.93" fill="#6a1a10" fill-opacity="0.6"/>
<ellipse cx="496.5" cy="158.2" rx="3.22" ry="2.66" transform="rotate(3 496.5 158.2)" fill="#d63418" fill-opacity="0.9"/>
<circle cx="496.3" cy="158.9" r="1.05" fill="#ff4a22" fill-opacity="0.85"/>
<circle cx="497.8" cy="158.7" r="1.28" fill="#ff4a22" fill-opacity="0.85"/>
<circle cx="496.5" cy="158.6" r="1.21" fill="#ff4a22" fill-opacity="0.85"/>
<circle cx="496.7" cy="157.5" r="0.62" fill="#6a1a10" fill-opacity="0.6"/>
<circle cx="496.6" cy="159.4" r="0.84" fill="#6a1a10" fill-opacity="0.6"/>
<ellipse cx="503.8" cy="156.3" rx="4.61" ry="4.09" transform="rotate(154 503.8 156.3)" fill="#da4a1a" fill-opacity="0.9"/>
<circle cx="506.5" cy="156.1" r="1.47" fill="#b4e634" fill-opacity="0.85"/>
<circle cx="503.9" cy="156.5" r="1.69" fill="#b4e634" fill-opacity="0.85"/>
<circle cx="506.6" cy="157.6" r="1.63" fill="#b4e634" fill-opacity="0.85"/>
<circle cx="500.5" cy="156.9" r="1.85" fill="#b4e634" fill-opacity="0.85"/>
<ellipse cx="510.2" cy="169.2" rx="4.14" ry="3.68" transform="rotate(111 510.2 169.2)" fill="#d63418" fill-opacity="0.9"/>
<circle cx="509.7" cy="169.5" r="1.98" fill="#ff4a22" fill-opacity="0.85"/>
<circle cx="510.2" cy="168.9" r="1.50" fill="#ff4a22" fill-opacity="0.85"/>
<circle cx="509.5" cy="170.3" r="1.57" fill="#ff4a22" fill-opacity="0.85"/>
<circle cx="508.5" cy="169.9" r="0.80" fill="#6a1a10" fill-opacity="0.6"/>
<circle cx="510.1" cy="168.5" r="1.31" fill="#6a1a10" fill-opacity="0.6"/>
<ellipse cx="494.6" cy="170.1" rx="2.75" ry="2.46" transform="rotate(171 494.6 170.1)" fill="#8c2414" fill-opacity="0.75"/>
<circle cx="495.0" cy="170.4" r="1.18" fill="#b02c18" fill-opacity="0.7"/>
<circle cx="494.3" cy="169.8" r="0.92" fill="#b02c18" fill-opacity="0.7"/>
<ellipse cx="476.2" cy="179.3" rx="5.06" ry="3.67" transform="rotate(22 476.2 179.3)" fill="#d63418" fill-opacity="0.9"/>
<circle cx="475.7" cy="180.8" r="2.18" fill="#ff4a22" fill-opacity="0.85"/>
<circle cx="475.6" cy="179.2" r="1.94" fill="#ff4a22" fill-opacity="0.85"/>
<circle cx="475.9" cy="181.2" r="1.62" fill="#ff4a22" fill-opacity="0.85"/>
<circle cx="476.1" cy="180.4" r="1.43" fill="#6a1a10" fill-opacity="0.6"/>
<circle cx="476.4" cy="179.7" r="0.85" fill="#6a1a10" fill-opacity="0.6"/>
<ellipse cx="458.7" cy="183.9" rx="6.77" ry="5.45" transform="rotate(38 458.7 183.9)" fill="#d63418" fill-opacity="0.9"/>
<circle cx="458.8" cy="182.5" r="2.60" fill="#ff4a22" fill-opacity="0.85"/>
<circle cx="456.5" cy="185.5" r="3.05" fill="#ff4a22" fill-opacity="0.85"/>
<circle cx="455.8" cy="185.4" r="2.36" fill="#ff4a22" fill-opacity="0.85"/>
<circle cx="460.5" cy="183.6" r="1.77" fill="#6a1a10" fill-opacity="0.6"/>
<circle cx="458.0" cy="184.5" r="1.19" fill="#6a1a10" fill-opacity="0.6"/>
<ellipse cx="490.9" cy="187.6" rx="3.89" ry="3.36" transform="rotate(159 490.9 187.6)" fill="#d63418" fill-opacity="0.9"/>
<circle cx="489.9" cy="187.9" r="1.32" fill="#ff4a22" fill-opacity="0.85"/>
<circle cx="491.2" cy="188.2" r="1.61" fill="#ff4a22" fill-opacity="0.85"/>
<circle cx="490.9" cy="187.6" r="1.63" fill="#ff4a22" fill-opacity="0.85"/>
<circle cx="490.8" cy="187.7" r="0.76" fill="#6a1a10" fill-opacity="0.6"/>
<circle cx="491.3" cy="189.2" r="0.93" fill="#6a1a10" fill-opacity="0.6"/>
<ellipse cx="465.2" cy="203.2" rx="3.80" ry="3.03" transform="rotate(59 465.2 203.2)" fill="#d63418" fill-opacity="0.9"/>
<circle cx="465.1" cy="203.9" r="1.67" fill="#ff4a22" fill-opacity="0.85"/>
<circle cx="465.5" cy="201.8" r="1.73" fill="#ff4a22" fill-opacity="0.85"/>
<circle cx="465.1" cy="203.0" r="1.23" fill="#ff4a22" fill-opacity="0.85"/>
<circle cx="465.5" cy="203.6" r="0.92" fill="#6a1a10" fill-opacity="0.6"/>
<circle cx="465.7" cy="202.1" r="0.86" fill="#6a1a10" fill-opacity="0.6"/>
<ellipse cx="576.0" cy="147.1" rx="4.39" ry="3.40" transform="rotate(44 576.0 147.1)" fill="#da4a1a" fill-opacity="0.9"/>
<circle cx="575.9" cy="147.2" r="1.51" fill="#b4e634" fill-opacity="0.85"/>
<circle cx="575.9" cy="149.6" r="0.96" fill="#b4e634" fill-opacity="0.85"/>
<circle cx="575.4" cy="146.2" r="1.45" fill="#b4e634" fill-opacity="0.85"/>
<circle cx="575.9" cy="147.4" r="1.01" fill="#b4e634" fill-opacity="0.85"/>
<ellipse cx="574.2" cy="153.6" rx="3.14" ry="2.49" transform="rotate(145 574.2 153.6)" fill="#8c2414" fill-opacity="0.75"/>
<circle cx="574.1" cy="153.3" r="1.02" fill="#b02c18" fill-opacity="0.7"/>
<circle cx="575.2" cy="154.2" r="0.92" fill="#b02c18" fill-opacity="0.7"/>
<ellipse cx="586.1" cy="146.2" rx="3.68" ry="2.95" transform="rotate(110 586.1 146.2)" fill="#8c2414" fill-opacity="0.75"/>
<circle cx="584.7" cy="146.8" r="1.35" fill="#b02c18" fill-opacity="0.7"/>
<circle cx="586.6" cy="147.1" r="1.59" fill="#b02c18" fill-opacity="0.7"/>
<ellipse cx="592.6" cy="157.2" rx="4.68" ry="4.37" transform="rotate(92 592.6 157.2)" fill="#da4a1a" fill-opacity="0.9"/>
<circle cx="593.1" cy="157.6" r="1.29" fill="#b4e634" fill-opacity="0.85"/>
<circle cx="590.8" cy="157.0" r="1.54" fill="#b4e634" fill-opacity="0.85"/>
<circle cx="592.1" cy="153.9" r="1.47" fill="#b4e634" fill-opacity="0.85"/>
<circle cx="595.6" cy="158.0" r="1.11" fill="#b4e634" fill-opacity="0.85"/>
<ellipse cx="599.9" cy="154.5" rx="2.64" ry="2.46" transform="rotate(57 599.9 154.5)" fill="#8c2414" fill-opacity="0.75"/>
<circle cx="599.9" cy="154.3" r="1.03" fill="#b02c18" fill-opacity="0.7"/>
<circle cx="600.4" cy="153.8" r="0.95" fill="#b02c18" fill-opacity="0.7"/>
<ellipse cx="545.7" cy="160.0" rx="6.35" ry="4.69" transform="rotate(124 545.7 160.0)" fill="#d63418" fill-opacity="0.9"/>
<circle cx="546.8" cy="161.6" r="2.09" fill="#ff4a22" fill-opacity="0.85"/>
<circle cx="546.0" cy="160.4" r="2.16" fill="#ff4a22" fill-opacity="0.85"/>
<circle cx="546.5" cy="160.8" r="2.30" fill="#ff4a22" fill-opacity="0.85"/>
<circle cx="544.6" cy="159.6" r="1.62" fill="#6a1a10" fill-opacity="0.6"/>
<circle cx="546.5" cy="160.5" r="1.74" fill="#6a1a10" fill-opacity="0.6"/>
<ellipse cx="560.4" cy="176.5" rx="5.17" ry="4.27" transform="rotate(156 560.4 176.5)" fill="#8c2414" fill-opacity="0.75"/>
<circle cx="558.9" cy="176.1" r="1.93" fill="#b02c18" fill-opacity="0.7"/>
<circle cx="560.8" cy="176.8" r="1.57" fill="#b02c18" fill-opacity="0.7"/>
<ellipse cx="565.9" cy="194.0" rx="5.79" ry="4.69" transform="rotate(158 565.9 194.0)" fill="#da4a1a" fill-opacity="0.9"/>
<circle cx="565.5" cy="193.9" r="2.00" fill="#b4e634" fill-opacity="0.85"/>
<circle cx="566.9" cy="190.6" r="2.17" fill="#b4e634" fill-opacity="0.85"/>
<circle cx="565.6" cy="194.6" r="2.05" fill="#b4e634" fill-opacity="0.85"/>
<circle cx="565.3" cy="192.4" r="1.65" fill="#b4e634" fill-opacity="0.85"/>
<ellipse cx="531.9" cy="193.1" rx="5.33" ry="3.96" transform="rotate(28 531.9 193.1)" fill="#d63418" fill-opacity="0.9"/>
<circle cx="532.2" cy="192.3" r="1.74" fill="#ff4a22" fill-opacity="0.85"/>
<circle cx="530.0" cy="192.9" r="2.16" fill="#ff4a22" fill-opacity="0.85"/>
<circle cx="530.9" cy="194.5" r="1.80" fill="#ff4a22" fill-opacity="0.85"/>
<circle cx="533.1" cy="191.6" r="1.17" fill="#6a1a10" fill-opacity="0.6"/>
<circle cx="531.5" cy="193.6" r="1.41" fill="#6a1a10" fill-opacity="0.6"/>
<ellipse cx="544.7" cy="199.5" rx="3.64" ry="2.87" transform="rotate(144 544.7 199.5)" fill="#8c2414" fill-opacity="0.75"/>
<circle cx="545.2" cy="201.0" r="1.22" fill="#b02c18" fill-opacity="0.7"/>
<circle cx="545.0" cy="198.7" r="1.53" fill="#b02c18" fill-opacity="0.7"/>
<ellipse cx="594.4" cy="200.5" rx="2.80" ry="2.43" transform="rotate(97 594.4 200.5)" fill="#8c2414" fill-opacity="0.75"/>
<circle cx="595.3" cy="201.1" r="0.95" fill="#b02c18" fill-opacity="0.7"/>
<circle cx="594.9" cy="201.1" r="1.19" fill="#b02c18" fill-opacity="0.7"/>
<ellipse cx="556.7" cy="214.2" rx="4.15" ry="3.54" transform="rotate(145 556.7 214.2)" fill="#d63418" fill-opacity="0.9"/>
<circle cx="556.7" cy="214.2" r="1.34" fill="#ff4a22" fill-opacity="0.85"/>
<circle cx="556.8" cy="213.9" r="1.52" fill="#ff4a22" fill-opacity="0.85"/>
<circle cx="556.7" cy="213.9" r="1.52" fill="#ff4a22" fill-opacity="0.85"/>
<circle cx="557.9" cy="213.3" r="0.84" fill="#6a1a10" fill-opacity="0.6"/>
<circle cx="556.1" cy="214.3" r="1.18" fill="#6a1a10" fill-opacity="0.6"/>
<ellipse cx="591.6" cy="215.2" rx="3.94" ry="3.04" transform="rotate(141 591.6 215.2)" fill="#8c2414" fill-opacity="0.75"/>
<circle cx="591.5" cy="214.4" r="1.68" fill="#b02c18" fill-opacity="0.7"/>
<circle cx="590.7" cy="216.3" r="1.61" fill="#b02c18" fill-opacity="0.7"/>
<ellipse cx="527.3" cy="214.2" rx="2.89" ry="2.58" transform="rotate(81 527.3 214.2)" fill="#8c2414" fill-opacity="0.75"/>
<circle cx="526.2" cy="214.0" r="0.90" fill="#b02c18" fill-opacity="0.7"/>
<circle cx="528.0" cy="213.7" r="1.12" fill="#b02c18" fill-opacity="0.7"/>
<ellipse cx="511.3" cy="99.1" rx="2.70" ry="1.91" transform="rotate(153 511.3 99.1)" fill="#23a024" fill-opacity="0.55"/>
<circle cx="510.5" cy="100.4" r="1.24" fill="#48e442" fill-opacity="0.9"/>
<circle cx="509.8" cy="100.6" r="1.14" fill="#48e442" fill-opacity="0.9"/>
<circle cx="511.5" cy="99.2" r="0.80" fill="#48e442" fill-opacity="0.9"/>
<circle cx="510.7" cy="98.8" r="0.91" fill="#48e442" fill-opacity="0.9"/>
<circle cx="511.1" cy="99.2" r="1.30" fill="#48e442" fill-opacity="0.9"/>
<circle cx="511.9" cy="98.1" r="1.02" fill="#48e442" fill-opacity="0.9"/>
<ellipse cx="496.7" cy="106.4" rx="5.40" ry="4.50" transform="rotate(56 496.7 106.4)" fill="#23a024" fill-opacity="0.55"/>
<circle cx="494.4" cy="109.8" r="2.65" fill="#48e442" fill-opacity="0.9"/>
<circle cx="496.2" cy="103.0" r="1.59" fill="#48e442" fill-opacity="0.9"/>
<circle cx="497.7" cy="107.4" r="1.65" fill="#48e442" fill-opacity="0.9"/>
<circle cx="493.0" cy="108.3" r="2.50" fill="#48e442" fill-opacity="0.9"/>
<circle cx="497.6" cy="106.2" r="1.77" fill="#48e442" fill-opacity="0.9"/>
<circle cx="497.8" cy="106.6" r="1.57" fill="#48e442" fill-opacity="0.9"/>
<ellipse cx="464.9" cy="109.2" rx="3.60" ry="2.70" transform="rotate(95 464.9 109.2)" fill="#23a024" fill-opacity="0.55"/>
<circle cx="464.2" cy="107.8" r="1.48" fill="#48e442" fill-opacity="0.9"/>
<circle cx="464.3" cy="111.2" r="1.55" fill="#48e442" fill-opacity="0.9"/>
<circle cx="464.6" cy="107.9" r="1.37" fill="#48e442" fill-opacity="0.9"/>
<circle cx="464.9" cy="109.3" r="1.37" fill="#48e442" fill-opacity="0.9"/>
<circle cx="464.5" cy="108.9" r="1.69" fill="#48e442" fill-opacity="0.9"/>
<circle cx="466.6" cy="107.6" r="1.65" fill="#48e442" fill-opacity="0.9"/>
<ellipse cx="475.8" cy="119.2" rx="2.70" ry="1.93" transform="rotate(88 475.8 119.2)" fill="#23a024" fill-opacity="0.55"/>
<circle cx="475.6" cy="120.7" r="1.34" fill="#48e442" fill-opacity="0.9"/>
<circle cx="475.8" cy="119.2" r="0.96" fill="#48e442" fill-opacity="0.9"/>
<circle cx="475.1" cy="120.2" r="0.82" fill="#48e442" fill-opacity="0.9"/>
<circle cx="476.2" cy="118.6" r="1.30" fill="#48e442" fill-opacity="0.9"/>
<circle cx="475.5" cy="119.8" r="0.86" fill="#48e442" fill-opacity="0.9"/>
<circle cx="477.0" cy="118.9" r="1.25" fill="#48e442" fill-opacity="0.9"/>
<ellipse cx="439.4" cy="107.3" rx="3.60" ry="2.94" transform="rotate(11 439.4 107.3)" fill="#23a024" fill-opacity="0.55"/>
<circle cx="439.1" cy="104.6" r="1.75" fill="#48e442" fill-opacity="0.9"/>
<circle cx="440.2" cy="107.9" r="1.80" fill="#48e442" fill-opacity="0.9"/>
<circle cx="436.8" cy="106.7" r="1.20" fill="#48e442" fill-opacity="0.9"/>
<circle cx="442.0" cy="107.7" r="1.21" fill="#48e442" fill-opacity="0.9"/>
<circle cx="438.5" cy="106.9" r="1.46" fill="#48e442" fill-opacity="0.9"/>
<circle cx="441.8" cy="106.2" r="1.70" fill="#48e442" fill-opacity="0.9"/>
<ellipse cx="442.1" cy="91.9" rx="3.60" ry="3.22" transform="rotate(46 442.1 91.9)" fill="#23a024" fill-opacity="0.55"/>
<circle cx="443.3" cy="92.0" r="1.76" fill="#48e442" fill-opacity="0.9"/>
<circle cx="442.1" cy="92.9" r="1.47" fill="#48e442" fill-opacity="0.9"/>
<circle cx="442.3" cy="93.9" r="1.52" fill="#48e442" fill-opacity="0.9"/>
<circle cx="444.2" cy="93.3" r="1.06" fill="#48e442" fill-opacity="0.9"/>
<circle cx="441.8" cy="91.0" r="1.11" fill="#48e442" fill-opacity="0.9"/>
<circle cx="444.6" cy="93.2" r="1.64" fill="#48e442" fill-opacity="0.9"/>
<ellipse cx="446.7" cy="79.1" rx="2.70" ry="2.40" transform="rotate(83 446.7 79.1)" fill="#23a024" fill-opacity="0.55"/>
<circle cx="448.6" cy="78.7" r="1.07" fill="#48e442" fill-opacity="0.9"/>
<circle cx="446.5" cy="80.2" r="1.34" fill="#48e442" fill-opacity="0.9"/>
<circle cx="446.5" cy="77.7" r="1.26" fill="#48e442" fill-opacity="0.9"/>
<circle cx="445.7" cy="79.7" r="1.26" fill="#48e442" fill-opacity="0.9"/>
<circle cx="447.3" cy="80.8" r="0.76" fill="#48e442" fill-opacity="0.9"/>
<circle cx="445.5" cy="78.8" r="0.84" fill="#48e442" fill-opacity="0.9"/>
<ellipse cx="469.4" cy="94.6" rx="1.80" ry="1.42" transform="rotate(166 469.4 94.6)" fill="#23a024" fill-opacity="0.55"/>
<circle cx="469.6" cy="95.1" r="0.74" fill="#48e442" fill-opacity="0.9"/>
<circle cx="469.4" cy="94.6" r="0.54" fill="#48e442" fill-opacity="0.9"/>
<circle cx="469.4" cy="94.4" r="0.60" fill="#48e442" fill-opacity="0.9"/>
<circle cx="469.8" cy="93.5" r="0.85" fill="#48e442" fill-opacity="0.9"/>
<circle cx="469.4" cy="94.6" r="0.80" fill="#48e442" fill-opacity="0.9"/>
<circle cx="469.0" cy="94.3" r="0.51" fill="#48e442" fill-opacity="0.9"/>
<ellipse cx="500.3" cy="131.0" rx="3.60" ry="2.64" transform="rotate(78 500.3 131.0)" fill="#23a024" fill-opacity="0.55"/>
<circle cx="498.0" cy="129.6" r="1.17" fill="#48e442" fill-opacity="0.9"/>
<circle cx="502.0" cy="131.9" r="1.09" fill="#48e442" fill-opacity="0.9"/>
<circle cx="500.5" cy="132.2" r="1.79" fill="#48e442" fill-opacity="0.9"/>
<circle cx="499.9" cy="131.8" r="1.38" fill="#48e442" fill-opacity="0.9"/>
<circle cx="500.9" cy="132.0" r="1.56" fill="#48e442" fill-opacity="0.9"/>
<circle cx="499.3" cy="133.0" r="1.15" fill="#48e442" fill-opacity="0.9"/>
<ellipse cx="450.3" cy="128.3" rx="2.25" ry="1.89" transform="rotate(18 450.3 128.3)" fill="#23a024" fill-opacity="0.55"/>
<circle cx="448.8" cy="128.8" r="0.68" fill="#48e442" fill-opacity="0.9"/>
<circle cx="450.3" cy="127.1" r="0.81" fill="#48e442" fill-opacity="0.9"/>
<circle cx="451.0" cy="129.1" r="1.00" fill="#48e442" fill-opacity="0.9"/>
<circle cx="449.5" cy="128.4" r="0.97" fill="#48e442" fill-opacity="0.9"/>
<circle cx="449.7" cy="127.8" r="0.72" fill="#48e442" fill-opacity="0.9"/>
<circle cx="449.4" cy="128.5" r="1.07" fill="#48e442" fill-opacity="0.9"/>
<ellipse cx="504.9" cy="58.2" rx="2.70" ry="2.22" transform="rotate(179 504.9 58.2)" fill="#23a024" fill-opacity="0.55"/>
<circle cx="504.7" cy="58.6" r="1.13" fill="#48e442" fill-opacity="0.9"/>
<circle cx="504.9" cy="57.7" r="1.16" fill="#48e442" fill-opacity="0.9"/>
<circle cx="505.7" cy="58.2" r="1.31" fill="#48e442" fill-opacity="0.9"/>
<circle cx="503.6" cy="58.7" r="1.27" fill="#48e442" fill-opacity="0.9"/>
<circle cx="505.1" cy="58.9" r="1.34" fill="#48e442" fill-opacity="0.9"/>
<circle cx="505.5" cy="58.5" r="1.04" fill="#48e442" fill-opacity="0.9"/>
<ellipse cx="499.4" cy="71.8" rx="2.70" ry="2.27" transform="rotate(134 499.4 71.8)" fill="#23a024" fill-opacity="0.55"/>
<circle cx="500.7" cy="71.2" r="0.75" fill="#48e442" fill-opacity="0.9"/>
<circle cx="499.5" cy="71.8" r="1.01" fill="#48e442" fill-opacity="0.9"/>
<circle cx="500.5" cy="72.0" r="1.13" fill="#48e442" fill-opacity="0.9"/>
<circle cx="499.9" cy="73.5" r="1.00" fill="#48e442" fill-opacity="0.9"/>
<circle cx="500.1" cy="71.6" r="1.12" fill="#48e442" fill-opacity="0.9"/>
<circle cx="498.9" cy="71.7" r="1.22" fill="#48e442" fill-opacity="0.9"/>
<ellipse cx="465.0" cy="55.0" rx="2.25" ry="1.66" transform="rotate(1 465.0 55.0)" fill="#23a024" fill-opacity="0.55"/>
<circle cx="464.3" cy="56.4" r="0.88" fill="#48e442" fill-opacity="0.9"/>
<circle cx="465.5" cy="55.1" r="0.93" fill="#48e442" fill-opacity="0.9"/>
<circle cx="465.1" cy="54.8" r="1.01" fill="#48e442" fill-opacity="0.9"/>
<circle cx="464.3" cy="55.6" r="0.84" fill="#48e442" fill-opacity="0.9"/>
<circle cx="463.4" cy="55.7" r="1.08" fill="#48e442" fill-opacity="0.9"/>
<circle cx="466.1" cy="54.4" r="0.98" fill="#48e442" fill-opacity="0.9"/>
<ellipse cx="599.1" cy="59.1" rx="2.70" ry="1.83" transform="rotate(25 599.1 59.1)" fill="#23a024" fill-opacity="0.55"/>
<circle cx="599.8" cy="57.9" r="1.13" fill="#48e442" fill-opacity="0.9"/>
<circle cx="598.9" cy="59.6" r="1.30" fill="#48e442" fill-opacity="0.9"/>
<circle cx="599.1" cy="59.1" r="0.95" fill="#48e442" fill-opacity="0.9"/>
<circle cx="599.0" cy="59.2" r="1.34" fill="#48e442" fill-opacity="0.9"/>
<circle cx="600.5" cy="58.1" r="0.75" fill="#48e442" fill-opacity="0.9"/>
<circle cx="598.9" cy="59.2" r="1.19" fill="#48e442" fill-opacity="0.9"/>
<ellipse cx="528.1" cy="63.7" rx="3.60" ry="3.19" transform="rotate(146 528.1 63.7)" fill="#23a024" fill-opacity="0.55"/>
<circle cx="528.2" cy="63.4" r="1.01" fill="#48e442" fill-opacity="0.9"/>
<circle cx="530.1" cy="65.0" r="1.66" fill="#48e442" fill-opacity="0.9"/>
<circle cx="527.4" cy="63.6" r="1.69" fill="#48e442" fill-opacity="0.9"/>
<circle cx="528.8" cy="64.3" r="1.00" fill="#48e442" fill-opacity="0.9"/>
<circle cx="529.3" cy="63.6" r="1.62" fill="#48e442" fill-opacity="0.9"/>
<circle cx="528.6" cy="62.2" r="1.79" fill="#48e442" fill-opacity="0.9"/>
<ellipse cx="539.0" cy="72.8" rx="2.70" ry="2.50" transform="rotate(139 539.0 72.8)" fill="#23a024" fill-opacity="0.55"/>
<circle cx="539.2" cy="72.8" r="1.20" fill="#48e442" fill-opacity="0.9"/>
<circle cx="539.1" cy="73.5" r="0.95" fill="#48e442" fill-opacity="0.9"/>
<circle cx="539.1" cy="72.8" r="1.01" fill="#48e442" fill-opacity="0.9"/>
<circle cx="540.5" cy="74.3" r="1.05" fill="#48e442" fill-opacity="0.9"/>
<circle cx="538.7" cy="71.8" r="1.21" fill="#48e442" fill-opacity="0.9"/>
<circle cx="538.6" cy="73.5" r="1.20" fill="#48e442" fill-opacity="0.9"/>
<ellipse cx="530.8" cy="83.7" rx="5.40" ry="4.93" transform="rotate(126 530.8 83.7)" fill="#23a024" fill-opacity="0.55"/>
<circle cx="529.5" cy="87.0" r="2.38" fill="#48e442" fill-opacity="0.9"/>
<circle cx="529.3" cy="82.9" r="2.18" fill="#48e442" fill-opacity="0.9"/>
<circle cx="531.2" cy="83.9" r="1.87" fill="#48e442" fill-opacity="0.9"/>
<circle cx="530.9" cy="83.8" r="2.36" fill="#48e442" fill-opacity="0.9"/>
<circle cx="530.5" cy="81.1" r="1.75" fill="#48e442" fill-opacity="0.9"/>
<circle cx="530.2" cy="80.3" r="2.24" fill="#48e442" fill-opacity="0.9"/>
<ellipse cx="552.7" cy="92.8" rx="5.40" ry="4.45" transform="rotate(41 552.7 92.8)" fill="#23a024" fill-opacity="0.55"/>
<circle cx="551.8" cy="93.5" r="1.68" fill="#48e442" fill-opacity="0.9"/>
<circle cx="554.5" cy="90.8" r="2.62" fill="#48e442" fill-opacity="0.9"/>
<circle cx="553.2" cy="93.8" r="2.11" fill="#48e442" fill-opacity="0.9"/>
<circle cx="553.9" cy="93.3" r="2.15" fill="#48e442" fill-opacity="0.9"/>
<circle cx="548.9" cy="93.2" r="2.19" fill="#48e442" fill-opacity="0.9"/>
<circle cx="551.1" cy="90.9" r="2.44" fill="#48e442" fill-opacity="0.9"/>
<ellipse cx="557.2" cy="105.5" rx="3.60" ry="2.40" transform="rotate(66 557.2 105.5)" fill="#23a024" fill-opacity="0.55"/>
<circle cx="559.4" cy="105.2" r="1.10" fill="#48e442" fill-opacity="0.9"/>
<circle cx="557.7" cy="105.9" r="1.53" fill="#48e442" fill-opacity="0.9"/>
<circle cx="557.2" cy="105.5" r="1.40" fill="#48e442" fill-opacity="0.9"/>
<circle cx="557.9" cy="105.5" r="1.31" fill="#48e442" fill-opacity="0.9"/>
<circle cx="557.2" cy="105.5" r="1.21" fill="#48e442" fill-opacity="0.9"/>
<circle cx="557.2" cy="106.4" r="1.33" fill="#48e442" fill-opacity="0.9"/>
<ellipse cx="581.8" cy="70.0" rx="3.60" ry="2.72" transform="rotate(65 581.8 70.0)" fill="#23a024" fill-opacity="0.55"/>
<circle cx="584.1" cy="70.3" r="1.59" fill="#48e442" fill-opacity="0.9"/>
<circle cx="581.8" cy="70.0" r="1.19" fill="#48e442" fill-opacity="0.9"/>
<circle cx="582.8" cy="69.3" r="1.16" fill="#48e442" fill-opacity="0.9"/>
<circle cx="582.9" cy="67.7" r="1.10" fill="#48e442" fill-opacity="0.9"/>
<circle cx="580.2" cy="70.0" r="1.09" fill="#48e442" fill-opacity="0.9"/>
<circle cx="581.1" cy="71.6" r="1.54" fill="#48e442" fill-opacity="0.9"/>
<ellipse cx="570.9" cy="84.6" rx="2.70" ry="2.27" transform="rotate(113 570.9 84.6)" fill="#23a024" fill-opacity="0.55"/>
<circle cx="570.8" cy="84.7" r="0.76" fill="#48e442" fill-opacity="0.9"/>
<circle cx="571.8" cy="83.1" r="1.29" fill="#48e442" fill-opacity="0.9"/>
<circle cx="572.3" cy="85.3" r="0.85" fill="#48e442" fill-opacity="0.9"/>
<circle cx="570.7" cy="84.9" r="1.27" fill="#48e442" fill-opacity="0.9"/>
<circle cx="571.6" cy="83.0" r="0.98" fill="#48e442" fill-opacity="0.9"/>
<circle cx="571.4" cy="84.4" r="1.09" fill="#48e442" fill-opacity="0.9"/>
<ellipse cx="575.4" cy="86.4" rx="2.70" ry="1.98" transform="rotate(121 575.4 86.4)" fill="#23a024" fill-opacity="0.55"/>
<circle cx="575.2" cy="86.5" r="1.23" fill="#48e442" fill-opacity="0.9"/>
<circle cx="575.5" cy="86.7" r="0.92" fill="#48e442" fill-opacity="0.9"/>
<circle cx="574.5" cy="85.4" r="1.06" fill="#48e442" fill-opacity="0.9"/>
<circle cx="576.4" cy="85.1" r="0.88" fill="#48e442" fill-opacity="0.9"/>
<circle cx="575.1" cy="86.3" r="0.90" fill="#48e442" fill-opacity="0.9"/>
<circle cx="575.5" cy="86.5" r="0.96" fill="#48e442" fill-opacity="0.9"/>
<ellipse cx="591.8" cy="93.7" rx="4.50" ry="3.82" transform="rotate(160 591.8 93.7)" fill="#23a024" fill-opacity="0.55"/>
<circle cx="592.5" cy="94.1" r="1.84" fill="#48e442" fill-opacity="0.9"/>
<circle cx="591.7" cy="93.7" r="1.34" fill="#48e442" fill-opacity="0.9"/>
<circle cx="589.9" cy="92.9" r="1.33" fill="#48e442" fill-opacity="0.9"/>
<circle cx="591.9" cy="92.9" r="1.84" fill="#48e442" fill-opacity="0.9"/>
<circle cx="590.6" cy="93.5" r="2.20" fill="#48e442" fill-opacity="0.9"/>
<circle cx="590.6" cy="94.6" r="1.79" fill="#48e442" fill-opacity="0.9"/>
<ellipse cx="534.5" cy="114.6" rx="2.25" ry="2.12" transform="rotate(151 534.5 114.6)" fill="#23a024" fill-opacity="0.55"/>
<circle cx="534.6" cy="113.7" r="0.98" fill="#48e442" fill-opacity="0.9"/>
<circle cx="533.4" cy="113.3" r="1.11" fill="#48e442" fill-opacity="0.9"/>
<circle cx="534.5" cy="114.2" r="0.91" fill="#48e442" fill-opacity="0.9"/>
<circle cx="534.1" cy="114.8" r="1.02" fill="#48e442" fill-opacity="0.9"/>
<circle cx="534.7" cy="115.8" r="0.87" fill="#48e442" fill-opacity="0.9"/>
<circle cx="533.4" cy="115.1" r="0.99" fill="#48e442" fill-opacity="0.9"/>
<ellipse cx="549.9" cy="120.1" rx="1.80" ry="1.70" transform="rotate(178 549.9 120.1)" fill="#23a024" fill-opacity="0.55"/>
<circle cx="550.0" cy="119.7" r="0.77" fill="#48e442" fill-opacity="0.9"/>
<circle cx="548.6" cy="120.1" r="0.68" fill="#48e442" fill-opacity="0.9"/>
<circle cx="549.9" cy="120.1" r="0.69" fill="#48e442" fill-opacity="0.9"/>
<circle cx="549.5" cy="120.0" r="0.54" fill="#48e442" fill-opacity="0.9"/>
<circle cx="549.8" cy="120.1" r="0.57" fill="#48e442" fill-opacity="0.9"/>
<circle cx="549.4" cy="120.3" r="0.70" fill="#48e442" fill-opacity="0.9"/>
<ellipse cx="528.1" cy="128.3" rx="2.25" ry="1.74" transform="rotate(95 528.1 128.3)" fill="#23a024" fill-opacity="0.55"/>
<circle cx="528.1" cy="128.3" r="0.90" fill="#48e442" fill-opacity="0.9"/>
<circle cx="528.6" cy="128.2" r="0.80" fill="#48e442" fill-opacity="0.9"/>
<circle cx="527.6" cy="129.5" r="0.87" fill="#48e442" fill-opacity="0.9"/>
<circle cx="528.1" cy="128.3" r="0.69" fill="#48e442" fill-opacity="0.9"/>
<circle cx="528.3" cy="128.9" r="0.82" fill="#48e442" fill-opacity="0.9"/>
<circle cx="526.8" cy="129.4" r="0.84" fill="#48e442" fill-opacity="0.9"/>
<ellipse cx="535.4" cy="133.7" rx="3.60" ry="3.36" transform="rotate(104 535.4 133.7)" fill="#23a024" fill-opacity="0.55"/>
<circle cx="534.4" cy="132.4" r="1.66" fill="#48e442" fill-opacity="0.9"/>
<circle cx="535.3" cy="133.8" r="1.77" fill="#48e442" fill-opacity="0.9"/>
<circle cx="533.8" cy="133.4" r="1.05" fill="#48e442" fill-opacity="0.9"/>
<circle cx="535.4" cy="132.7" r="1.51" fill="#48e442" fill-opacity="0.9"/>
<circle cx="534.9" cy="136.2" r="1.30" fill="#48e442" fill-opacity="0.9"/>
<circle cx="535.0" cy="136.2" r="1.18" fill="#48e442" fill-opacity="0.9"/>
<ellipse cx="561.8" cy="134.6" rx="2.70" ry="2.17" transform="rotate(49 561.8 134.6)" fill="#23a024" fill-opacity="0.55"/>
<circle cx="562.0" cy="134.6" r="0.88" fill="#48e442" fill-opacity="0.9"/>
<circle cx="561.8" cy="134.4" r="1.00" fill="#48e442" fill-opacity="0.9"/>
<circle cx="562.1" cy="133.1" r="1.23" fill="#48e442" fill-opacity="0.9"/>
<circle cx="563.2" cy="135.9" r="0.96" fill="#48e442" fill-opacity="0.9"/>
<circle cx="562.2" cy="133.7" r="1.28" fill="#48e442" fill-opacity="0.9"/>
<circle cx="561.3" cy="134.7" r="0.84" fill="#48e442" fill-opacity="0.9"/>
<ellipse cx="455.1" cy="137.9" rx="2.70" ry="1.84" transform="rotate(89 455.1 137.9)" fill="#23a024" fill-opacity="0.55"/>
<circle cx="456.0" cy="139.5" r="1.09" fill="#48e442" fill-opacity="0.9"/>
<circle cx="455.3" cy="137.7" r="1.04" fill="#48e442" fill-opacity="0.9"/>
<circle cx="454.9" cy="137.9" r="0.91" fill="#48e442" fill-opacity="0.9"/>
<circle cx="456.4" cy="137.2" r="1.06" fill="#48e442" fill-opacity="0.9"/>
<circle cx="453.7" cy="136.8" r="1.32" fill="#48e442" fill-opacity="0.9"/>
<circle cx="455.0" cy="137.8" r="1.27" fill="#48e442" fill-opacity="0.9"/>
<ellipse cx="444.0" cy="158.2" rx="2.70" ry="1.98" transform="rotate(30 444.0 158.2)" fill="#23a024" fill-opacity="0.55"/>
<circle cx="444.7" cy="159.0" r="1.10" fill="#48e442" fill-opacity="0.9"/>
<circle cx="443.0" cy="158.4" r="0.83" fill="#48e442" fill-opacity="0.9"/>
<circle cx="443.8" cy="157.1" r="0.94" fill="#48e442" fill-opacity="0.9"/>
<circle cx="445.0" cy="156.5" r="1.30" fill="#48e442" fill-opacity="0.9"/>
<circle cx="444.1" cy="158.2" r="0.98" fill="#48e442" fill-opacity="0.9"/>
<circle cx="443.5" cy="158.4" r="1.20" fill="#48e442" fill-opacity="0.9"/>
<ellipse cx="512.1" cy="152.6" rx="4.50" ry="3.17" transform="rotate(163 512.1 152.6)" fill="#23a024" fill-opacity="0.55"/>
<circle cx="508.7" cy="152.5" r="2.14" fill="#48e442" fill-opacity="0.9"/>
<circle cx="511.8" cy="152.7" r="1.71" fill="#48e442" fill-opacity="0.9"/>
<circle cx="509.4" cy="152.3" r="1.44" fill="#48e442" fill-opacity="0.9"/>
<circle cx="511.5" cy="156.0" r="1.26" fill="#48e442" fill-opacity="0.9"/>
<circle cx="511.8" cy="152.4" r="2.00" fill="#48e442" fill-opacity="0.9"/>
<circle cx="509.2" cy="154.1" r="1.47" fill="#48e442" fill-opacity="0.9"/>
<ellipse cx="502.0" cy="171.0" rx="3.60" ry="2.63" transform="rotate(158 502.0 171.0)" fill="#23a024" fill-opacity="0.55"/>
<circle cx="502.2" cy="171.1" r="1.06" fill="#48e442" fill-opacity="0.9"/>
<circle cx="499.9" cy="172.8" r="1.28" fill="#48e442" fill-opacity="0.9"/>
<circle cx="502.0" cy="170.9" r="1.41" fill="#48e442" fill-opacity="0.9"/>
<circle cx="501.7" cy="170.9" r="1.46" fill="#48e442" fill-opacity="0.9"/>
<circle cx="501.1" cy="171.3" r="1.66" fill="#48e442" fill-opacity="0.9"/>
<circle cx="501.9" cy="170.7" r="1.08" fill="#48e442" fill-opacity="0.9"/>
<ellipse cx="455.1" cy="184.8" rx="2.70" ry="2.00" transform="rotate(9 455.1 184.8)" fill="#23a024" fill-opacity="0.55"/>
<circle cx="453.8" cy="183.3" r="1.33" fill="#48e442" fill-opacity="0.9"/>
<circle cx="455.3" cy="184.6" r="1.23" fill="#48e442" fill-opacity="0.9"/>
<circle cx="455.2" cy="183.8" r="1.35" fill="#48e442" fill-opacity="0.9"/>
<circle cx="454.9" cy="184.7" r="0.88" fill="#48e442" fill-opacity="0.9"/>
<circle cx="456.0" cy="185.7" r="1.12" fill="#48e442" fill-opacity="0.9"/>
<circle cx="455.1" cy="184.8" r="0.76" fill="#48e442" fill-opacity="0.9"/>
<ellipse cx="499.2" cy="191.3" rx="2.70" ry="2.00" transform="rotate(175 499.2 191.3)" fill="#23a024" fill-opacity="0.55"/>
<circle cx="499.0" cy="193.1" r="0.82" fill="#48e442" fill-opacity="0.9"/>
<circle cx="499.7" cy="189.5" r="1.09" fill="#48e442" fill-opacity="0.9"/>
<circle cx="499.2" cy="191.3" r="1.11" fill="#48e442" fill-opacity="0.9"/>
<circle cx="498.0" cy="190.2" r="1.06" fill="#48e442" fill-opacity="0.9"/>
<circle cx="499.6" cy="191.6" r="1.14" fill="#48e442" fill-opacity="0.9"/>
<circle cx="499.4" cy="191.4" r="0.90" fill="#48e442" fill-opacity="0.9"/>
<ellipse cx="497.4" cy="179.3" rx="1.80" ry="1.47" transform="rotate(143 497.4 179.3)" fill="#23a024" fill-opacity="0.55"/>
<circle cx="496.6" cy="180.4" r="0.73" fill="#48e442" fill-opacity="0.9"/>
<circle cx="497.5" cy="180.1" r="0.84" fill="#48e442" fill-opacity="0.9"/>
<circle cx="497.0" cy="179.7" r="0.73" fill="#48e442" fill-opacity="0.9"/>
<circle cx="498.3" cy="179.2" r="0.57" fill="#48e442" fill-opacity="0.9"/>
<circle cx="497.0" cy="179.1" r="0.69" fill="#48e442" fill-opacity="0.9"/>
<circle cx="497.4" cy="179.3" r="0.70" fill="#48e442" fill-opacity="0.9"/>
<ellipse cx="471.6" cy="201.4" rx="3.60" ry="3.00" transform="rotate(57 471.6 201.4)" fill="#23a024" fill-opacity="0.55"/>
<circle cx="472.2" cy="200.2" r="1.50" fill="#48e442" fill-opacity="0.9"/>
<circle cx="471.4" cy="202.1" r="1.41" fill="#48e442" fill-opacity="0.9"/>
<circle cx="471.0" cy="201.3" r="1.61" fill="#48e442" fill-opacity="0.9"/>
<circle cx="470.6" cy="201.4" r="1.20" fill="#48e442" fill-opacity="0.9"/>
<circle cx="472.9" cy="199.2" r="1.75" fill="#48e442" fill-opacity="0.9"/>
<circle cx="471.6" cy="201.6" r="1.51" fill="#48e442" fill-opacity="0.9"/>
<ellipse cx="502.0" cy="206.0" rx="2.70" ry="2.44" transform="rotate(4 502.0 206.0)" fill="#23a024" fill-opacity="0.55"/>
<circle cx="501.7" cy="205.4" r="1.01" fill="#48e442" fill-opacity="0.9"/>
<circle cx="501.9" cy="205.7" r="0.97" fill="#48e442" fill-opacity="0.9"/>
<circle cx="502.3" cy="204.6" r="1.10" fill="#48e442" fill-opacity="0.9"/>
<circle cx="502.4" cy="206.3" r="0.90" fill="#48e442" fill-opacity="0.9"/>
<circle cx="503.3" cy="206.3" r="1.09" fill="#48e442" fill-opacity="0.9"/>
<circle cx="503.0" cy="205.5" r="1.30" fill="#48e442" fill-opacity="0.9"/>
<ellipse cx="493.7" cy="215.2" rx="2.70" ry="2.19" transform="rotate(84 493.7 215.2)" fill="#23a024" fill-opacity="0.55"/>
<circle cx="493.5" cy="216.2" r="1.31" fill="#48e442" fill-opacity="0.9"/>
<circle cx="493.7" cy="215.2" r="0.96" fill="#48e442" fill-opacity="0.9"/>
<circle cx="494.1" cy="216.4" r="1.06" fill="#48e442" fill-opacity="0.9"/>
<circle cx="491.8" cy="215.5" r="1.21" fill="#48e442" fill-opacity="0.9"/>
<circle cx="493.8" cy="215.2" r="1.17" fill="#48e442" fill-opacity="0.9"/>
<circle cx="492.6" cy="214.4" r="1.05" fill="#48e442" fill-opacity="0.9"/>
<ellipse cx="504.7" cy="222.5" rx="2.70" ry="2.14" transform="rotate(6 504.7 222.5)" fill="#23a024" fill-opacity="0.55"/>
<circle cx="505.3" cy="221.4" r="0.78" fill="#48e442" fill-opacity="0.9"/>
<circle cx="506.0" cy="223.8" r="1.08" fill="#48e442" fill-opacity="0.9"/>
<circle cx="505.5" cy="223.8" r="1.30" fill="#48e442" fill-opacity="0.9"/>
<circle cx="505.6" cy="221.5" r="1.23" fill="#48e442" fill-opacity="0.9"/>
<circle cx="505.5" cy="223.0" r="1.24" fill="#48e442" fill-opacity="0.9"/>
<circle cx="504.5" cy="222.8" r="1.27" fill="#48e442" fill-opacity="0.9"/>
<ellipse cx="561.3" cy="140.7" rx="5.40" ry="3.61" transform="rotate(127 561.3 140.7)" fill="#23a024" fill-opacity="0.55"/>
<circle cx="563.5" cy="141.6" r="2.64" fill="#48e442" fill-opacity="0.9"/>
<circle cx="558.6" cy="138.2" r="1.63" fill="#48e442" fill-opacity="0.9"/>
<circle cx="560.6" cy="140.3" r="1.90" fill="#48e442" fill-opacity="0.9"/>
<circle cx="562.5" cy="142.3" r="1.56" fill="#48e442" fill-opacity="0.9"/>
<circle cx="559.8" cy="138.4" r="2.59" fill="#48e442" fill-opacity="0.9"/>
<circle cx="561.3" cy="140.4" r="2.54" fill="#48e442" fill-opacity="0.9"/>
<ellipse cx="569.6" cy="148.0" rx="4.50" ry="4.17" transform="rotate(98 569.6 148.0)" fill="#23a024" fill-opacity="0.55"/>
<circle cx="569.3" cy="148.0" r="1.95" fill="#48e442" fill-opacity="0.9"/>
<circle cx="571.2" cy="151.1" r="1.79" fill="#48e442" fill-opacity="0.9"/>
<circle cx="571.0" cy="147.0" r="1.58" fill="#48e442" fill-opacity="0.9"/>
<circle cx="568.3" cy="145.9" r="1.71" fill="#48e442" fill-opacity="0.9"/>
<circle cx="569.4" cy="149.5" r="1.96" fill="#48e442" fill-opacity="0.9"/>
<circle cx="569.7" cy="148.5" r="1.73" fill="#48e442" fill-opacity="0.9"/>
<ellipse cx="590.7" cy="150.8" rx="2.70" ry="1.85" transform="rotate(118 590.7 150.8)" fill="#23a024" fill-opacity="0.55"/>
<circle cx="590.4" cy="152.8" r="0.91" fill="#48e442" fill-opacity="0.9"/>
<circle cx="590.8" cy="150.2" r="0.80" fill="#48e442" fill-opacity="0.9"/>
<circle cx="588.9" cy="151.0" r="1.22" fill="#48e442" fill-opacity="0.9"/>
<circle cx="592.1" cy="151.2" r="1.12" fill="#48e442" fill-opacity="0.9"/>
<circle cx="589.3" cy="151.0" r="1.06" fill="#48e442" fill-opacity="0.9"/>
<circle cx="591.3" cy="152.1" r="0.83" fill="#48e442" fill-opacity="0.9"/>
<ellipse cx="520.8" cy="159.1" rx="3.60" ry="3.25" transform="rotate(56 520.8 159.1)" fill="#23a024" fill-opacity="0.55"/>
<circle cx="519.5" cy="158.5" r="1.57" fill="#48e442" fill-opacity="0.9"/>
<circle cx="519.7" cy="159.2" r="1.44" fill="#48e442" fill-opacity="0.9"/>
<circle cx="521.8" cy="159.2" r="1.03" fill="#48e442" fill-opacity="0.9"/>
<circle cx="523.3" cy="159.0" r="1.52" fill="#48e442" fill-opacity="0.9"/>
<circle cx="522.1" cy="161.1" r="1.23" fill="#48e442" fill-opacity="0.9"/>
<circle cx="521.4" cy="157.4" r="1.48" fill="#48e442" fill-opacity="0.9"/>
<ellipse cx="561.3" cy="169.2" rx="3.60" ry="2.67" transform="rotate(133 561.3 169.2)" fill="#23a024" fill-opacity="0.55"/>
<circle cx="562.1" cy="167.9" r="1.61" fill="#48e442" fill-opacity="0.9"/>
<circle cx="561.7" cy="168.6" r="1.33" fill="#48e442" fill-opacity="0.9"/>
<circle cx="561.2" cy="169.4" r="1.70" fill="#48e442" fill-opacity="0.9"/>
<circle cx="560.8" cy="167.9" r="1.44" fill="#48e442" fill-opacity="0.9"/>
<circle cx="561.4" cy="169.1" r="1.29" fill="#48e442" fill-opacity="0.9"/>
<circle cx="560.7" cy="167.8" r="1.40" fill="#48e442" fill-opacity="0.9"/>
<ellipse cx="565.9" cy="184.8" rx="6.30" ry="4.59" transform="rotate(47 565.9 184.8)" fill="#23a024" fill-opacity="0.55"/>
<circle cx="565.1" cy="183.3" r="3.06" fill="#48e442" fill-opacity="0.9"/>
<circle cx="569.8" cy="182.1" r="2.14" fill="#48e442" fill-opacity="0.9"/>
<circle cx="565.4" cy="184.8" r="2.25" fill="#48e442" fill-opacity="0.9"/>
<circle cx="568.1" cy="185.9" r="3.09" fill="#48e442" fill-opacity="0.9"/>
<circle cx="566.0" cy="183.0" r="2.14" fill="#48e442" fill-opacity="0.9"/>
<circle cx="566.1" cy="184.7" r="2.93" fill="#48e442" fill-opacity="0.9"/>
<ellipse cx="572.3" cy="178.4" rx="3.60" ry="2.47" transform="rotate(154 572.3 178.4)" fill="#23a024" fill-opacity="0.55"/>
<circle cx="574.0" cy="177.9" r="1.31" fill="#48e442" fill-opacity="0.9"/>
<circle cx="570.8" cy="179.2" r="1.42" fill="#48e442" fill-opacity="0.9"/>
<circle cx="574.0" cy="176.5" r="1.26" fill="#48e442" fill-opacity="0.9"/>
<circle cx="574.5" cy="178.5" r="1.52" fill="#48e442" fill-opacity="0.9"/>
<circle cx="572.2" cy="178.2" r="1.06" fill="#48e442" fill-opacity="0.9"/>
<circle cx="573.1" cy="177.8" r="1.38" fill="#48e442" fill-opacity="0.9"/>
<ellipse cx="603.6" cy="190.3" rx="4.50" ry="3.24" transform="rotate(175 603.6 190.3)" fill="#23a024" fill-opacity="0.55"/>
<circle cx="603.5" cy="190.1" r="1.81" fill="#48e442" fill-opacity="0.9"/>
<circle cx="603.6" cy="189.8" r="2.01" fill="#48e442" fill-opacity="0.9"/>
<circle cx="606.4" cy="189.7" r="2.04" fill="#48e442" fill-opacity="0.9"/>
<circle cx="606.0" cy="189.5" r="1.80" fill="#48e442" fill-opacity="0.9"/>
<circle cx="604.9" cy="187.8" r="1.88" fill="#48e442" fill-opacity="0.9"/>
<circle cx="603.3" cy="189.8" r="1.59" fill="#48e442" fill-opacity="0.9"/>
<ellipse cx="598.1" cy="185.7" rx="1.80" ry="1.63" transform="rotate(59 598.1 185.7)" fill="#23a024" fill-opacity="0.55"/>
<circle cx="598.2" cy="185.3" r="0.90" fill="#48e442" fill-opacity="0.9"/>
<circle cx="598.2" cy="185.7" r="0.63" fill="#48e442" fill-opacity="0.9"/>
<circle cx="599.3" cy="186.3" r="0.64" fill="#48e442" fill-opacity="0.9"/>
<circle cx="597.2" cy="186.5" r="0.71" fill="#48e442" fill-opacity="0.9"/>
<circle cx="597.7" cy="185.2" r="0.68" fill="#48e442" fill-opacity="0.9"/>
<circle cx="598.5" cy="185.6" r="0.71" fill="#48e442" fill-opacity="0.9"/>
<ellipse cx="534.6" cy="190.3" rx="1.80" ry="1.27" transform="rotate(86 534.6 190.3)" fill="#23a024" fill-opacity="0.55"/>
<circle cx="535.0" cy="190.9" r="0.82" fill="#48e442" fill-opacity="0.9"/>
<circle cx="534.5" cy="190.3" r="0.87" fill="#48e442" fill-opacity="0.9"/>
<circle cx="535.4" cy="191.2" r="0.52" fill="#48e442" fill-opacity="0.9"/>
<circle cx="534.5" cy="190.1" r="0.60" fill="#48e442" fill-opacity="0.9"/>
<circle cx="533.7" cy="190.8" r="0.67" fill="#48e442" fill-opacity="0.9"/>
<circle cx="534.1" cy="190.6" r="0.71" fill="#48e442" fill-opacity="0.9"/>
<ellipse cx="587.1" cy="198.6" rx="1.80" ry="1.68" transform="rotate(51 587.1 198.6)" fill="#23a024" fill-opacity="0.55"/>
<circle cx="587.2" cy="198.8" r="0.72" fill="#48e442" fill-opacity="0.9"/>
<circle cx="586.5" cy="199.4" r="0.52" fill="#48e442" fill-opacity="0.9"/>
<circle cx="586.9" cy="198.1" r="0.87" fill="#48e442" fill-opacity="0.9"/>
<circle cx="586.9" cy="199.2" r="0.63" fill="#48e442" fill-opacity="0.9"/>
<circle cx="586.7" cy="198.5" r="0.77" fill="#48e442" fill-opacity="0.9"/>
<circle cx="586.3" cy="199.1" r="0.62" fill="#48e442" fill-opacity="0.9"/>
<ellipse cx="563.1" cy="211.5" rx="3.60" ry="2.96" transform="rotate(82 563.1 211.5)" fill="#23a024" fill-opacity="0.55"/>
<circle cx="562.7" cy="209.7" r="1.34" fill="#48e442" fill-opacity="0.9"/>
<circle cx="563.4" cy="211.7" r="1.12" fill="#48e442" fill-opacity="0.9"/>
<circle cx="563.3" cy="212.0" r="1.53" fill="#48e442" fill-opacity="0.9"/>
<circle cx="561.7" cy="213.6" r="1.19" fill="#48e442" fill-opacity="0.9"/>
<circle cx="563.1" cy="212.0" r="1.12" fill="#48e442" fill-opacity="0.9"/>
<circle cx="562.4" cy="210.0" r="1.20" fill="#48e442" fill-opacity="0.9"/>
<circle cx="455.0" cy="150.0" r="1.50" fill="#1d6e1f" fill-opacity="0.8"/>
<circle cx="520.0" cy="140.0" r="1.50" fill="#1d6e1f" fill-opacity="0.8"/>
<circle cx="480.0" cy="100.0" r="1.50" fill="#1d6e1f" fill-opacity="0.8"/>
<circle cx="550.0" cy="130.0" r="1.50" fill="#1d6e1f" fill-opacity="0.8"/>
<circle cx="585.0" cy="120.0" r="2.00" fill="#1d6e1f" fill-opacity="0.8"/>
<circle cx="470.0" cy="160.0" r="1.50" fill="#1d6e1f" fill-opacity="0.8"/>
<circle cx="530.0" cy="175.0" r="1.50" fill="#1d6e1f" fill-opacity="0.8"/>
</g>
<rect x="432.7" y="49.4" width="74.5" height="26.300000000000004" fill="#fff" fill-opacity="0.64"/>
</g>
<text x="450.0" y="68.3" font-size="15.4" font-weight="bold" fill="#151515" stroke="#151515" stroke-width="0.25" textLength="39" lengthAdjust="spacingAndGlyphs">Day 2</text>
<path d="M440.7,205.10000000000002 V207.8 H533.3 V205.10000000000002 M487.0,207.8 v-1.6" stroke="#e9e5cf" stroke-width="0.9" fill="none"/>
<text x="440.7" y="202.8" font-size="5.5" font-weight="bold" fill="#e9e5cf" text-anchor="middle">0</text>
<text x="533.3" y="202.8" font-size="5.5" font-weight="bold" fill="#e9e5cf" text-anchor="middle">200</text>
<text x="487.0" y="205.0" font-size="5.5" font-weight="bold" fill="#e9e5cf" text-anchor="middle">&#956;m</text>
<text x="441.7" y="216.8" font-size="6.3" font-weight="bold" fill="#e9e5cf" stroke="#e9e5cf" stroke-width="0.15" textLength="66.5" lengthAdjust="spacingAndGlyphs">0.37 x 0.37 mm, 0.14 mm&#178;</text>
</svg>
</body></html>
